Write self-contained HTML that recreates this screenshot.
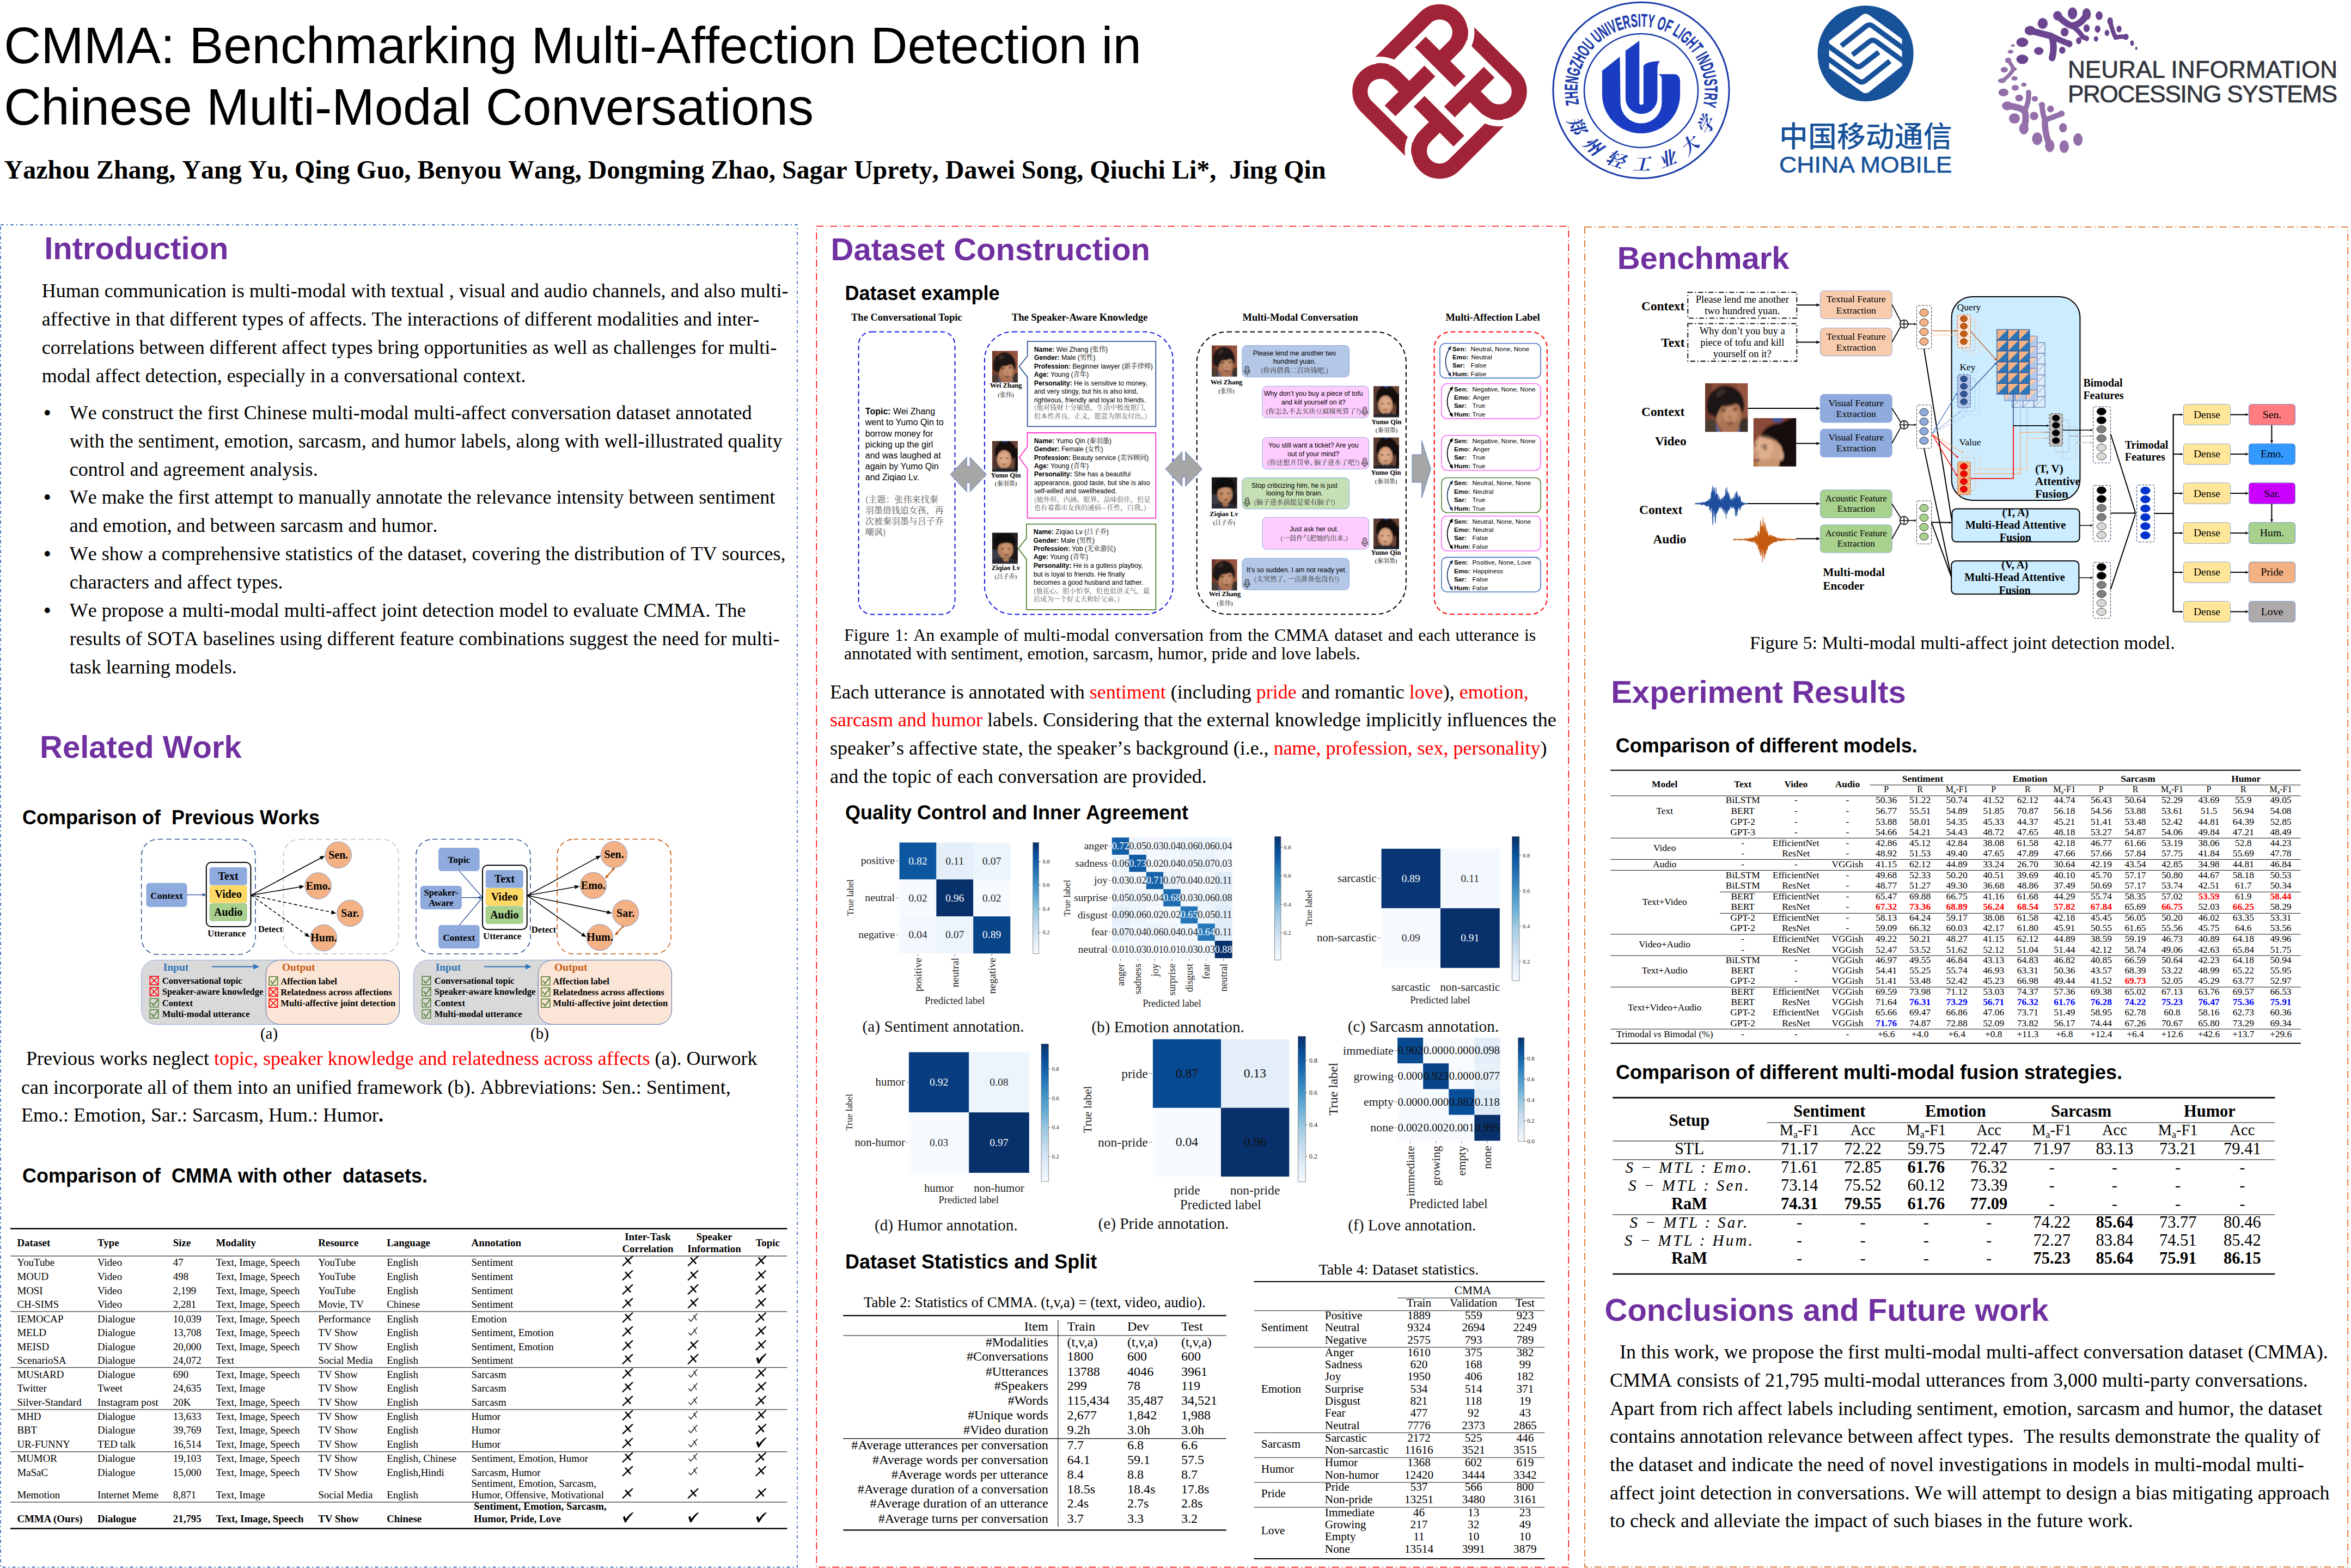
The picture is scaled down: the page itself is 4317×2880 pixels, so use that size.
<!DOCTYPE html>
<html lang="en"><head><meta charset="utf-8"><title>CMMA: Benchmarking Multi-Affection Detection in Chinese Multi-Modal Conversations</title>
<style>
html,body{margin:0;padding:0;background:#fff}
body{width:4317px;height:2880px;position:relative;overflow:hidden}
.l{position:absolute;white-space:nowrap;line-height:1;color:#000;font-kerning:none}
.hs{font-family:'Liberation Serif','Noto Serif CJK SC',serif}
.ha{font-family:'Liberation Sans','Noto Sans CJK SC',sans-serif}
.r{color:#f00}
svg{position:absolute;left:0;top:0}
svg text{white-space:pre}
.s{font-family:'Liberation Serif','Noto Serif CJK SC',serif}
.a{font-family:'Liberation Sans','Noto Sans CJK SC',sans-serif}
.as{font-family:'Liberation Sans','Noto Serif CJK SC',sans-serif}
.b{font-weight:bold}
.i{font-style:italic}
</style></head>
<body>
<div class="l ha" style="left:7.3px;top:36.9px;font-size:94.2px;">CMMA: Benchmarking Multi-Affection Detection in</div>
<div class="l ha" style="left:7.3px;top:150.1px;font-size:94.2px;">Chinese Multi-Modal Conversations</div>
<div class="l hs" style="left:7.5px;top:288.2px;font-size:48px;font-weight:bold;white-space:pre;">Yazhou Zhang, Yang Yu, Qing Guo, Benyou Wang, Dongming Zhao, Sagar Uprety, Dawei Song, Qiuchi Li*,  Jing Qin</div>
<div class="l ha" style="left:81.2px;top:427.2px;font-size:58px;font-weight:bold;color:#7030A0;">Introduction</div>
<div class="l hs" style="left:76.8px;top:515.9px;font-size:36px;">Human communication is multi-modal with textual , visual and audio channels, and also multi-</div>
<div class="l hs" style="left:76.8px;top:567.6px;font-size:36px;">affective in that different types of affects. The interactions of different modalities and inter-</div>
<div class="l hs" style="left:76.8px;top:619.6px;font-size:36px;">correlations between different affect types bring opportunities as well as challenges for multi-</div>
<div class="l hs" style="left:76.8px;top:671.5px;font-size:36px;">modal affect detection, especially in a conversational context.</div>
<div class="l ha" style="left:80.5px;top:739.5px;font-size:36px;">•</div>
<div class="l hs" style="left:127.8px;top:739.9px;font-size:36px;">We construct the first Chinese multi-modal multi-affect conversation dataset annotated</div>
<div class="l hs" style="left:127.8px;top:791.7px;font-size:36px;">with the sentiment, emotion, sarcasm, and humor labels, along with well-illustrated quality</div>
<div class="l hs" style="left:127.8px;top:843.6px;font-size:36px;">control and agreement analysis.</div>
<div class="l ha" style="left:80.5px;top:895.1px;font-size:36px;">•</div>
<div class="l hs" style="left:127.8px;top:895.4px;font-size:36px;">We make the first attempt to manually annotate the relevance intensity between sentiment</div>
<div class="l hs" style="left:127.8px;top:947.2px;font-size:36px;">and emotion, and between sarcasm and humor.</div>
<div class="l ha" style="left:80.5px;top:998.8px;font-size:36px;">•</div>
<div class="l hs" style="left:127.8px;top:999.1px;font-size:36px;">We show a comprehensive statistics of the dataset, covering the distribution of TV sources,</div>
<div class="l hs" style="left:127.8px;top:1050.9px;font-size:36px;">characters and affect types.</div>
<div class="l ha" style="left:80.5px;top:1102.5px;font-size:36px;">•</div>
<div class="l hs" style="left:127.8px;top:1102.8px;font-size:36px;">We propose a multi-modal multi-affect joint detection model to evaluate CMMA. The</div>
<div class="l hs" style="left:127.8px;top:1154.6px;font-size:36px;">results of SOTA baselines using different feature combinations suggest the need for multi-</div>
<div class="l hs" style="left:127.8px;top:1206.5px;font-size:36px;">task learning models.</div>
<div class="l ha" style="left:73.1px;top:1342.9px;font-size:58px;font-weight:bold;color:#7030A0;">Related Work</div>
<div class="l ha" style="left:41px;top:1483.5px;font-size:36px;font-weight:bold;white-space:pre;">Comparison of  Previous Works</div>
<div class="l hs" style="left:39px;top:1926.4px;font-size:36px;white-space:pre;"> Previous works neglect <span class="r">topic, speaker knowledge and relatedness across affects</span> (a). Ourwork</div>
<div class="l hs" style="left:39px;top:1978.5px;font-size:36px;">can incorporate all of them into an unified framework (b). Abbreviations: Sen.: Sentiment,</div>
<div class="l hs" style="left:39px;top:2030.3px;font-size:36px;">Emo.: Emotion, Sar.: Sarcasm, Hum.: Humor<b>.</b></div>
<div class="l ha" style="left:41px;top:2141.5px;font-size:36px;font-weight:bold;white-space:pre;">Comparison of  CMMA with other  datasets.</div>
<div class="l ha" style="left:1525.5px;top:428.5px;font-size:58px;font-weight:bold;color:#7030A0;">Dataset Construction</div>
<div class="l ha" style="left:1551.4px;top:520.5px;font-size:36px;font-weight:bold;">Dataset example</div>
<div class="l hs" style="left:1550px;top:1150.9px;font-size:31.9px;word-spacing:1.66px;">Figure 1: An example of multi-modal conversation from the CMMA dataset and each utterance is</div>
<div class="l hs" style="left:1550px;top:1185px;font-size:31.9px;">annotated with sentiment, emotion, sarcasm, humor, pride and love labels.</div>
<div class="l hs" style="left:1524px;top:1252.8px;font-size:36px;">Each utterance is annotated with <span class="r">sentiment</span> (including <span class="r">pride</span> and romantic <span class="r">love</span>), <span class="r">emotion,</span></div>
<div class="l hs" style="left:1524px;top:1304.3px;font-size:36px;"><span class="r">sarcasm and humor</span> labels. Considering that the external knowledge implicitly influences the</div>
<div class="l hs" style="left:1524px;top:1356px;font-size:36px;">speaker’s affective state, the speaker’s background (i.e., <span class="r">name, profession, sex, personality</span>)</div>
<div class="l hs" style="left:1524px;top:1407.8px;font-size:36px;">and the topic of each conversation are provided.</div>
<div class="l ha" style="left:1552px;top:1474.5px;font-size:36px;font-weight:bold;">Quality Control and Inner Agreement</div>
<div class="l ha" style="left:1552px;top:2299.5px;font-size:36px;font-weight:bold;">Dataset Statistics and Split</div>
<div class="l ha" style="left:2969.7px;top:445.1px;font-size:58px;font-weight:bold;color:#7030A0;">Benchmark</div>
<div class="l hs" style="left:3213px;top:1164.2px;font-size:34.1px;">Figure 5: Multi-modal multi-affect joint detection model.</div>
<div class="l ha" style="left:2958.2px;top:1241.7px;font-size:58px;font-weight:bold;color:#7030A0;">Experiment Results</div>
<div class="l ha" style="left:2966.8px;top:1352px;font-size:36px;font-weight:bold;">Comparison of different models.</div>
<div class="l ha" style="left:2967px;top:1952px;font-size:36px;font-weight:bold;">Comparison of different multi-modal fusion strategies.</div>
<div class="l ha" style="left:2946.5px;top:2376.9px;font-size:58px;font-weight:bold;color:#7030A0;">Conclusions and Future work</div>
<div class="l hs" style="left:2956px;top:2465.4px;font-size:36px;white-space:pre;">  In this work, we propose the first multi-modal multi-affect conversation dataset (CMMA).</div>
<div class="l hs" style="left:2956px;top:2517.1px;font-size:36px;white-space:pre;">CMMA consists of 21,795 multi-modal utterances from 3,000 multi-party conversations.</div>
<div class="l hs" style="left:2956px;top:2568.8px;font-size:36px;white-space:pre;">Apart from rich affect labels including sentiment, emotion, sarcasm and humor, the dataset</div>
<div class="l hs" style="left:2956px;top:2620.4px;font-size:36px;white-space:pre;">contains annotation relevance between affect types.  The results demonstrate the quality of</div>
<div class="l hs" style="left:2956px;top:2672px;font-size:36px;white-space:pre;">the dataset and indicate the need of novel investigations in models in multi-modal multi-</div>
<div class="l hs" style="left:2956px;top:2723.7px;font-size:36px;white-space:pre;">affect joint detection in conversations. We will attempt to design a bias mitigating approach</div>
<div class="l hs" style="left:2956px;top:2775.3px;font-size:36px;white-space:pre;">to check and alleviate the impact of such biases in the future work.</div>
<svg width="4317" height="2880" viewBox="0 0 4317 2880">
<g transform="translate(2643.5 168.1) rotate(45)">
<g id="pu"><path d="M-114.4 46 L-114.4 -77 A37.4 37.4 0 0 1 -39.6 -77 L-39.6 -39.3" fill="none" stroke="#A02337" stroke-width="28"/><path d="M-89.4 -39.3 L13.9 -39.3" fill="none" stroke="#A02337" stroke-width="28"/></g>
<use href="#pu" transform="rotate(90)"/>
<use href="#pu" transform="rotate(180)"/>
<use href="#pu" transform="rotate(270)"/>
<path transform="rotate(0)" d="M-53.3 -130.2 A58.2 58.2 0 0 1 -19.4 -85.1" fill="none" stroke="#fff" stroke-width="11.6"/>
<path transform="rotate(90)" d="M-53.3 -130.2 A58.2 58.2 0 0 1 -19.4 -85.1" fill="none" stroke="#fff" stroke-width="11.6"/>
<path transform="rotate(180)" d="M-53.3 -130.2 A58.2 58.2 0 0 1 -19.4 -85.1" fill="none" stroke="#fff" stroke-width="11.6"/>
<path transform="rotate(270)" d="M-53.3 -130.2 A58.2 58.2 0 0 1 -19.4 -85.1" fill="none" stroke="#fff" stroke-width="11.6"/>
</g>
<circle cx="3013.5" cy="165.9" r="161.6" fill="#fff" stroke="#1B3BAA" stroke-width="3"/>
<circle cx="3013.5" cy="166.5" r="104.5" fill="none" stroke="#1B3BAA" stroke-width="2.6"/>
<path id="zzp1" d="M2899.3 191.4 A117 117 0 1 1 3127 194.2" fill="none"/>
<text class="a b" font-size="33.5" fill="#1B3BAA" stroke="#1B3BAA" stroke-width="0.5" textLength="421.9" lengthAdjust="spacingAndGlyphs"><textPath href="#zzp1" textLength="421.9" lengthAdjust="spacingAndGlyphs">ZHENGZHOU UNIVERSITY OF LIGHT INDUSTRY</textPath></text>
<path id="zzp2" d="M2877.2 221 A147 147 0 0 0 3149.8 221" fill="none"/>
<text font-family="'Noto Serif CJK SC',serif" font-style="italic" font-weight="bold" font-size="33" fill="#1B3BAA" textLength="348.9" lengthAdjust="spacing"><textPath href="#zzp2" textLength="348.9" lengthAdjust="spacing">郑州轻工业大学</textPath></text>
<g transform="translate(2840 0) scale(0.21687)">
<path d="M470 600 L620 480 L625 870 A175 175 0 0 0 975 870 L975 660 Q970 640 945 628 L1090 628 Q1130 640 1130 690 L1130 800 A330 330 0 0 1 470 800 Z" fill="#1A3CC2"/>
<path d="M668 430 L785 345 L785 870 A17.5 17.5 0 0 0 820 870 L820 560 Q840 520 960 518 Q935 540 938 600 L938 830 A135 135 0 0 1 668 830 Z" fill="#1A3CC2"/>
</g>
<g transform="translate(3330 0) scale(0.12755)">
<circle cx="750" cy="770" r="690" fill="#18529A"/>
<path d="M225 590 L700 215 Q750 180 800 215 L1275 560 L1275 950 L800 1325 Q750 1360 700 1325 L225 980 Z" fill="#fff"/>
<path d="M400 660 L755 378 Q805 340 855 378 L1300 703" fill="none" stroke="#18529A" stroke-width="74" stroke-linejoin="round"/>
<path d="M400 660 L755 378 Q805 340 855 378 L1300 703" transform="rotate(180 750 770)" fill="none" stroke="#18529A" stroke-width="74" stroke-linejoin="round"/>
<path d="M560 790 L808 597 Q855 560 902 597 L1300 888" fill="none" stroke="#18529A" stroke-width="74" stroke-linejoin="round"/>
<path d="M560 790 L808 597 Q855 560 902 597 L1300 888" transform="rotate(180 750 770)" fill="none" stroke="#18529A" stroke-width="74" stroke-linejoin="round"/>
</g>
<text font-size="52.9" fill="#18529A" x="3267" y="270" font-family="'Noto Sans CJK SC',sans-serif" font-weight="500" textLength="317.6">中国移动通信</text>
<text class="a" font-size="43.4" fill="#18529A" x="3267" y="317" textLength="317.6" lengthAdjust="spacingAndGlyphs" stroke="#18529A" stroke-width="0.6">CHINA MOBILE</text>
<g transform="translate(3640 0) scale(0.28796)">
<ellipse cx="575" cy="85" rx="30" ry="38" fill="#6B4590"/>
<ellipse cx="665" cy="90" rx="27" ry="38" fill="#6B4590"/>
<ellipse cx="745" cy="100" rx="22" ry="28" fill="#6B4590"/>
<ellipse cx="480" cy="100" rx="28" ry="30" fill="#6B4590"/>
<ellipse cx="385" cy="150" rx="32" ry="35" fill="#6B4590"/>
<ellipse cx="305" cy="195" rx="35" ry="30" fill="#6B4590"/>
<ellipse cx="525" cy="205" rx="25" ry="28" fill="#6B4590"/>
<ellipse cx="665" cy="180" rx="20" ry="25" fill="#6B4590"/>
<ellipse cx="735" cy="185" rx="18" ry="23" fill="#6B4590"/>
<ellipse cx="815" cy="135" rx="18" ry="25" fill="#6B4590"/>
<ellipse cx="872" cy="185" rx="16" ry="22" fill="#6B4590"/>
<ellipse cx="795" cy="210" rx="15" ry="20" fill="#6B4590"/>
<ellipse cx="915" cy="235" rx="18" ry="20" fill="#6B4590"/>
<ellipse cx="255" cy="270" rx="38" ry="30" fill="#6B4590"/>
<ellipse cx="360" cy="325" rx="30" ry="25" fill="#6B4590"/>
<ellipse cx="510" cy="320" rx="20" ry="22" fill="#6B4590"/>
<ellipse cx="555" cy="280" rx="20" ry="22" fill="#6B4590"/>
<ellipse cx="615" cy="260" rx="17" ry="22" fill="#6B4590"/>
<ellipse cx="725" cy="248" rx="14" ry="17" fill="#6B4590"/>
<ellipse cx="665" cy="245" rx="12" ry="18" fill="#6B4590"/>
<ellipse cx="955" cy="275" rx="12" ry="18" fill="#6B4590"/>
<ellipse cx="982" cy="308" rx="7" ry="10" fill="#6B4590"/>
<ellipse cx="255" cy="378" rx="38" ry="30" fill="#6B4590"/>
<ellipse cx="445" cy="370" rx="20" ry="18" fill="#6B4590"/>
<path d="M305 195 Q380 215 440 230 Q465 290 445 370" fill="none" stroke="#6B4590" stroke-width="42" stroke-linecap="round" stroke-linejoin="round"/>
<path d="M480 100 Q540 160 575 165 Q640 150 665 90" fill="none" stroke="#6B4590" stroke-width="42" stroke-linecap="round" stroke-linejoin="round"/>
<path d="M440 230 Q500 260 555 280" fill="none" stroke="#6B4590" stroke-width="38" stroke-linecap="round" stroke-linejoin="round"/>
<path d="M575 165 Q620 200 640 235 L665 245" fill="none" stroke="#6B4590" stroke-width="32" stroke-linecap="round" stroke-linejoin="round"/>
<path d="M815 135 Q830 200 850 240 Q880 230 915 235" fill="none" stroke="#6B4590" stroke-width="28" stroke-linecap="round" stroke-linejoin="round"/>
<ellipse cx="195" cy="290" rx="12" ry="8" fill="#9470AA"/>
<ellipse cx="180" cy="330" rx="18" ry="12" fill="#9470AA"/>
<ellipse cx="165" cy="385" rx="20" ry="18" fill="#9470AA"/>
<ellipse cx="140" cy="445" rx="23" ry="18" fill="#9470AA"/>
<ellipse cx="200" cy="440" rx="20" ry="12" fill="#9470AA"/>
<ellipse cx="125" cy="515" rx="25" ry="15" fill="#9470AA"/>
<ellipse cx="205" cy="500" rx="20" ry="14" fill="#9470AA"/>
<ellipse cx="265" cy="540" rx="17" ry="13" fill="#9470AA"/>
<ellipse cx="210" cy="560" rx="23" ry="18" fill="#9470AA"/>
<ellipse cx="135" cy="590" rx="32" ry="25" fill="#9470AA"/>
<ellipse cx="295" cy="590" rx="17" ry="17" fill="#9470AA"/>
<ellipse cx="235" cy="625" rx="25" ry="22" fill="#9470AA"/>
<ellipse cx="335" cy="630" rx="20" ry="18" fill="#9470AA"/>
<ellipse cx="160" cy="675" rx="35" ry="28" fill="#9470AA"/>
<ellipse cx="380" cy="668" rx="20" ry="18" fill="#9470AA"/>
<ellipse cx="435" cy="695" rx="22" ry="22" fill="#9470AA"/>
<ellipse cx="205" cy="755" rx="35" ry="33" fill="#9470AA"/>
<ellipse cx="330" cy="740" rx="27" ry="27" fill="#9470AA"/>
<ellipse cx="505" cy="725" rx="20" ry="20" fill="#9470AA"/>
<ellipse cx="265" cy="820" rx="30" ry="38" fill="#9470AA"/>
<ellipse cx="515" cy="815" rx="25" ry="30" fill="#9470AA"/>
<ellipse cx="350" cy="885" rx="33" ry="40" fill="#9470AA"/>
<ellipse cx="610" cy="890" rx="30" ry="40" fill="#9470AA"/>
<ellipse cx="430" cy="930" rx="30" ry="40" fill="#9470AA"/>
<ellipse cx="522" cy="935" rx="30" ry="40" fill="#9470AA"/>
<path d="M160 675 Q230 680 270 705 Q285 760 265 820" fill="none" stroke="#9470AA" stroke-width="42" stroke-linecap="round" stroke-linejoin="round"/>
<path d="M295 590 Q300 650 270 705" fill="none" stroke="#9470AA" stroke-width="32" stroke-linecap="round" stroke-linejoin="round"/>
<path d="M380 668 Q385 730 400 765 Q460 745 505 725" fill="none" stroke="#9470AA" stroke-width="34" stroke-linecap="round" stroke-linejoin="round"/>
<path d="M400 765 Q395 840 430 930" fill="none" stroke="#9470AA" stroke-width="40" stroke-linecap="round" stroke-linejoin="round"/>
<path d="M165 385 Q190 420 200 440 Q170 490 125 515" fill="none" stroke="#9470AA" stroke-width="24" stroke-linecap="round" stroke-linejoin="round"/>
</g>
<text class="a" font-size="44.1" fill="#32363D" x="3796.9" y="142.5" textLength="495.3" stroke="#32363D" stroke-width="0.7">NEURAL INFORMATION</text>
<text class="a" font-size="44.1" fill="#32363D" x="3796.9" y="188" textLength="495.3" stroke="#32363D" stroke-width="0.7">PROCESSING SYSTEMS</text>
<rect x="1" y="413" width="1463" height="2465.5" fill="none" stroke="#4472C4" stroke-width="1.8" stroke-dasharray="6 5 2 5"/>
<rect x="259.7" y="1541.5" width="209.2" height="211.7" fill="none" stroke="#2F5597" stroke-width="1.6" rx="30" stroke-dasharray="9.5 6"/>
<rect x="520.4" y="1541.5" width="211.7" height="210.5" fill="none" stroke="#BFBFBF" stroke-width="1.6" rx="30" stroke-dasharray="9.5 6"/>
<rect x="269" y="1622.3" width="74" height="43" fill="#8FAADC" stroke="#7F9FD6" stroke-width="0.8" rx="5"/>
<text class="s b" font-size="17.5" text-anchor="middle" x="306" y="1651">Context</text>
<line x1="343" y1="1643.5" x2="371.8" y2="1643.5" stroke="#2F5597" stroke-width="1.4"/>
<polygon points="378.8,1643.5 371.8,1646.4 371.8,1640.6" fill="#2F5597"/>
<rect x="378.8" y="1584" width="81.7" height="118" fill="#fff" stroke="#000" stroke-width="2" rx="9"/>
<rect x="385.1" y="1593.5" width="68" height="31.5" fill="#8FAADC" stroke="#7F9FD6" stroke-width="0.8" rx="3.5"/>
<text class="s b" font-size="20" text-anchor="middle" x="419.1" y="1615.8">Text</text>
<rect x="385.1" y="1626.6" width="68" height="31.5" fill="#FFD966" stroke="#E5C45A" stroke-width="0.8" rx="3.5"/>
<text class="s b" font-size="20" text-anchor="middle" x="419.1" y="1648.9">Video</text>
<rect x="385.1" y="1659.7" width="68" height="31.5" fill="#A9D18E" stroke="#8DBB70" stroke-width="0.8" rx="3.5"/>
<text class="s b" font-size="20" text-anchor="middle" x="419.1" y="1682">Audio</text>
<text class="s b" font-size="16.6" text-anchor="middle" x="416.3" y="1720">Utterance</text>
<text class="s b" font-size="16.6" x="474" y="1712.4">Detect</text>
<line x1="461.2" y1="1644.3" x2="588.5" y2="1576.2" stroke="#000" stroke-width="1.6"/>
<polygon points="596.4,1572 590.2,1579.6 586.7,1572.9" fill="#000"/>
<line x1="461.2" y1="1644.3" x2="549.8" y2="1629.2" stroke="#000" stroke-width="1.6"/>
<polygon points="558.7,1627.7 550.5,1632.9 549.2,1625.5" fill="#000"/>
<line x1="461.2" y1="1644.3" x2="608.5" y2="1675.5" stroke="#000" stroke-width="1.6" stroke-dasharray="6 4"/>
<polygon points="617.3,1677.4 607.7,1679.2 609.3,1671.8" fill="#000"/>
<line x1="461.2" y1="1644.3" x2="561.6" y2="1716.1" stroke="#000" stroke-width="1.6" stroke-dasharray="6 4"/>
<polygon points="568.9,1721.3 559.4,1719.1 563.8,1713" fill="#000"/>
<circle cx="621.2" cy="1570.3" r="24.2" fill="#F4B183" stroke="#7F9FD6" stroke-width="1"/>
<text class="s b" font-size="20" text-anchor="middle" x="621.2" y="1576.8">Sen.</text>
<circle cx="584.2" cy="1627" r="24.2" fill="#F4B183" stroke="#7F9FD6" stroke-width="1"/>
<text class="s b" font-size="20" text-anchor="middle" x="584.2" y="1633.5">Emo.</text>
<circle cx="642.9" cy="1677.4" r="24.2" fill="#F4B183" stroke="#7F9FD6" stroke-width="1"/>
<text class="s b" font-size="20" text-anchor="middle" x="642.9" y="1683.9">Sar.</text>
<circle cx="594.4" cy="1722.6" r="24.2" fill="#F4B183" stroke="#7F9FD6" stroke-width="1"/>
<text class="s b" font-size="20" text-anchor="middle" x="594.4" y="1729.1">Hum.</text>
<rect x="259.7" y="1763.4" width="473.7" height="118.1" fill="#D9D9D9" stroke="#8FAADC" stroke-width="1" rx="26"/>
<rect x="488.2" y="1763.4" width="245.2" height="118.1" fill="#FBE5D6" stroke="#4A6FB5" stroke-width="1" rx="26"/>
<text class="s b" font-size="19.5" fill="#2E75B6" x="299.7" y="1782.5">Input</text>
<line x1="389" y1="1775.4" x2="465.2" y2="1775.4" stroke="#2E75B6" stroke-width="2"/>
<polygon points="476.2,1775.4 465.2,1780.4 465.2,1770.4" fill="#2E75B6"/>
<text class="s b" font-size="19.5" fill="#C55A11" x="517.9" y="1782.5">Output</text>
<rect x="275.3" y="1793.3" width="15.5" height="15.5" fill="none" stroke="#FF0000" stroke-width="1.6"/>
<path d="M276.3 1794.3 L289.8 1807.8 M289.8 1794.3 L276.3 1807.8" fill="none" stroke="#FF0000" stroke-width="1.6"/>
<text class="s b" font-size="16.6" x="297.7" y="1806.8">Conversational topic</text>
<rect x="275.3" y="1813.7" width="15.5" height="15.5" fill="none" stroke="#FF0000" stroke-width="1.6"/>
<path d="M276.3 1814.7 L289.8 1828.2 M289.8 1814.7 L276.3 1828.2" fill="none" stroke="#FF0000" stroke-width="1.6"/>
<text class="s b" font-size="16.6" x="297.7" y="1827.2">Speaker-aware knowledge</text>
<rect x="275.3" y="1834.1" width="15.5" height="15.5" fill="none" stroke="#548235" stroke-width="1.6"/>
<path d="M277.8 1841.1 L281.8 1846.6 L290.3 1835.6" fill="none" stroke="#548235" stroke-width="2"/>
<text class="s b" font-size="16.6" x="297.7" y="1847.6">Context</text>
<rect x="275.3" y="1854.5" width="15.5" height="15.5" fill="none" stroke="#548235" stroke-width="1.6"/>
<path d="M277.8 1861.5 L281.8 1867 L290.3 1856" fill="none" stroke="#548235" stroke-width="2"/>
<text class="s b" font-size="16.6" x="297.7" y="1868">Multi-modal utterance</text>
<rect x="494.2" y="1794" width="15.5" height="15.5" fill="none" stroke="#548235" stroke-width="1.6"/>
<path d="M496.7 1801 L500.7 1806.5 L509.2 1795.5" fill="none" stroke="#548235" stroke-width="2"/>
<text class="s b" font-size="16.6" x="515.3" y="1807.5">Affection label</text>
<rect x="494.2" y="1814.4" width="15.5" height="15.5" fill="none" stroke="#FF0000" stroke-width="1.6"/>
<path d="M495.2 1815.4 L508.7 1828.9 M508.7 1815.4 L495.2 1828.9" fill="none" stroke="#FF0000" stroke-width="1.6"/>
<text class="s b" font-size="16.6" x="515.3" y="1827.9">Relatedness across affections</text>
<rect x="494.2" y="1834.8" width="15.5" height="15.5" fill="none" stroke="#FF0000" stroke-width="1.6"/>
<path d="M495.2 1835.8 L508.7 1849.3 M508.7 1835.8 L495.2 1849.3" fill="none" stroke="#FF0000" stroke-width="1.6"/>
<text class="s b" font-size="16.6" x="515.3" y="1848.3">Multi-affective joint detection</text>
<text class="s" font-size="29" text-anchor="middle" x="494" y="1907.5">(a)</text>
<rect x="764" y="1541.5" width="210" height="210.5" fill="none" stroke="#2F5597" stroke-width="1.6" rx="30" stroke-dasharray="9.5 6"/>
<rect x="1023" y="1541.5" width="209" height="210.5" fill="none" stroke="#C55A11" stroke-width="1.6" rx="30" stroke-dasharray="9.5 6"/>
<line x1="843" y1="1599.4" x2="885.2" y2="1647.5" stroke="#2F5597" stroke-width="1.4"/>
<line x1="847.4" y1="1648.6" x2="878" y2="1648.6" stroke="#2F5597" stroke-width="1.4"/>
<line x1="843" y1="1699.6" x2="885.2" y2="1649.5" stroke="#2F5597" stroke-width="1.4"/>
<line x1="870" y1="1648.6" x2="879" y2="1648.6" stroke="#2F5597" stroke-width="1.4"/>
<polygon points="886,1648.6 879,1651.5 879,1645.7" fill="#2F5597"/>
<rect x="805.6" y="1557.6" width="74.5" height="41.8" fill="#8FAADC" stroke="#7F9FD6" stroke-width="0.8" rx="5"/>
<text class="s b" font-size="17.5" text-anchor="middle" x="842.8" y="1585">Topic</text>
<rect x="772.4" y="1627.4" width="75" height="42.4" fill="#8FAADC" stroke="#7F9FD6" stroke-width="0.8" rx="5"/>
<text class="s b" font-size="16.6" text-anchor="middle" x="810" y="1645">Speaker-</text>
<text class="s b" font-size="16.6" text-anchor="middle" x="810" y="1664">Aware</text>
<rect x="805.6" y="1699.6" width="74.5" height="42.1" fill="#8FAADC" stroke="#7F9FD6" stroke-width="0.8" rx="5"/>
<text class="s b" font-size="17.5" text-anchor="middle" x="842.8" y="1727.5">Context</text>
<rect x="886" y="1589.2" width="81.7" height="118" fill="#fff" stroke="#000" stroke-width="2" rx="9"/>
<rect x="892.3" y="1598.7" width="68" height="31.5" fill="#8FAADC" stroke="#7F9FD6" stroke-width="0.8" rx="3.5"/>
<text class="s b" font-size="20" text-anchor="middle" x="926.3" y="1621">Text</text>
<rect x="892.3" y="1631.8" width="68" height="31.5" fill="#FFD966" stroke="#E5C45A" stroke-width="0.8" rx="3.5"/>
<text class="s b" font-size="20" text-anchor="middle" x="926.3" y="1654.1">Video</text>
<rect x="892.3" y="1664.9" width="68" height="31.5" fill="#A9D18E" stroke="#8DBB70" stroke-width="0.8" rx="3.5"/>
<text class="s b" font-size="20" text-anchor="middle" x="926.3" y="1687.2">Audio</text>
<text class="s b" font-size="16.6" text-anchor="middle" x="922.2" y="1725.2">Utterance</text>
<text class="s b" font-size="16.6" x="975.8" y="1713.2">Detect</text>
<line x1="968.1" y1="1644.8" x2="1095.4" y2="1575.9" stroke="#000" stroke-width="1.6"/>
<polygon points="1103.3,1571.6 1097.2,1579.2 1093.6,1572.6" fill="#000"/>
<line x1="968.1" y1="1644.8" x2="1055.4" y2="1629.3" stroke="#000" stroke-width="1.6"/>
<polygon points="1064.3,1627.7 1056.1,1633 1054.8,1625.6" fill="#000"/>
<line x1="968.1" y1="1644.8" x2="1114.9" y2="1675.4" stroke="#000" stroke-width="1.6"/>
<polygon points="1123.7,1677.2 1114.1,1679.1 1115.7,1671.7" fill="#000"/>
<line x1="968.1" y1="1644.8" x2="1069.1" y2="1716.1" stroke="#000" stroke-width="1.6"/>
<polygon points="1076.5,1721.3 1067,1719.2 1071.3,1713" fill="#000"/>
<line x1="1115.6" y1="1608.7" x2="1124.9" y2="1597.8" stroke="#C55A11" stroke-width="2"/>
<polygon points="1129.5,1592.5 1127.2,1599.7 1122.7,1595.9" fill="#C55A11"/>
<polygon points="1111,1614 1113.3,1606.8 1117.8,1610.6" fill="#C55A11"/>
<line x1="1133.6" y1="1713.2" x2="1142.9" y2="1702.3" stroke="#C55A11" stroke-width="2"/>
<polygon points="1147.5,1697 1145.2,1704.2 1140.7,1700.4" fill="#C55A11"/>
<polygon points="1129,1718.5 1131.3,1711.3 1135.8,1715.1" fill="#C55A11"/>
<circle cx="1127.6" cy="1569.5" r="24.2" fill="#F4B183" stroke="#7F9FD6" stroke-width="1"/>
<text class="s b" font-size="20" text-anchor="middle" x="1127.6" y="1576">Sen.</text>
<circle cx="1089.3" cy="1626.4" r="24.2" fill="#F4B183" stroke="#7F9FD6" stroke-width="1"/>
<text class="s b" font-size="20" text-anchor="middle" x="1089.3" y="1632.9">Emo.</text>
<circle cx="1148.7" cy="1677.2" r="24.2" fill="#F4B183" stroke="#7F9FD6" stroke-width="1"/>
<text class="s b" font-size="20" text-anchor="middle" x="1148.7" y="1683.7">Sar.</text>
<circle cx="1101.5" cy="1721.8" r="24.2" fill="#F4B183" stroke="#7F9FD6" stroke-width="1"/>
<text class="s b" font-size="20" text-anchor="middle" x="1101.5" y="1728.3">Hum.</text>
<rect x="759.7" y="1763.4" width="473.7" height="118.1" fill="#D9D9D9" stroke="#8FAADC" stroke-width="1" rx="26"/>
<rect x="988.2" y="1763.4" width="245.2" height="118.1" fill="#FBE5D6" stroke="#4A6FB5" stroke-width="1" rx="26"/>
<text class="s b" font-size="19.5" fill="#2E75B6" x="799.7" y="1782.5">Input</text>
<line x1="889" y1="1775.4" x2="965.2" y2="1775.4" stroke="#2E75B6" stroke-width="2"/>
<polygon points="976.2,1775.4 965.2,1780.4 965.2,1770.4" fill="#2E75B6"/>
<text class="s b" font-size="19.5" fill="#C55A11" x="1017.9" y="1782.5">Output</text>
<rect x="775.3" y="1793.3" width="15.5" height="15.5" fill="none" stroke="#548235" stroke-width="1.6"/>
<path d="M777.8 1800.3 L781.8 1805.8 L790.3 1794.8" fill="none" stroke="#548235" stroke-width="2"/>
<text class="s b" font-size="16.6" x="797.7" y="1806.8">Conversational topic</text>
<rect x="775.3" y="1813.7" width="15.5" height="15.5" fill="none" stroke="#548235" stroke-width="1.6"/>
<path d="M777.8 1820.7 L781.8 1826.2 L790.3 1815.2" fill="none" stroke="#548235" stroke-width="2"/>
<text class="s b" font-size="16.6" x="797.7" y="1827.2">Speaker-aware knowledge</text>
<rect x="775.3" y="1834.1" width="15.5" height="15.5" fill="none" stroke="#548235" stroke-width="1.6"/>
<path d="M777.8 1841.1 L781.8 1846.6 L790.3 1835.6" fill="none" stroke="#548235" stroke-width="2"/>
<text class="s b" font-size="16.6" x="797.7" y="1847.6">Context</text>
<rect x="775.3" y="1854.5" width="15.5" height="15.5" fill="none" stroke="#548235" stroke-width="1.6"/>
<path d="M777.8 1861.5 L781.8 1867 L790.3 1856" fill="none" stroke="#548235" stroke-width="2"/>
<text class="s b" font-size="16.6" x="797.7" y="1868">Multi-modal utterance</text>
<rect x="994.2" y="1794" width="15.5" height="15.5" fill="none" stroke="#548235" stroke-width="1.6"/>
<path d="M996.7 1801 L1000.7 1806.5 L1009.2 1795.5" fill="none" stroke="#548235" stroke-width="2"/>
<text class="s b" font-size="16.6" x="1015.3" y="1807.5">Affection label</text>
<rect x="994.2" y="1814.4" width="15.5" height="15.5" fill="none" stroke="#548235" stroke-width="1.6"/>
<path d="M996.7 1821.4 L1000.7 1826.9 L1009.2 1815.9" fill="none" stroke="#548235" stroke-width="2"/>
<text class="s b" font-size="16.6" x="1015.3" y="1827.9">Relatedness across affections</text>
<rect x="994.2" y="1834.8" width="15.5" height="15.5" fill="none" stroke="#548235" stroke-width="1.6"/>
<path d="M996.7 1841.8 L1000.7 1847.3 L1009.2 1836.3" fill="none" stroke="#548235" stroke-width="2"/>
<text class="s b" font-size="16.6" x="1015.3" y="1848.3">Multi-affective joint detection</text>
<text class="s" font-size="29" text-anchor="middle" x="991" y="1907.5">(b)</text>
<line x1="19" y1="2256.7" x2="1445.4" y2="2256.7" stroke="#000" stroke-width="2.4"/>
<line x1="19" y1="2307" x2="1445.4" y2="2307" stroke="#000" stroke-width="1.1"/>
<line x1="19" y1="2409" x2="1445.4" y2="2409" stroke="#000" stroke-width="1.1"/>
<line x1="19" y1="2511.8" x2="1445.4" y2="2511.8" stroke="#000" stroke-width="1.1"/>
<line x1="19" y1="2589" x2="1445.4" y2="2589" stroke="#000" stroke-width="1.1"/>
<line x1="19" y1="2666.5" x2="1445.4" y2="2666.5" stroke="#000" stroke-width="1.1"/>
<line x1="19" y1="2759" x2="1445.4" y2="2759" stroke="#000" stroke-width="1.1"/>
<line x1="19" y1="2807.5" x2="1445.4" y2="2807.5" stroke="#000" stroke-width="2.4"/>
<text class="s b" font-size="18.9" x="31.4" y="2289.4">Dataset</text>
<text class="s b" font-size="18.9" x="179.1" y="2289.4">Type</text>
<text class="s b" font-size="18.9" x="317.8" y="2289.4">Size</text>
<text class="s b" font-size="18.9" x="396.6" y="2289.4">Modality</text>
<text class="s b" font-size="18.9" x="584.2" y="2289.4">Resource</text>
<text class="s b" font-size="18.9" x="710.2" y="2289.4">Language</text>
<text class="s b" font-size="18.9" x="865.6" y="2289.4">Annotation</text>
<text class="s b" font-size="18.9" text-anchor="middle" x="1189.5" y="2278">Inter-Task</text>
<text class="s b" font-size="18.9" text-anchor="middle" x="1189.5" y="2299.8">Correlation</text>
<text class="s b" font-size="18.9" text-anchor="middle" x="1311.5" y="2278">Speaker</text>
<text class="s b" font-size="18.9" text-anchor="middle" x="1311.5" y="2299.8">Information</text>
<text class="s b" font-size="18.9" x="1387.5" y="2289.4">Topic</text>
<text class="s" font-size="18.9" x="31.4" y="2324.6">YouTube</text>
<text class="s" font-size="18.9" x="179.1" y="2324.6">Video</text>
<text class="s" font-size="18.9" x="317.8" y="2324.6">47</text>
<text class="s" font-size="18.9" x="396.6" y="2324.6">Text, Image, Speech</text>
<text class="s" font-size="18.9" x="584.2" y="2324.6">YouTube</text>
<text class="s" font-size="18.9" x="710.2" y="2324.6">English</text>
<text class="s" font-size="18.9" x="865.6" y="2324.6">Sentiment</text>
<path d="M1143.7 2324.4 L1161.3 2307.6" fill="none" stroke="#000" stroke-width="2.3" stroke-linecap="round"/>
<path d="M1148.8 2310.4 Q1152.4 2315 1157.4 2320.6" fill="none" stroke="#000" stroke-width="2.6" stroke-linecap="round"/>
<path d="M1263.8 2324.4 L1281.4 2307.6" fill="none" stroke="#000" stroke-width="2.3" stroke-linecap="round"/>
<path d="M1268.9 2310.4 Q1272.5 2315 1277.5 2320.6" fill="none" stroke="#000" stroke-width="2.6" stroke-linecap="round"/>
<path d="M1388.3 2324.4 L1405.9 2307.6" fill="none" stroke="#000" stroke-width="2.3" stroke-linecap="round"/>
<path d="M1393.4 2310.4 Q1397 2315 1402 2320.6" fill="none" stroke="#000" stroke-width="2.6" stroke-linecap="round"/>
<text class="s" font-size="18.9" x="31.4" y="2351">MOUD</text>
<text class="s" font-size="18.9" x="179.1" y="2351">Video</text>
<text class="s" font-size="18.9" x="317.8" y="2351">498</text>
<text class="s" font-size="18.9" x="396.6" y="2351">Text, Image, Speech</text>
<text class="s" font-size="18.9" x="584.2" y="2351">YouTube</text>
<text class="s" font-size="18.9" x="710.2" y="2351">English</text>
<text class="s" font-size="18.9" x="865.6" y="2351">Sentiment</text>
<path d="M1143.7 2350.8 L1161.3 2334" fill="none" stroke="#000" stroke-width="2.3" stroke-linecap="round"/>
<path d="M1148.8 2336.8 Q1152.4 2341.4 1157.4 2347" fill="none" stroke="#000" stroke-width="2.6" stroke-linecap="round"/>
<path d="M1263.8 2350.8 L1281.4 2334" fill="none" stroke="#000" stroke-width="2.3" stroke-linecap="round"/>
<path d="M1268.9 2336.8 Q1272.5 2341.4 1277.5 2347" fill="none" stroke="#000" stroke-width="2.6" stroke-linecap="round"/>
<path d="M1388.3 2350.8 L1405.9 2334" fill="none" stroke="#000" stroke-width="2.3" stroke-linecap="round"/>
<path d="M1393.4 2336.8 Q1397 2341.4 1402 2347" fill="none" stroke="#000" stroke-width="2.6" stroke-linecap="round"/>
<text class="s" font-size="18.9" x="31.4" y="2376.9">MOSI</text>
<text class="s" font-size="18.9" x="179.1" y="2376.9">Video</text>
<text class="s" font-size="18.9" x="317.8" y="2376.9">2,199</text>
<text class="s" font-size="18.9" x="396.6" y="2376.9">Text, Image, Speech</text>
<text class="s" font-size="18.9" x="584.2" y="2376.9">YouTube</text>
<text class="s" font-size="18.9" x="710.2" y="2376.9">English</text>
<text class="s" font-size="18.9" x="865.6" y="2376.9">Sentiment</text>
<path d="M1143.7 2376.7 L1161.3 2359.9" fill="none" stroke="#000" stroke-width="2.3" stroke-linecap="round"/>
<path d="M1148.8 2362.7 Q1152.4 2367.3 1157.4 2372.9" fill="none" stroke="#000" stroke-width="2.6" stroke-linecap="round"/>
<path d="M1263.8 2376.7 L1281.4 2359.9" fill="none" stroke="#000" stroke-width="2.3" stroke-linecap="round"/>
<path d="M1268.9 2362.7 Q1272.5 2367.3 1277.5 2372.9" fill="none" stroke="#000" stroke-width="2.6" stroke-linecap="round"/>
<path d="M1388.3 2376.7 L1405.9 2359.9" fill="none" stroke="#000" stroke-width="2.3" stroke-linecap="round"/>
<path d="M1393.4 2362.7 Q1397 2367.3 1402 2372.9" fill="none" stroke="#000" stroke-width="2.6" stroke-linecap="round"/>
<text class="s" font-size="18.9" x="31.4" y="2402.2">CH-SIMS</text>
<text class="s" font-size="18.9" x="179.1" y="2402.2">Video</text>
<text class="s" font-size="18.9" x="317.8" y="2402.2">2,281</text>
<text class="s" font-size="18.9" x="396.6" y="2402.2">Text, Image, Speech</text>
<text class="s" font-size="18.9" x="584.2" y="2402.2">Movie, TV</text>
<text class="s" font-size="18.9" x="710.2" y="2402.2">Chinese</text>
<text class="s" font-size="18.9" x="865.6" y="2402.2">Sentiment</text>
<path d="M1143.7 2402 L1161.3 2385.2" fill="none" stroke="#000" stroke-width="2.3" stroke-linecap="round"/>
<path d="M1148.8 2388 Q1152.4 2392.6 1157.4 2398.2" fill="none" stroke="#000" stroke-width="2.6" stroke-linecap="round"/>
<path d="M1263.8 2402 L1281.4 2385.2" fill="none" stroke="#000" stroke-width="2.3" stroke-linecap="round"/>
<path d="M1268.9 2388 Q1272.5 2392.6 1277.5 2398.2" fill="none" stroke="#000" stroke-width="2.6" stroke-linecap="round"/>
<path d="M1388.3 2402 L1405.9 2385.2" fill="none" stroke="#000" stroke-width="2.3" stroke-linecap="round"/>
<path d="M1393.4 2388 Q1397 2392.6 1402 2398.2" fill="none" stroke="#000" stroke-width="2.6" stroke-linecap="round"/>
<text class="s" font-size="18.9" x="31.4" y="2428.5">IEMOCAP</text>
<text class="s" font-size="18.9" x="179.1" y="2428.5">Dialogue</text>
<text class="s" font-size="18.9" x="317.8" y="2428.5">10,039</text>
<text class="s" font-size="18.9" x="396.6" y="2428.5">Text, Image, Speech</text>
<text class="s" font-size="18.9" x="584.2" y="2428.5">Performance</text>
<text class="s" font-size="18.9" x="710.2" y="2428.5">English</text>
<text class="s" font-size="18.9" x="865.6" y="2428.5">Emotion</text>
<path d="M1143.7 2428.3 L1161.3 2411.5" fill="none" stroke="#000" stroke-width="2.3" stroke-linecap="round"/>
<path d="M1148.8 2414.3 Q1152.4 2418.9 1157.4 2424.5" fill="none" stroke="#000" stroke-width="2.6" stroke-linecap="round"/>
<path d="M1264.5 2422.4 L1268.5 2426.9 L1280.5 2412.4" fill="none" stroke="#000" stroke-width="1.3"/>
<path d="M1273.7 2415.4 L1279 2424.9" fill="none" stroke="#000" stroke-width="1.2"/>
<path d="M1388.3 2428.3 L1405.9 2411.5" fill="none" stroke="#000" stroke-width="2.3" stroke-linecap="round"/>
<path d="M1393.4 2414.3 Q1397 2418.9 1402 2424.5" fill="none" stroke="#000" stroke-width="2.6" stroke-linecap="round"/>
<text class="s" font-size="18.9" x="31.4" y="2453.9">MELD</text>
<text class="s" font-size="18.9" x="179.1" y="2453.9">Dialogue</text>
<text class="s" font-size="18.9" x="317.8" y="2453.9">13,708</text>
<text class="s" font-size="18.9" x="396.6" y="2453.9">Text, Image, Speech</text>
<text class="s" font-size="18.9" x="584.2" y="2453.9">TV Show</text>
<text class="s" font-size="18.9" x="710.2" y="2453.9">English</text>
<text class="s" font-size="18.9" x="865.6" y="2453.9">Sentiment, Emotion</text>
<path d="M1143.7 2453.7 L1161.3 2436.9" fill="none" stroke="#000" stroke-width="2.3" stroke-linecap="round"/>
<path d="M1148.8 2439.7 Q1152.4 2444.3 1157.4 2449.9" fill="none" stroke="#000" stroke-width="2.6" stroke-linecap="round"/>
<path d="M1264.5 2447.8 L1268.5 2452.3 L1280.5 2437.8" fill="none" stroke="#000" stroke-width="1.3"/>
<path d="M1273.7 2440.8 L1279 2450.3" fill="none" stroke="#000" stroke-width="1.2"/>
<path d="M1388.3 2453.7 L1405.9 2436.9" fill="none" stroke="#000" stroke-width="2.3" stroke-linecap="round"/>
<path d="M1393.4 2439.7 Q1397 2444.3 1402 2449.9" fill="none" stroke="#000" stroke-width="2.6" stroke-linecap="round"/>
<text class="s" font-size="18.9" x="31.4" y="2479.5">MEISD</text>
<text class="s" font-size="18.9" x="179.1" y="2479.5">Dialogue</text>
<text class="s" font-size="18.9" x="317.8" y="2479.5">20,000</text>
<text class="s" font-size="18.9" x="396.6" y="2479.5">Text, Image, Speech</text>
<text class="s" font-size="18.9" x="584.2" y="2479.5">TV Show</text>
<text class="s" font-size="18.9" x="710.2" y="2479.5">English</text>
<text class="s" font-size="18.9" x="865.6" y="2479.5">Sentiment, Emotion</text>
<path d="M1143.7 2479.3 L1161.3 2462.5" fill="none" stroke="#000" stroke-width="2.3" stroke-linecap="round"/>
<path d="M1148.8 2465.3 Q1152.4 2469.9 1157.4 2475.5" fill="none" stroke="#000" stroke-width="2.6" stroke-linecap="round"/>
<path d="M1263.8 2479.3 L1281.4 2462.5" fill="none" stroke="#000" stroke-width="2.3" stroke-linecap="round"/>
<path d="M1268.9 2465.3 Q1272.5 2469.9 1277.5 2475.5" fill="none" stroke="#000" stroke-width="2.6" stroke-linecap="round"/>
<path d="M1388.3 2479.3 L1405.9 2462.5" fill="none" stroke="#000" stroke-width="2.3" stroke-linecap="round"/>
<path d="M1393.4 2465.3 Q1397 2469.9 1402 2475.5" fill="none" stroke="#000" stroke-width="2.6" stroke-linecap="round"/>
<text class="s" font-size="18.9" x="31.4" y="2504.9">ScenarioSA</text>
<text class="s" font-size="18.9" x="179.1" y="2504.9">Dialogue</text>
<text class="s" font-size="18.9" x="317.8" y="2504.9">24,072</text>
<text class="s" font-size="18.9" x="396.6" y="2504.9">Text</text>
<text class="s" font-size="18.9" x="584.2" y="2504.9">Social Media</text>
<text class="s" font-size="18.9" x="710.2" y="2504.9">English</text>
<text class="s" font-size="18.9" x="865.6" y="2504.9">Sentiment</text>
<path d="M1143.7 2504.7 L1161.3 2487.9" fill="none" stroke="#000" stroke-width="2.3" stroke-linecap="round"/>
<path d="M1148.8 2490.7 Q1152.4 2495.3 1157.4 2500.9" fill="none" stroke="#000" stroke-width="2.6" stroke-linecap="round"/>
<path d="M1263.8 2504.7 L1281.4 2487.9" fill="none" stroke="#000" stroke-width="2.3" stroke-linecap="round"/>
<path d="M1268.9 2490.7 Q1272.5 2495.3 1277.5 2500.9" fill="none" stroke="#000" stroke-width="2.6" stroke-linecap="round"/>
<path d="M1388.5 2495.3 L1391.8 2492.5 L1393.8 2498.3 Q1399 2490.3 1406.5 2485.8 L1407.5 2487 Q1400 2494.3 1393.8 2504.5 L1391.8 2504.5 Z" fill="#000"/>
<text class="s" font-size="18.9" x="31.4" y="2531">MUStARD</text>
<text class="s" font-size="18.9" x="179.1" y="2531">Dialogue</text>
<text class="s" font-size="18.9" x="317.8" y="2531">690</text>
<text class="s" font-size="18.9" x="396.6" y="2531">Text, Image, Speech</text>
<text class="s" font-size="18.9" x="584.2" y="2531">TV Show</text>
<text class="s" font-size="18.9" x="710.2" y="2531">English</text>
<text class="s" font-size="18.9" x="865.6" y="2531">Sarcasm</text>
<path d="M1143.7 2530.8 L1161.3 2514" fill="none" stroke="#000" stroke-width="2.3" stroke-linecap="round"/>
<path d="M1148.8 2516.8 Q1152.4 2521.4 1157.4 2527" fill="none" stroke="#000" stroke-width="2.6" stroke-linecap="round"/>
<path d="M1264.5 2524.9 L1268.5 2529.4 L1280.5 2514.9" fill="none" stroke="#000" stroke-width="1.3"/>
<path d="M1273.7 2517.9 L1279 2527.4" fill="none" stroke="#000" stroke-width="1.2"/>
<path d="M1388.3 2530.8 L1405.9 2514" fill="none" stroke="#000" stroke-width="2.3" stroke-linecap="round"/>
<path d="M1393.4 2516.8 Q1397 2521.4 1402 2527" fill="none" stroke="#000" stroke-width="2.6" stroke-linecap="round"/>
<text class="s" font-size="18.9" x="31.4" y="2556.4">Twitter</text>
<text class="s" font-size="18.9" x="179.1" y="2556.4">Tweet</text>
<text class="s" font-size="18.9" x="317.8" y="2556.4">24,635</text>
<text class="s" font-size="18.9" x="396.6" y="2556.4">Text, Image</text>
<text class="s" font-size="18.9" x="584.2" y="2556.4">TV Show</text>
<text class="s" font-size="18.9" x="710.2" y="2556.4">English</text>
<text class="s" font-size="18.9" x="865.6" y="2556.4">Sarcasm</text>
<path d="M1143.7 2556.2 L1161.3 2539.4" fill="none" stroke="#000" stroke-width="2.3" stroke-linecap="round"/>
<path d="M1148.8 2542.2 Q1152.4 2546.8 1157.4 2552.4" fill="none" stroke="#000" stroke-width="2.6" stroke-linecap="round"/>
<path d="M1264.5 2550.3 L1268.5 2554.8 L1280.5 2540.3" fill="none" stroke="#000" stroke-width="1.3"/>
<path d="M1273.7 2543.3 L1279 2552.8" fill="none" stroke="#000" stroke-width="1.2"/>
<path d="M1388.3 2556.2 L1405.9 2539.4" fill="none" stroke="#000" stroke-width="2.3" stroke-linecap="round"/>
<path d="M1393.4 2542.2 Q1397 2546.8 1402 2552.4" fill="none" stroke="#000" stroke-width="2.6" stroke-linecap="round"/>
<text class="s" font-size="18.9" x="31.4" y="2581.7">Silver-Standard</text>
<text class="s" font-size="18.9" x="179.1" y="2581.7">Instagram post</text>
<text class="s" font-size="18.9" x="317.8" y="2581.7">20K</text>
<text class="s" font-size="18.9" x="396.6" y="2581.7">Text, Image, Speech</text>
<text class="s" font-size="18.9" x="584.2" y="2581.7">TV Show</text>
<text class="s" font-size="18.9" x="710.2" y="2581.7">English</text>
<text class="s" font-size="18.9" x="865.6" y="2581.7">Sarcasm</text>
<path d="M1143.7 2581.5 L1161.3 2564.7" fill="none" stroke="#000" stroke-width="2.3" stroke-linecap="round"/>
<path d="M1148.8 2567.5 Q1152.4 2572.1 1157.4 2577.7" fill="none" stroke="#000" stroke-width="2.6" stroke-linecap="round"/>
<path d="M1264.5 2575.6 L1268.5 2580.1 L1280.5 2565.6" fill="none" stroke="#000" stroke-width="1.3"/>
<path d="M1273.7 2568.6 L1279 2578.1" fill="none" stroke="#000" stroke-width="1.2"/>
<path d="M1388.3 2581.5 L1405.9 2564.7" fill="none" stroke="#000" stroke-width="2.3" stroke-linecap="round"/>
<path d="M1393.4 2567.5 Q1397 2572.1 1402 2577.7" fill="none" stroke="#000" stroke-width="2.6" stroke-linecap="round"/>
<text class="s" font-size="18.9" x="31.4" y="2608">MHD</text>
<text class="s" font-size="18.9" x="179.1" y="2608">Dialogue</text>
<text class="s" font-size="18.9" x="317.8" y="2608">13,633</text>
<text class="s" font-size="18.9" x="396.6" y="2608">Text, Image, Speech</text>
<text class="s" font-size="18.9" x="584.2" y="2608">TV Show</text>
<text class="s" font-size="18.9" x="710.2" y="2608">English</text>
<text class="s" font-size="18.9" x="865.6" y="2608">Humor</text>
<path d="M1143.7 2607.8 L1161.3 2591" fill="none" stroke="#000" stroke-width="2.3" stroke-linecap="round"/>
<path d="M1148.8 2593.8 Q1152.4 2598.4 1157.4 2604" fill="none" stroke="#000" stroke-width="2.6" stroke-linecap="round"/>
<path d="M1264.5 2601.9 L1268.5 2606.4 L1280.5 2591.9" fill="none" stroke="#000" stroke-width="1.3"/>
<path d="M1273.7 2594.9 L1279 2604.4" fill="none" stroke="#000" stroke-width="1.2"/>
<path d="M1388.3 2607.8 L1405.9 2591" fill="none" stroke="#000" stroke-width="2.3" stroke-linecap="round"/>
<path d="M1393.4 2593.8 Q1397 2598.4 1402 2604" fill="none" stroke="#000" stroke-width="2.6" stroke-linecap="round"/>
<text class="s" font-size="18.9" x="31.4" y="2633.3">BBT</text>
<text class="s" font-size="18.9" x="179.1" y="2633.3">Dialogue</text>
<text class="s" font-size="18.9" x="317.8" y="2633.3">39,769</text>
<text class="s" font-size="18.9" x="396.6" y="2633.3">Text, Image, Speech</text>
<text class="s" font-size="18.9" x="584.2" y="2633.3">TV Show</text>
<text class="s" font-size="18.9" x="710.2" y="2633.3">English</text>
<text class="s" font-size="18.9" x="865.6" y="2633.3">Humor</text>
<path d="M1143.7 2633.1 L1161.3 2616.3" fill="none" stroke="#000" stroke-width="2.3" stroke-linecap="round"/>
<path d="M1148.8 2619.1 Q1152.4 2623.7 1157.4 2629.3" fill="none" stroke="#000" stroke-width="2.6" stroke-linecap="round"/>
<path d="M1264.5 2627.2 L1268.5 2631.7 L1280.5 2617.2" fill="none" stroke="#000" stroke-width="1.3"/>
<path d="M1273.7 2620.2 L1279 2629.7" fill="none" stroke="#000" stroke-width="1.2"/>
<path d="M1388.3 2633.1 L1405.9 2616.3" fill="none" stroke="#000" stroke-width="2.3" stroke-linecap="round"/>
<path d="M1393.4 2619.1 Q1397 2623.7 1402 2629.3" fill="none" stroke="#000" stroke-width="2.6" stroke-linecap="round"/>
<text class="s" font-size="18.9" x="31.4" y="2659">UR-FUNNY</text>
<text class="s" font-size="18.9" x="179.1" y="2659">TED talk</text>
<text class="s" font-size="18.9" x="317.8" y="2659">16,514</text>
<text class="s" font-size="18.9" x="396.6" y="2659">Text, Image, Speech</text>
<text class="s" font-size="18.9" x="584.2" y="2659">TV Show</text>
<text class="s" font-size="18.9" x="710.2" y="2659">English</text>
<text class="s" font-size="18.9" x="865.6" y="2659">Humor</text>
<path d="M1143.7 2658.8 L1161.3 2642" fill="none" stroke="#000" stroke-width="2.3" stroke-linecap="round"/>
<path d="M1148.8 2644.8 Q1152.4 2649.4 1157.4 2655" fill="none" stroke="#000" stroke-width="2.6" stroke-linecap="round"/>
<path d="M1264.5 2652.9 L1268.5 2657.4 L1280.5 2642.9" fill="none" stroke="#000" stroke-width="1.3"/>
<path d="M1273.7 2645.9 L1279 2655.4" fill="none" stroke="#000" stroke-width="1.2"/>
<path d="M1388.5 2649.4 L1391.8 2646.6 L1393.8 2652.4 Q1399 2644.4 1406.5 2639.9 L1407.5 2641.1 Q1400 2648.4 1393.8 2658.6 L1391.8 2658.6 Z" fill="#000"/>
<text class="s" font-size="18.9" x="31.4" y="2685.4">MUMOR</text>
<text class="s" font-size="18.9" x="179.1" y="2685.4">Dialogue</text>
<text class="s" font-size="18.9" x="317.8" y="2685.4">19,103</text>
<text class="s" font-size="18.9" x="396.6" y="2685.4">Text, Image, Speech</text>
<text class="s" font-size="18.9" x="584.2" y="2685.4">TV Show</text>
<text class="s" font-size="18.9" x="710.2" y="2685.4">English, Chinese</text>
<text class="s" font-size="18.9" x="865.6" y="2685.4">Sentiment, Emotion, Humor</text>
<path d="M1143.7 2685.2 L1161.3 2668.4" fill="none" stroke="#000" stroke-width="2.3" stroke-linecap="round"/>
<path d="M1148.8 2671.2 Q1152.4 2675.8 1157.4 2681.4" fill="none" stroke="#000" stroke-width="2.6" stroke-linecap="round"/>
<path d="M1264.5 2679.3 L1268.5 2683.8 L1280.5 2669.3" fill="none" stroke="#000" stroke-width="1.3"/>
<path d="M1273.7 2672.3 L1279 2681.8" fill="none" stroke="#000" stroke-width="1.2"/>
<path d="M1388.3 2685.2 L1405.9 2668.4" fill="none" stroke="#000" stroke-width="2.3" stroke-linecap="round"/>
<path d="M1393.4 2671.2 Q1397 2675.8 1402 2681.4" fill="none" stroke="#000" stroke-width="2.6" stroke-linecap="round"/>
<text class="s" font-size="18.9" x="31.4" y="2710.7">MaSaC</text>
<text class="s" font-size="18.9" x="179.1" y="2710.7">Dialogue</text>
<text class="s" font-size="18.9" x="317.8" y="2710.7">15,000</text>
<text class="s" font-size="18.9" x="396.6" y="2710.7">Text, Image, Speech</text>
<text class="s" font-size="18.9" x="584.2" y="2710.7">TV Show</text>
<text class="s" font-size="18.9" x="710.2" y="2710.7">English,Hindi</text>
<text class="s" font-size="18.9" x="865.6" y="2710.7">Sarcasm, Humor</text>
<path d="M1143.7 2710.5 L1161.3 2693.7" fill="none" stroke="#000" stroke-width="2.3" stroke-linecap="round"/>
<path d="M1148.8 2696.5 Q1152.4 2701.1 1157.4 2706.7" fill="none" stroke="#000" stroke-width="2.6" stroke-linecap="round"/>
<path d="M1264.5 2704.6 L1268.5 2709.1 L1280.5 2694.6" fill="none" stroke="#000" stroke-width="1.3"/>
<path d="M1273.7 2697.6 L1279 2707.1" fill="none" stroke="#000" stroke-width="1.2"/>
<path d="M1388.3 2710.5 L1405.9 2693.7" fill="none" stroke="#000" stroke-width="2.3" stroke-linecap="round"/>
<path d="M1393.4 2696.5 Q1397 2701.1 1402 2706.7" fill="none" stroke="#000" stroke-width="2.6" stroke-linecap="round"/>
<text class="s" font-size="18.9" x="31.4" y="2751.6">Memotion</text>
<text class="s" font-size="18.9" x="179.1" y="2751.6">Internet Meme</text>
<text class="s" font-size="18.9" x="317.8" y="2751.6">8,871</text>
<text class="s" font-size="18.9" x="396.6" y="2751.6">Text, Image</text>
<text class="s" font-size="18.9" x="584.2" y="2751.6">Social Media</text>
<text class="s" font-size="18.9" x="710.2" y="2751.6">English</text>
<text class="s" font-size="18.9" x="865.6" y="2751.6">Humor, Offensive, Motivational</text>
<path d="M1143.7 2751.4 L1161.3 2734.6" fill="none" stroke="#000" stroke-width="2.3" stroke-linecap="round"/>
<path d="M1148.8 2737.4 Q1152.4 2742 1157.4 2747.6" fill="none" stroke="#000" stroke-width="2.6" stroke-linecap="round"/>
<path d="M1263.8 2751.4 L1281.4 2734.6" fill="none" stroke="#000" stroke-width="2.3" stroke-linecap="round"/>
<path d="M1268.9 2737.4 Q1272.5 2742 1277.5 2747.6" fill="none" stroke="#000" stroke-width="2.6" stroke-linecap="round"/>
<path d="M1388.3 2751.4 L1405.9 2734.6" fill="none" stroke="#000" stroke-width="2.3" stroke-linecap="round"/>
<path d="M1393.4 2737.4 Q1397 2742 1402 2747.6" fill="none" stroke="#000" stroke-width="2.6" stroke-linecap="round"/>
<text class="s" font-size="18.9" x="865.6" y="2730.8">Sentiment, Emotion, Sarcasm,</text>
<text class="s b" font-size="18.9" x="31.4" y="2796">CMMA (Ours)</text>
<text class="s b" font-size="18.9" x="179.1" y="2796">Dialogue</text>
<text class="s b" font-size="18.9" x="317.8" y="2796">21,795</text>
<text class="s b" font-size="18.9" x="396.6" y="2796">Text, Image, Speech</text>
<text class="s b" font-size="18.9" x="584.2" y="2796">TV Show</text>
<text class="s b" font-size="18.9" x="710.2" y="2796">Chinese</text>
<text class="s b" font-size="18.9" x="870" y="2773">Sentiment, Emotion, Sarcasm,</text>
<text class="s b" font-size="18.9" x="870" y="2796">Humor, Pride, Love</text>
<path d="M1143.9 2787 L1147.2 2784.2 L1149.2 2790 Q1154.4 2782 1161.9 2777.5 L1162.9 2778.7 Q1155.4 2786 1149.2 2796.2 L1147.2 2796.2 Z" fill="#000"/>
<path d="M1264 2787 L1267.3 2784.2 L1269.3 2790 Q1274.5 2782 1282 2777.5 L1283 2778.7 Q1275.5 2786 1269.3 2796.2 L1267.3 2796.2 Z" fill="#000"/>
<path d="M1388.5 2787 L1391.8 2784.2 L1393.8 2790 Q1399 2782 1406.5 2777.5 L1407.5 2778.7 Q1400 2786 1393.8 2796.2 L1391.8 2796.2 Z" fill="#000"/>
<rect x="1499.3" y="415.5" width="1381" height="2463" fill="none" stroke="#FF0000" stroke-width="1.6" stroke-dasharray="13 5 1.8 5"/>
<text class="s b" font-size="18.5" x="1563" y="589">The Conversational Topic</text>
<text class="s b" font-size="18.5" x="1857.8" y="589">The Speaker-Aware Knowledge</text>
<text class="s b" font-size="18.5" x="2281.6" y="589">Multi-Modal Conversation</text>
<text class="s b" font-size="18.5" x="2654.4" y="589">Multi-Affection Label</text>
<rect x="1576.6" y="609.4" width="176.9" height="519" fill="none" stroke="#1414E6" stroke-width="2" rx="24" stroke-dasharray="8.5 5.5"/>
<rect x="1807.9" y="609.4" width="346" height="519" fill="none" stroke="#1414E6" stroke-width="2" rx="52" stroke-dasharray="8.5 5.5"/>
<rect x="2197.7" y="609.4" width="384.2" height="518.8" fill="none" stroke="#000" stroke-width="2" rx="56" stroke-dasharray="8.5 5.5"/>
<rect x="2633.7" y="609.4" width="207.1" height="518.8" fill="none" stroke="#FF0000" stroke-width="2" rx="30" stroke-dasharray="8.5 5.5"/>
<text class="a" font-size="16" x="1588.8" y="761"><tspan font-weight='bold'>Topic:</tspan> Wei Zhang</text>
<text class="a" font-size="16" x="1588.8" y="781.4">went to Yumo Qin to</text>
<text class="a" font-size="16" x="1588.8" y="801.7">borrow money for</text>
<text class="a" font-size="16" x="1588.8" y="822.1">picking up the girl</text>
<text class="a" font-size="16" x="1588.8" y="841.9">and was laughed at</text>
<text class="a" font-size="16" x="1588.8" y="862">again by Yumo Qin</text>
<text class="a" font-size="16" x="1588.8" y="882.4">and Ziqiao Lv.</text>
<text font-size="16" fill="#595959" x="1588.8" y="923" font-family="'Noto Serif CJK SC',serif">(主题：张伟来找秦</text>
<text font-size="16" fill="#595959" x="1588.8" y="943" font-family="'Noto Serif CJK SC',serif">羽墨借钱追女孩，再</text>
<text font-size="16" fill="#595959" x="1588.8" y="963.4" font-family="'Noto Serif CJK SC',serif">次被秦羽墨与吕子乔</text>
<text font-size="16" fill="#595959" x="1588.8" y="983" font-family="'Noto Serif CJK SC',serif">嘲讽)</text>
<path d="M1745 871.5 L1775.2 839.5 L1775.2 856.5 L1781.2 856.5 L1781.2 839.5 L1811.5 871.5 L1781.2 903.5 L1781.2 886.5 L1775.2 886.5 L1775.2 903.5 Z" fill="#A6A6A6" stroke="#4472C4" stroke-width="0.8"/>
<path d="M2140 861.4 L2170.8 829.4 L2170.8 846.4 L2176.8 846.4 L2176.8 829.4 L2207.7 861.4 L2176.8 893.4 L2176.8 876.4 L2170.8 876.4 L2170.8 893.4 Z" fill="#A6A6A6" stroke="#4472C4" stroke-width="0.8"/>
<path d="M2593 835 L2610.7 835 L2610.7 809 L2627.4 861.7 L2610.7 914.5 L2610.7 886 L2593 886 Z" fill="#A6A6A6" stroke="#4472C4" stroke-width="0.8"/>
<filter id="fb" x="-0.2" y="-0.2" width="1.4" height="1.4"><feGaussianBlur stdDeviation="0.022"/></filter>
<clipPath id="cp1"><rect x="0" y="0" width="1" height="1"/></clipPath>
<g transform="translate(1821.9 644.5) scale(47 58.1)" clip-path="url(#cp1)"><g filter="url(#fb)">
<rect x="-0.2" y="-0.2" width="1.4" height="1.4" fill="#8C4B38"/>
<rect x="-0.2" y="-0.2" width="0.35" height="1.4" fill="#6E3A2C"/>
<rect x="0.75" y="-0.2" width="0.5" height="0.9" fill="#96543F"/>
<path d="M-.05 .78 L.22 .72 L.35 1.1 L-.1 1.1 Z" fill="#4B3C30"/>
<path d="M.80 .74 L1.1 .68 L1.1 1.1 L.70 1.1 Z" fill="#3C3029"/>
<path d="M.25 .82 L.40 1.1 L.30 1.1 Z" fill="#5A74B5"/>
<path d="M.78 .80 L.84 1.1 L.72 1.1 Z" fill="#4060A8"/>
<ellipse cx="0.55" cy="0.66" rx="0.3" ry="0.32" fill="#B07A58"/>
<ellipse cx="0.58" cy="0.9" rx="0.22" ry="0.18" fill="#A87252"/>
<ellipse cx="0.6" cy="0.64" rx="0.17" ry="0.19" fill="#C48E6A"/>
<ellipse cx="0.3" cy="0.66" rx="0.05" ry="0.08" fill="#B88262"/>
<path d="M.06 .60 Q-.02 .30 .22 .14 Q.40 -.02 .66 .08 Q.90 .18 .92 .46 Q.92 .56 .86 .62 L.80 .46 Q.60 .36 .42 .46 Q.30 .56 .26 .72 L.16 .66 Z" fill="#1E1714"/>
<ellipse cx="0.46" cy="0.28" rx="0.36" ry="0.2" fill="#1E1714"/>
<ellipse cx="0.36" cy="0.2" rx="0.12" ry="0.06" fill="#3A2E28" transform="rotate(-30 0.36 0.2)"/>
<ellipse cx="0.43" cy="0.555" rx="0.06" ry="0.022" fill="#2A1A14"/>
<ellipse cx="0.7" cy="0.535" rx="0.055" ry="0.022" fill="#2A1A14"/>
<ellipse cx="0.58" cy="0.7" rx="0.04" ry="0.03" fill="#A06C50"/>
<ellipse cx="0.59" cy="0.815" rx="0.085" ry="0.022" fill="#6E3530"/>
</g></g>
<clipPath id="cp2"><rect x="0" y="0" width="1" height="1"/></clipPath>
<g transform="translate(1821.9 809.9) scale(47 56.6)" clip-path="url(#cp2)"><g filter="url(#fb)">
<rect x="-0.2" y="-0.2" width="1.4" height="1.4" fill="#4A342C"/>
<rect x="0.7" y="-0.2" width="0.5" height="1.4" fill="#6A4434"/>
<rect x="-0.2" y="-0.2" width="0.4" height="1.4" fill="#5A3A30"/>
<ellipse cx="0.52" cy="0.34" rx="0.42" ry="0.34" fill="#15100F"/>
<ellipse cx="0.5" cy="0.08" rx="0.22" ry="0.14" fill="#15100F"/>
<ellipse cx="0.5" cy="0" rx="0.1" ry="0.04" fill="#2C4A90"/>
<path d="M.70 .30 Q1.0 .5 .82 1.1 L1.1 1.1 L1.1 .2 Z" fill="#15100F"/>
<path d="M.30 .30 Q.0 .5 .14 .9 L.10 .4 Z" fill="#15100F"/>
<ellipse cx="0.47" cy="0.6" rx="0.28" ry="0.3" fill="#D09A78"/>
<ellipse cx="0.47" cy="0.56" rx="0.18" ry="0.18" fill="#DDAA88"/>
<ellipse cx="0.47" cy="0.93" rx="0.14" ry="0.12" fill="#C48E6C"/>
<path d="M-.1 1.1 L-.1 .94 Q.5 .80 1.1 .96 L1.1 1.1 Z" fill="#22262E"/>
<ellipse cx="0.35" cy="0.56" rx="0.055" ry="0.02" fill="#2A1A14"/>
<ellipse cx="0.59" cy="0.56" rx="0.055" ry="0.02" fill="#2A1A14"/>
<ellipse cx="0.47" cy="0.755" rx="0.06" ry="0.022" fill="#8A3B38"/>
</g></g>
<clipPath id="cp3"><rect x="0" y="0" width="1" height="1"/></clipPath>
<g transform="translate(1821.9 978.6) scale(47 56.9)" clip-path="url(#cp3)"><g filter="url(#fb)">
<rect x="-0.2" y="-0.2" width="1.4" height="1.4" fill="#1C1917"/>
<rect x="-0.2" y="0.55" width="0.5" height="0.7" fill="#3C3C48"/>
<rect x="0.8" y="-0.2" width="0.4" height="0.7" fill="#2A2320"/>
<ellipse cx="0.5" cy="0.3" rx="0.42" ry="0.28" fill="#0E0C0B"/>
<ellipse cx="0.52" cy="0.54" rx="0.3" ry="0.3" fill="#B8825E"/>
<ellipse cx="0.54" cy="0.5" rx="0.18" ry="0.18" fill="#C8926C"/>
<path d="M.16 .52 Q.10 .20 .50 .12 Q.88 .14 .86 .50 L.78 .36 Q.50 .28 .28 .38 Z" fill="#0E0C0B"/>
<path d="M-.1 1.1 L-.1 .88 Q.5 .74 1.1 .90 L1.1 1.1 Z" fill="#2B2B35"/>
<ellipse cx="0.54" cy="0.86" rx="0.12" ry="0.08" fill="#A87452"/>
<ellipse cx="0.4" cy="0.52" rx="0.055" ry="0.02" fill="#1A100C"/>
<ellipse cx="0.66" cy="0.52" rx="0.055" ry="0.02" fill="#1A100C"/>
<ellipse cx="0.55" cy="0.715" rx="0.07" ry="0.022" fill="#6A3028"/>
</g></g>
<text class="s b" font-size="12.5" text-anchor="middle" x="1847" y="712.2">Wei Zhang</text>
<text class="s" font-size="11" text-anchor="middle" x="1847" y="728.9">(张伟)</text>
<text class="s b" font-size="12.5" text-anchor="middle" x="1847" y="876.8">Yumo Qin</text>
<text class="s" font-size="11" text-anchor="middle" x="1847" y="892.4">(秦羽墨)</text>
<text class="s b" font-size="12.5" text-anchor="middle" x="1847" y="1046.6">Ziqiao Lv</text>
<text class="s" font-size="11" text-anchor="middle" x="1847" y="1062.5">(吕子乔)</text>
<path d="M1886.6 627.1 H2122.3 V783.3 H1886.6 V692.6 L1871.6 673 L1886.6 653.8 Z" fill="#fff" stroke="#2F5597" stroke-width="1.8"/>
<path d="M1886.6 795 H2122.3 V951.6 H1886.6 V861 L1871.6 840.6 L1886.6 820.2 Z" fill="#fff" stroke="#FF33CC" stroke-width="1.8"/>
<path d="M1884.8 962.7 H2122.3 V1119.9 H1884.8 V1027.4 L1869.8 1007.8 L1884.8 988.6 Z" fill="#fff" stroke="#548235" stroke-width="1.8"/>
<text class="as" font-size="12.2" x="1898.8" y="645.6"><tspan font-weight='bold'>Name:</tspan> Wei Zhang (张伟)</text>
<text class="as" font-size="12.2" x="1898.8" y="661.2"><tspan font-weight='bold'>Gender:</tspan> Male (男性)</text>
<text class="as" font-size="12.2" x="1898.8" y="676.7"><tspan font-weight='bold'>Profession:</tspan> Beginner lawyer (新手律师)</text>
<text class="as" font-size="12.2" x="1898.8" y="691.9"><tspan font-weight='bold'>Age:</tspan> Young (青年)</text>
<text class="as" font-size="12.2" x="1898.8" y="707.8"><tspan font-weight='bold'>Personality:</tspan> He is sensitive to money,</text>
<text class="a" font-size="12.2" x="1898.8" y="723">and very stingy, but his is also kind,</text>
<text class="a" font-size="12.2" x="1898.8" y="738.5">righteous, friendly and loyal to friends.</text>
<text font-size="12.3" fill="#595959" x="1898.8" y="753.3" font-family="'Noto Serif CJK SC',serif">(他对钱财十分敏感，生活中极度抠门，</text>
<text font-size="12.3" fill="#595959" x="1898.8" y="768.8" font-family="'Noto Serif CJK SC',serif">但本性善良、正义，愿意为朋友付出。)</text>
<text class="as" font-size="12.2" x="1898.8" y="813.6"><tspan font-weight='bold'>Name:</tspan> Yumo Qin (秦羽墨)</text>
<text class="as" font-size="12.2" x="1898.8" y="829.1"><tspan font-weight='bold'>Gender:</tspan> Female (女性)</text>
<text class="as" font-size="12.2" x="1898.8" y="844.7"><tspan font-weight='bold'>Profession:</tspan> Beauty service (美容顾问)</text>
<text class="as" font-size="12.2" x="1898.8" y="859.8"><tspan font-weight='bold'>Age:</tspan> Young (青年)</text>
<text class="as" font-size="12.2" x="1898.8" y="875"><tspan font-weight='bold'>Personality:</tspan> She has a beautiful</text>
<text class="a" font-size="12.2" x="1898.8" y="890.5">appearance, good taste, but she is also</text>
<text class="a" font-size="12.2" x="1898.8" y="906">self-willed and swellheaded.</text>
<text font-size="12.3" fill="#595959" x="1898.8" y="922" font-family="'Noto Serif CJK SC',serif">(她外形、内涵、眼界、品味俱佳，但是</text>
<text font-size="12.3" fill="#595959" x="1898.8" y="937.1" font-family="'Noto Serif CJK SC',serif">也有着都市女孩的通病—任性，白我。)</text>
<text class="as" font-size="12.2" x="1897.7" y="981.2"><tspan font-weight='bold'>Name:</tspan> Ziqiao Lv (吕子乔)</text>
<text class="as" font-size="12.2" x="1897.7" y="996.7"><tspan font-weight='bold'>Gender:</tspan> Male (男性)</text>
<text class="as" font-size="12.2" x="1897.7" y="1011.9"><tspan font-weight='bold'>Profession:</tspan> Yob (无业游民)</text>
<text class="as" font-size="12.2" x="1897.7" y="1027.4"><tspan font-weight='bold'>Age:</tspan> Young (青年)</text>
<text class="as" font-size="12.2" x="1897.7" y="1042.9"><tspan font-weight='bold'>Personality:</tspan> He is a gutless playboy,</text>
<text class="a" font-size="12.2" x="1897.7" y="1058.5">but is loyal to friends. He finally</text>
<text class="a" font-size="12.2" x="1897.7" y="1073.6">becomes a good husband and father.</text>
<text font-size="12.3" fill="#595959" x="1897.7" y="1089.5" font-family="'Noto Serif CJK SC',serif">(他花心、胆小怕事，但也很讲义气，最</text>
<text font-size="12.3" fill="#595959" x="1897.7" y="1104.7" font-family="'Noto Serif CJK SC',serif">后成为一个好丈夫和好父亲。)</text>
<clipPath id="cp4"><rect x="0" y="0" width="1" height="1"/></clipPath>
<g transform="translate(2225 634.5) scale(46.6 57.3)" clip-path="url(#cp4)"><g filter="url(#fb)">
<rect x="-0.2" y="-0.2" width="1.4" height="1.4" fill="#8C4B38"/>
<rect x="-0.2" y="-0.2" width="0.35" height="1.4" fill="#6E3A2C"/>
<rect x="0.75" y="-0.2" width="0.5" height="0.9" fill="#96543F"/>
<path d="M-.05 .78 L.22 .72 L.35 1.1 L-.1 1.1 Z" fill="#4B3C30"/>
<path d="M.80 .74 L1.1 .68 L1.1 1.1 L.70 1.1 Z" fill="#3C3029"/>
<path d="M.25 .82 L.40 1.1 L.30 1.1 Z" fill="#5A74B5"/>
<path d="M.78 .80 L.84 1.1 L.72 1.1 Z" fill="#4060A8"/>
<ellipse cx="0.55" cy="0.66" rx="0.3" ry="0.32" fill="#B07A58"/>
<ellipse cx="0.58" cy="0.9" rx="0.22" ry="0.18" fill="#A87252"/>
<ellipse cx="0.6" cy="0.64" rx="0.17" ry="0.19" fill="#C48E6A"/>
<ellipse cx="0.3" cy="0.66" rx="0.05" ry="0.08" fill="#B88262"/>
<path d="M.06 .60 Q-.02 .30 .22 .14 Q.40 -.02 .66 .08 Q.90 .18 .92 .46 Q.92 .56 .86 .62 L.80 .46 Q.60 .36 .42 .46 Q.30 .56 .26 .72 L.16 .66 Z" fill="#1E1714"/>
<ellipse cx="0.46" cy="0.28" rx="0.36" ry="0.2" fill="#1E1714"/>
<ellipse cx="0.36" cy="0.2" rx="0.12" ry="0.06" fill="#3A2E28" transform="rotate(-30 0.36 0.2)"/>
<ellipse cx="0.43" cy="0.555" rx="0.06" ry="0.022" fill="#2A1A14"/>
<ellipse cx="0.7" cy="0.535" rx="0.055" ry="0.022" fill="#2A1A14"/>
<ellipse cx="0.58" cy="0.7" rx="0.04" ry="0.03" fill="#A06C50"/>
<ellipse cx="0.59" cy="0.815" rx="0.085" ry="0.022" fill="#6E3530"/>
</g></g>
<clipPath id="cp5"><rect x="0" y="0" width="1" height="1"/></clipPath>
<g transform="translate(2225 876.7) scale(46.6 57.3)" clip-path="url(#cp5)"><g filter="url(#fb)">
<rect x="-0.2" y="-0.2" width="1.4" height="1.4" fill="#1C1917"/>
<rect x="-0.2" y="0.55" width="0.5" height="0.7" fill="#3C3C48"/>
<rect x="0.8" y="-0.2" width="0.4" height="0.7" fill="#2A2320"/>
<ellipse cx="0.5" cy="0.3" rx="0.42" ry="0.28" fill="#0E0C0B"/>
<ellipse cx="0.52" cy="0.54" rx="0.3" ry="0.3" fill="#B8825E"/>
<ellipse cx="0.54" cy="0.5" rx="0.18" ry="0.18" fill="#C8926C"/>
<path d="M.16 .52 Q.10 .20 .50 .12 Q.88 .14 .86 .50 L.78 .36 Q.50 .28 .28 .38 Z" fill="#0E0C0B"/>
<path d="M-.1 1.1 L-.1 .88 Q.5 .74 1.1 .90 L1.1 1.1 Z" fill="#2B2B35"/>
<ellipse cx="0.54" cy="0.86" rx="0.12" ry="0.08" fill="#A87452"/>
<ellipse cx="0.4" cy="0.52" rx="0.055" ry="0.02" fill="#1A100C"/>
<ellipse cx="0.66" cy="0.52" rx="0.055" ry="0.02" fill="#1A100C"/>
<ellipse cx="0.55" cy="0.715" rx="0.07" ry="0.022" fill="#6A3028"/>
</g></g>
<clipPath id="cp6"><rect x="0" y="0" width="1" height="1"/></clipPath>
<g transform="translate(2225 1027.3) scale(46.6 57.3)" clip-path="url(#cp6)"><g filter="url(#fb)">
<rect x="-0.2" y="-0.2" width="1.4" height="1.4" fill="#8C4B38"/>
<rect x="-0.2" y="-0.2" width="0.35" height="1.4" fill="#6E3A2C"/>
<rect x="0.75" y="-0.2" width="0.5" height="0.9" fill="#96543F"/>
<path d="M-.05 .78 L.22 .72 L.35 1.1 L-.1 1.1 Z" fill="#4B3C30"/>
<path d="M.80 .74 L1.1 .68 L1.1 1.1 L.70 1.1 Z" fill="#3C3029"/>
<path d="M.25 .82 L.40 1.1 L.30 1.1 Z" fill="#5A74B5"/>
<path d="M.78 .80 L.84 1.1 L.72 1.1 Z" fill="#4060A8"/>
<ellipse cx="0.55" cy="0.66" rx="0.3" ry="0.32" fill="#B07A58"/>
<ellipse cx="0.58" cy="0.9" rx="0.22" ry="0.18" fill="#A87252"/>
<ellipse cx="0.6" cy="0.64" rx="0.17" ry="0.19" fill="#C48E6A"/>
<ellipse cx="0.3" cy="0.66" rx="0.05" ry="0.08" fill="#B88262"/>
<path d="M.06 .60 Q-.02 .30 .22 .14 Q.40 -.02 .66 .08 Q.90 .18 .92 .46 Q.92 .56 .86 .62 L.80 .46 Q.60 .36 .42 .46 Q.30 .56 .26 .72 L.16 .66 Z" fill="#1E1714"/>
<ellipse cx="0.46" cy="0.28" rx="0.36" ry="0.2" fill="#1E1714"/>
<ellipse cx="0.36" cy="0.2" rx="0.12" ry="0.06" fill="#3A2E28" transform="rotate(-30 0.36 0.2)"/>
<ellipse cx="0.43" cy="0.555" rx="0.06" ry="0.022" fill="#2A1A14"/>
<ellipse cx="0.7" cy="0.535" rx="0.055" ry="0.022" fill="#2A1A14"/>
<ellipse cx="0.58" cy="0.7" rx="0.04" ry="0.03" fill="#A06C50"/>
<ellipse cx="0.59" cy="0.815" rx="0.085" ry="0.022" fill="#6E3530"/>
</g></g>
<clipPath id="cp7"><rect x="0" y="0" width="1" height="1"/></clipPath>
<g transform="translate(2522 709.2) scale(47 57.3)" clip-path="url(#cp7)"><g filter="url(#fb)">
<rect x="-0.2" y="-0.2" width="1.4" height="1.4" fill="#4A342C"/>
<rect x="0.7" y="-0.2" width="0.5" height="1.4" fill="#6A4434"/>
<rect x="-0.2" y="-0.2" width="0.4" height="1.4" fill="#5A3A30"/>
<ellipse cx="0.52" cy="0.34" rx="0.42" ry="0.34" fill="#15100F"/>
<ellipse cx="0.5" cy="0.08" rx="0.22" ry="0.14" fill="#15100F"/>
<ellipse cx="0.5" cy="0" rx="0.1" ry="0.04" fill="#2C4A90"/>
<path d="M.70 .30 Q1.0 .5 .82 1.1 L1.1 1.1 L1.1 .2 Z" fill="#15100F"/>
<path d="M.30 .30 Q.0 .5 .14 .9 L.10 .4 Z" fill="#15100F"/>
<ellipse cx="0.47" cy="0.6" rx="0.28" ry="0.3" fill="#D09A78"/>
<ellipse cx="0.47" cy="0.56" rx="0.18" ry="0.18" fill="#DDAA88"/>
<ellipse cx="0.47" cy="0.93" rx="0.14" ry="0.12" fill="#C48E6C"/>
<path d="M-.1 1.1 L-.1 .94 Q.5 .80 1.1 .96 L1.1 1.1 Z" fill="#22262E"/>
<ellipse cx="0.35" cy="0.56" rx="0.055" ry="0.02" fill="#2A1A14"/>
<ellipse cx="0.59" cy="0.56" rx="0.055" ry="0.02" fill="#2A1A14"/>
<ellipse cx="0.47" cy="0.755" rx="0.06" ry="0.022" fill="#8A3B38"/>
</g></g>
<clipPath id="cp8"><rect x="0" y="0" width="1" height="1"/></clipPath>
<g transform="translate(2522 803.5) scale(47 57.3)" clip-path="url(#cp8)"><g filter="url(#fb)">
<rect x="-0.2" y="-0.2" width="1.4" height="1.4" fill="#4A342C"/>
<rect x="0.7" y="-0.2" width="0.5" height="1.4" fill="#6A4434"/>
<rect x="-0.2" y="-0.2" width="0.4" height="1.4" fill="#5A3A30"/>
<ellipse cx="0.52" cy="0.34" rx="0.42" ry="0.34" fill="#15100F"/>
<ellipse cx="0.5" cy="0.08" rx="0.22" ry="0.14" fill="#15100F"/>
<ellipse cx="0.5" cy="0" rx="0.1" ry="0.04" fill="#2C4A90"/>
<path d="M.70 .30 Q1.0 .5 .82 1.1 L1.1 1.1 L1.1 .2 Z" fill="#15100F"/>
<path d="M.30 .30 Q.0 .5 .14 .9 L.10 .4 Z" fill="#15100F"/>
<ellipse cx="0.47" cy="0.6" rx="0.28" ry="0.3" fill="#D09A78"/>
<ellipse cx="0.47" cy="0.56" rx="0.18" ry="0.18" fill="#DDAA88"/>
<ellipse cx="0.47" cy="0.93" rx="0.14" ry="0.12" fill="#C48E6C"/>
<path d="M-.1 1.1 L-.1 .94 Q.5 .80 1.1 .96 L1.1 1.1 Z" fill="#22262E"/>
<ellipse cx="0.35" cy="0.56" rx="0.055" ry="0.02" fill="#2A1A14"/>
<ellipse cx="0.59" cy="0.56" rx="0.055" ry="0.02" fill="#2A1A14"/>
<ellipse cx="0.47" cy="0.755" rx="0.06" ry="0.022" fill="#8A3B38"/>
</g></g>
<clipPath id="cp9"><rect x="0" y="0" width="1" height="1"/></clipPath>
<g transform="translate(2522 952.6) scale(47 56.2)" clip-path="url(#cp9)"><g filter="url(#fb)">
<rect x="-0.2" y="-0.2" width="1.4" height="1.4" fill="#4A342C"/>
<rect x="0.7" y="-0.2" width="0.5" height="1.4" fill="#6A4434"/>
<rect x="-0.2" y="-0.2" width="0.4" height="1.4" fill="#5A3A30"/>
<ellipse cx="0.52" cy="0.34" rx="0.42" ry="0.34" fill="#15100F"/>
<ellipse cx="0.5" cy="0.08" rx="0.22" ry="0.14" fill="#15100F"/>
<ellipse cx="0.5" cy="0" rx="0.1" ry="0.04" fill="#2C4A90"/>
<path d="M.70 .30 Q1.0 .5 .82 1.1 L1.1 1.1 L1.1 .2 Z" fill="#15100F"/>
<path d="M.30 .30 Q.0 .5 .14 .9 L.10 .4 Z" fill="#15100F"/>
<ellipse cx="0.47" cy="0.6" rx="0.28" ry="0.3" fill="#D09A78"/>
<ellipse cx="0.47" cy="0.56" rx="0.18" ry="0.18" fill="#DDAA88"/>
<ellipse cx="0.47" cy="0.93" rx="0.14" ry="0.12" fill="#C48E6C"/>
<path d="M-.1 1.1 L-.1 .94 Q.5 .80 1.1 .96 L1.1 1.1 Z" fill="#22262E"/>
<ellipse cx="0.35" cy="0.56" rx="0.055" ry="0.02" fill="#2A1A14"/>
<ellipse cx="0.59" cy="0.56" rx="0.055" ry="0.02" fill="#2A1A14"/>
<ellipse cx="0.47" cy="0.755" rx="0.06" ry="0.022" fill="#8A3B38"/>
</g></g>
<text class="s b" font-size="12.5" text-anchor="middle" x="2252" y="705.5">Wei Zhang</text>
<text class="s" font-size="11" text-anchor="middle" x="2252" y="721.8">(张伟)</text>
<text class="s b" font-size="12.5" text-anchor="middle" x="2546" y="778.8">Yumo Qin</text>
<text class="s" font-size="11" text-anchor="middle" x="2546" y="794.3">(秦羽墨)</text>
<text class="s b" font-size="12.5" text-anchor="middle" x="2545" y="872">Yumo Qin</text>
<text class="s" font-size="11" text-anchor="middle" x="2545" y="887.5">(秦羽墨)</text>
<text class="s b" font-size="12.5" text-anchor="middle" x="2247.6" y="947.8">Ziqiao Lv</text>
<text class="s" font-size="11" text-anchor="middle" x="2247.6" y="964.4">(吕子乔)</text>
<text class="s b" font-size="12.5" text-anchor="middle" x="2545" y="1018.8">Yumo Qin</text>
<text class="s" font-size="11" text-anchor="middle" x="2545" y="1034">(秦羽墨)</text>
<text class="s b" font-size="12.5" text-anchor="middle" x="2249" y="1095">Wei Zhang</text>
<text class="s" font-size="11" text-anchor="middle" x="2249" y="1111.6">(张伟)</text>
<rect x="2280.9" y="634.5" width="196.7" height="58.1" fill="#B4C7E7" stroke="#8FAADC" stroke-width="1" rx="8"/>
<text class="a" font-size="12.3" text-anchor="middle" x="2377" y="652.6">Please lend me another two</text>
<text class="a" font-size="12.3" text-anchor="middle" x="2377" y="668.1">hundred yuan.</text>
<text font-size="12.4" fill="#484848" text-anchor="middle" x="2377" y="684.5" font-family="'Noto Serif CJK SC',serif" font-weight="500">(你再借我二百块钱吧.)</text>
<rect x="2286.6" y="672.5" width="6.4" height="10.5" fill="none" stroke="#222" stroke-width="1.1" rx="3"/>
<path d="M2284.5 679.5 Q2284.5 686.1 2289.8 686.1 Q2295.1 686.1 2295.1 679.5 M2289.8 686.1 L2289.8 689.5" fill="none" stroke="#222" stroke-width="1.1"/>
<line x1="2288" y1="675.5" x2="2291.6" y2="675.5" stroke="#222" stroke-width="0.7"/>
<line x1="2288" y1="677.5" x2="2291.6" y2="677.5" stroke="#222" stroke-width="0.7"/>
<line x1="2288" y1="679.5" x2="2291.6" y2="679.5" stroke="#222" stroke-width="0.7"/>
<rect x="2317.9" y="709.2" width="195.6" height="58.1" fill="#FFCCFF" stroke="#8FAADC" stroke-width="1" rx="8"/>
<text class="a" font-size="12.3" text-anchor="middle" x="2411.8" y="727.3">Why don’t you buy a piece of tofu</text>
<text class="a" font-size="12.3" text-anchor="middle" x="2411.8" y="742.8">and kill yourself on it?</text>
<text font-size="12.4" fill="#484848" text-anchor="middle" x="2411.8" y="759.6" font-family="'Noto Serif CJK SC',serif" font-weight="500">(你怎么不去买块豆腐撞死算了?)</text>
<rect x="2502.8" y="747.5" width="6.4" height="10.5" fill="none" stroke="#222" stroke-width="1.1" rx="3"/>
<path d="M2500.7 754.5 Q2500.7 761.1 2506 761.1 Q2511.3 761.1 2511.3 754.5 M2506 761.1 L2506 764.5" fill="none" stroke="#222" stroke-width="1.1"/>
<line x1="2504.2" y1="750.5" x2="2507.8" y2="750.5" stroke="#222" stroke-width="0.7"/>
<line x1="2504.2" y1="752.5" x2="2507.8" y2="752.5" stroke="#222" stroke-width="0.7"/>
<line x1="2504.2" y1="754.5" x2="2507.8" y2="754.5" stroke="#222" stroke-width="0.7"/>
<rect x="2317.9" y="803.5" width="195.6" height="58.1" fill="#FFCCFF" stroke="#8FAADC" stroke-width="1" rx="8"/>
<text class="a" font-size="12.3" text-anchor="middle" x="2411.8" y="822">You still want a ticket? Are you</text>
<text class="a" font-size="12.3" text-anchor="middle" x="2411.8" y="837.5">out of your mind?</text>
<text font-size="12.4" fill="#484848" text-anchor="middle" x="2411.8" y="853.9" font-family="'Noto Serif CJK SC',serif" font-weight="500">(你还想开罚单, 脑子进水了吧?)</text>
<rect x="2502.8" y="841.5" width="6.4" height="10.5" fill="none" stroke="#222" stroke-width="1.1" rx="3"/>
<path d="M2500.7 848.5 Q2500.7 855.1 2506 855.1 Q2511.3 855.1 2511.3 848.5 M2506 855.1 L2506 858.5" fill="none" stroke="#222" stroke-width="1.1"/>
<line x1="2504.2" y1="844.5" x2="2507.8" y2="844.5" stroke="#222" stroke-width="0.7"/>
<line x1="2504.2" y1="846.5" x2="2507.8" y2="846.5" stroke="#222" stroke-width="0.7"/>
<line x1="2504.2" y1="848.5" x2="2507.8" y2="848.5" stroke="#222" stroke-width="0.7"/>
<rect x="2280.9" y="877.5" width="196.7" height="57.3" fill="#C5E0B4" stroke="#8FAADC" stroke-width="1" rx="8"/>
<text class="a" font-size="12.3" text-anchor="middle" x="2377" y="895.6">Stop criticizing him, he is just</text>
<text class="a" font-size="12.3" text-anchor="middle" x="2377" y="910.4">looing for his brain.</text>
<text font-size="12.4" fill="#484848" text-anchor="middle" x="2377" y="926.8" font-family="'Noto Serif CJK SC',serif" font-weight="500">(脑子进水前提是要有脑子!)</text>
<rect x="2286.6" y="914.5" width="6.4" height="10.5" fill="none" stroke="#222" stroke-width="1.1" rx="3"/>
<path d="M2284.5 921.5 Q2284.5 928.1 2289.8 928.1 Q2295.1 928.1 2295.1 921.5 M2289.8 928.1 L2289.8 931.5" fill="none" stroke="#222" stroke-width="1.1"/>
<line x1="2288" y1="917.5" x2="2291.6" y2="917.5" stroke="#222" stroke-width="0.7"/>
<line x1="2288" y1="919.5" x2="2291.6" y2="919.5" stroke="#222" stroke-width="0.7"/>
<line x1="2288" y1="921.5" x2="2291.6" y2="921.5" stroke="#222" stroke-width="0.7"/>
<rect x="2317.9" y="950.3" width="195.6" height="58.5" fill="#FFCCFF" stroke="#8FAADC" stroke-width="1" rx="8"/>
<text class="a" font-size="12.3" text-anchor="middle" x="2413" y="976.2">Just ask her out.</text>
<text font-size="12.4" fill="#484848" text-anchor="middle" x="2413" y="992.6" font-family="'Noto Serif CJK SC',serif" font-weight="500">(一鼓作气把她约出来.)</text>
<rect x="2502.8" y="988" width="6.4" height="10.5" fill="none" stroke="#222" stroke-width="1.1" rx="3"/>
<path d="M2500.7 995 Q2500.7 1001.6 2506 1001.6 Q2511.3 1001.6 2511.3 995 M2506 1001.6 L2506 1005" fill="none" stroke="#222" stroke-width="1.1"/>
<line x1="2504.2" y1="991" x2="2507.8" y2="991" stroke="#222" stroke-width="0.7"/>
<line x1="2504.2" y1="993" x2="2507.8" y2="993" stroke="#222" stroke-width="0.7"/>
<line x1="2504.2" y1="995" x2="2507.8" y2="995" stroke="#222" stroke-width="0.7"/>
<rect x="2280.9" y="1025.4" width="196.7" height="58.1" fill="#B4C7E7" stroke="#8FAADC" stroke-width="1" rx="8"/>
<text class="a" font-size="12.3" text-anchor="middle" x="2381" y="1051.3">It’s so sudden. I am not ready yet.</text>
<text font-size="12.4" fill="#484848" text-anchor="middle" x="2381" y="1068" font-family="'Noto Serif CJK SC',serif" font-weight="500">(太突然了, 一点准备也没有!)</text>
<rect x="2286.6" y="1064" width="6.4" height="10.5" fill="none" stroke="#222" stroke-width="1.1" rx="3"/>
<path d="M2284.5 1071 Q2284.5 1077.6 2289.8 1077.6 Q2295.1 1077.6 2295.1 1071 M2289.8 1077.6 L2289.8 1081" fill="none" stroke="#222" stroke-width="1.1"/>
<line x1="2288" y1="1067" x2="2291.6" y2="1067" stroke="#222" stroke-width="0.7"/>
<line x1="2288" y1="1069" x2="2291.6" y2="1069" stroke="#222" stroke-width="0.7"/>
<line x1="2288" y1="1071" x2="2291.6" y2="1071" stroke="#222" stroke-width="0.7"/>
<rect x="2644" y="630.8" width="185" height="63.6" fill="#fff" stroke="#4472C4" stroke-width="1.6" rx="10"/>
<text class="a b" font-size="11.8" x="2667" y="644.6">Sen:</text>
<text class="a" font-size="11.8" x="2700.5" y="644.6">Neutral, None, None</text>
<text class="a b" font-size="11.8" x="2667" y="660">Emo:</text>
<text class="a" font-size="11.8" x="2701.5" y="660">Neutral</text>
<text class="a b" font-size="11.8" x="2667" y="675.4">Sar:</text>
<text class="a" font-size="11.8" x="2700.5" y="675.4">False</text>
<text class="a b" font-size="11.8" x="2667" y="690.8">Hum:</text>
<text class="a" font-size="11.8" x="2700.5" y="690.8">False</text>
<path d="M2662.5 638.8 Q2646.5 663.8 2662.5 688.8" fill="none" stroke="#1F3864" stroke-width="1.7"/>
<polygon points="2665,635.3 2658.5,639.8 2663.7,643.8" fill="#1F3864"/>
<polygon points="2665,692.3 2658.5,687.8 2663.7,683.8" fill="#1F3864"/>
<rect x="2647" y="704.8" width="182" height="64.3" fill="#fff" stroke="#FF66FF" stroke-width="1.6" rx="10"/>
<text class="a b" font-size="11.8" x="2670" y="718.6">Sen:</text>
<text class="a" font-size="11.8" x="2703.5" y="718.6">Negative, None, None</text>
<text class="a b" font-size="11.8" x="2670" y="734">Emo:</text>
<text class="a" font-size="11.8" x="2704.5" y="734">Anger</text>
<text class="a b" font-size="11.8" x="2670" y="749.4">Sar:</text>
<text class="a" font-size="11.8" x="2703.5" y="749.4">True</text>
<text class="a b" font-size="11.8" x="2670" y="764.8">Hum:</text>
<text class="a" font-size="11.8" x="2703.5" y="764.8">True</text>
<path d="M2665.5 712.8 Q2649.5 737.8 2665.5 762.8" fill="none" stroke="#000" stroke-width="1.7"/>
<polygon points="2668,709.3 2661.5,713.8 2666.7,717.8" fill="#000"/>
<polygon points="2668,766.3 2661.5,761.8 2666.7,757.8" fill="#000"/>
<rect x="2647" y="799.8" width="182" height="64" fill="#fff" stroke="#FF66FF" stroke-width="1.6" rx="10"/>
<text class="a b" font-size="11.8" x="2670" y="813.6">Sen:</text>
<text class="a" font-size="11.8" x="2703.5" y="813.6">Negative, None, None</text>
<text class="a b" font-size="11.8" x="2670" y="829">Emo:</text>
<text class="a" font-size="11.8" x="2704.5" y="829">Anger</text>
<text class="a b" font-size="11.8" x="2670" y="844.4">Sar:</text>
<text class="a" font-size="11.8" x="2703.5" y="844.4">True</text>
<text class="a b" font-size="11.8" x="2670" y="859.8">Hum:</text>
<text class="a" font-size="11.8" x="2703.5" y="859.8">True</text>
<path d="M2665.5 807.8 Q2649.5 832.8 2665.5 857.8" fill="none" stroke="#000" stroke-width="1.7"/>
<polygon points="2668,804.3 2661.5,808.8 2666.7,812.8" fill="#000"/>
<polygon points="2668,861.3 2661.5,856.8 2666.7,852.8" fill="#000"/>
<rect x="2647" y="877.5" width="182" height="64" fill="#fff" stroke="#548235" stroke-width="1.6" rx="10"/>
<text class="a b" font-size="11.8" x="2670" y="891.3">Sen:</text>
<text class="a" font-size="11.8" x="2703.5" y="891.3">Neutral, None, None</text>
<text class="a b" font-size="11.8" x="2670" y="906.7">Emo:</text>
<text class="a" font-size="11.8" x="2704.5" y="906.7">Neutral</text>
<text class="a b" font-size="11.8" x="2670" y="922.1">Sar:</text>
<text class="a" font-size="11.8" x="2703.5" y="922.1">True</text>
<text class="a b" font-size="11.8" x="2670" y="937.5">Hum:</text>
<text class="a" font-size="11.8" x="2703.5" y="937.5">True</text>
<path d="M2665.5 885.5 Q2649.5 910.5 2665.5 935.5" fill="none" stroke="#1F3864" stroke-width="1.7"/>
<polygon points="2668,882 2661.5,886.5 2666.7,890.5" fill="#1F3864"/>
<polygon points="2668,939 2661.5,934.5 2666.7,930.5" fill="#1F3864"/>
<rect x="2647" y="947.8" width="182" height="63.9" fill="#fff" stroke="#FF66FF" stroke-width="1.6" rx="10"/>
<text class="a b" font-size="11.8" x="2670" y="961.6">Sen:</text>
<text class="a" font-size="11.8" x="2703.5" y="961.6">Neutral, None, None</text>
<text class="a b" font-size="11.8" x="2670" y="977">Emo:</text>
<text class="a" font-size="11.8" x="2704.5" y="977">Neutral</text>
<text class="a b" font-size="11.8" x="2670" y="992.4">Sar:</text>
<text class="a" font-size="11.8" x="2703.5" y="992.4">False</text>
<text class="a b" font-size="11.8" x="2670" y="1007.8">Hum:</text>
<text class="a" font-size="11.8" x="2703.5" y="1007.8">False</text>
<path d="M2665.5 955.8 Q2649.5 980.8 2665.5 1005.8" fill="none" stroke="#000" stroke-width="1.7"/>
<polygon points="2668,952.3 2661.5,956.8 2666.7,960.8" fill="#000"/>
<polygon points="2668,1009.3 2661.5,1004.8 2666.7,1000.8" fill="#000"/>
<rect x="2647" y="1023.6" width="182" height="63.6" fill="#fff" stroke="#4472C4" stroke-width="1.6" rx="10"/>
<text class="a b" font-size="11.8" x="2670" y="1037.4">Sen:</text>
<text class="a" font-size="11.8" x="2703.5" y="1037.4">Positive, None, Love</text>
<text class="a b" font-size="11.8" x="2670" y="1052.8">Emo:</text>
<text class="a" font-size="11.8" x="2704.5" y="1052.8">Happiness</text>
<text class="a b" font-size="11.8" x="2670" y="1068.2">Sar:</text>
<text class="a" font-size="11.8" x="2703.5" y="1068.2">False</text>
<text class="a b" font-size="11.8" x="2670" y="1083.6">Hum:</text>
<text class="a" font-size="11.8" x="2703.5" y="1083.6">False</text>
<path d="M2665.5 1031.6 Q2649.5 1056.6 2665.5 1081.6" fill="none" stroke="#1F3864" stroke-width="1.7"/>
<polygon points="2668,1028.1 2661.5,1032.6 2666.7,1036.6" fill="#1F3864"/>
<polygon points="2668,1085.1 2661.5,1080.6 2666.7,1076.6" fill="#1F3864"/>
<rect x="1651.5" y="1547.5" width="68.1" height="68.1" fill="#0d57a1"/>
<rect x="1719.3" y="1547.5" width="68.1" height="68.1" fill="#e4eff9"/>
<rect x="1787.2" y="1547.5" width="68.1" height="68.1" fill="#ecf4fc"/>
<rect x="1651.5" y="1615.3" width="68.1" height="68.1" fill="#f7fbff"/>
<rect x="1719.3" y="1615.3" width="68.1" height="68.1" fill="#08306b"/>
<rect x="1787.2" y="1615.3" width="68.1" height="68.1" fill="#f7fbff"/>
<rect x="1651.5" y="1683.2" width="68.1" height="68.1" fill="#f3f8fe"/>
<rect x="1719.3" y="1683.2" width="68.1" height="68.1" fill="#ecf4fc"/>
<rect x="1787.2" y="1683.2" width="68.1" height="68.1" fill="#084488"/>
<text class="s" font-size="19.7" fill="#fff" text-anchor="middle" x="1685.4" y="1587.7">0.82</text>
<text class="s" font-size="19.7" fill="#262626" text-anchor="middle" x="1753.2" y="1587.7">0.11</text>
<text class="s" font-size="19.7" fill="#262626" text-anchor="middle" x="1821.1" y="1587.7">0.07</text>
<text class="s" font-size="19.7" fill="#262626" text-anchor="middle" x="1685.4" y="1655.6">0.02</text>
<text class="s" font-size="19.7" fill="#fff" text-anchor="middle" x="1753.2" y="1655.6">0.96</text>
<text class="s" font-size="19.7" fill="#262626" text-anchor="middle" x="1821.1" y="1655.6">0.02</text>
<text class="s" font-size="19.7" fill="#262626" text-anchor="middle" x="1685.4" y="1723.4">0.04</text>
<text class="s" font-size="19.7" fill="#262626" text-anchor="middle" x="1753.2" y="1723.4">0.07</text>
<text class="s" font-size="19.7" fill="#fff" text-anchor="middle" x="1821.1" y="1723.4">0.89</text>
<linearGradient id="cb1" x1="0" y1="0" x2="0" y2="1"><stop offset="0.000" stop-color="#08306b"/><stop offset="0.125" stop-color="#08519c"/><stop offset="0.250" stop-color="#2171b5"/><stop offset="0.375" stop-color="#4292c6"/><stop offset="0.500" stop-color="#6baed6"/><stop offset="0.625" stop-color="#9ecae1"/><stop offset="0.750" stop-color="#c6dbef"/><stop offset="0.875" stop-color="#deebf7"/><stop offset="1.000" stop-color="#f7fbff"/></linearGradient>
<rect x="1896.7" y="1547.5" width="10.9" height="204.1" fill="url(#cb1)" stroke="#777" stroke-width="0.8"/>
<line x1="1907.6" y1="1582.7" x2="1910.6" y2="1582.7" stroke="#333" stroke-width="0.8"/>
<text class="s" font-size="10.5" fill="#222" x="1914.4" y="1586.2">0.8</text>
<line x1="1907.6" y1="1625.6" x2="1910.6" y2="1625.6" stroke="#333" stroke-width="0.8"/>
<text class="s" font-size="10.5" fill="#222" x="1914.4" y="1629.1">0.6</text>
<line x1="1907.6" y1="1669.7" x2="1910.6" y2="1669.7" stroke="#333" stroke-width="0.8"/>
<text class="s" font-size="10.5" fill="#222" x="1914.4" y="1673.2">0.4</text>
<line x1="1907.6" y1="1712.8" x2="1910.6" y2="1712.8" stroke="#333" stroke-width="0.8"/>
<text class="s" font-size="10.5" fill="#222" x="1914.4" y="1716.3">0.2</text>
<text class="s" font-size="19.7" fill="#222" text-anchor="end" x="1643" y="1587.4">positive</text>
<line x1="1645" y1="1581.4" x2="1649.5" y2="1581.4" stroke="#555" stroke-width="0.8"/>
<line x1="1685.4" y1="1752.5" x2="1685.4" y2="1756.5" stroke="#555" stroke-width="0.8"/>
<text class="s" font-size="19.7" fill="#222" text-anchor="end" transform="translate(1691.9 1758.9) rotate(-90)">positive</text>
<text class="s" font-size="19.7" fill="#222" text-anchor="end" x="1643" y="1655.2">neutral</text>
<line x1="1645" y1="1649.2" x2="1649.5" y2="1649.2" stroke="#555" stroke-width="0.8"/>
<line x1="1753.2" y1="1752.5" x2="1753.2" y2="1756.5" stroke="#555" stroke-width="0.8"/>
<text class="s" font-size="19.7" fill="#222" text-anchor="end" transform="translate(1759.8 1758.9) rotate(-90)">neutral</text>
<text class="s" font-size="19.7" fill="#222" text-anchor="end" x="1643" y="1723.1">negative</text>
<line x1="1645" y1="1717.1" x2="1649.5" y2="1717.1" stroke="#555" stroke-width="0.8"/>
<line x1="1821.1" y1="1752.5" x2="1821.1" y2="1756.5" stroke="#555" stroke-width="0.8"/>
<text class="s" font-size="19.7" fill="#222" text-anchor="end" transform="translate(1827.6 1758.9) rotate(-90)">negative</text>
<text class="s" font-size="16.6" fill="#222" text-anchor="middle" transform="translate(1567 1648.6) rotate(-90)">True label</text>
<text class="s" font-size="18.5" fill="#222" text-anchor="middle" x="1753.3" y="1844.4">Predicted label</text>
<text class="s" font-size="29.3" fill="#111" x="1583.6" y="1894.6">(a) Sentiment annotation.</text>
<rect x="2041.8" y="1538.3" width="31.8" height="31.9" fill="#1460a8"/>
<rect x="2073.3" y="1538.3" width="31.8" height="31.9" fill="#eef5fc"/>
<rect x="2104.8" y="1538.3" width="31.8" height="31.9" fill="#f2f8fe"/>
<rect x="2136.3" y="1538.3" width="31.8" height="31.9" fill="#f0f7fd"/>
<rect x="2167.8" y="1538.3" width="31.8" height="31.9" fill="#ecf4fb"/>
<rect x="2199.3" y="1538.3" width="31.8" height="31.9" fill="#ecf4fb"/>
<rect x="2230.8" y="1538.3" width="31.8" height="31.9" fill="#f0f7fd"/>
<rect x="2041.8" y="1569.9" width="31.8" height="31.9" fill="#ecf4fb"/>
<rect x="2073.3" y="1569.9" width="31.8" height="31.9" fill="#115da5"/>
<rect x="2104.8" y="1569.9" width="31.8" height="31.9" fill="#f5fafe"/>
<rect x="2136.3" y="1569.9" width="31.8" height="31.9" fill="#f0f7fd"/>
<rect x="2167.8" y="1569.9" width="31.8" height="31.9" fill="#eef5fc"/>
<rect x="2199.3" y="1569.9" width="31.8" height="31.9" fill="#e9f2fb"/>
<rect x="2230.8" y="1569.9" width="31.8" height="31.9" fill="#f2f8fe"/>
<rect x="2041.8" y="1601.5" width="31.8" height="31.9" fill="#f2f8fe"/>
<rect x="2073.3" y="1601.5" width="31.8" height="31.9" fill="#f5fafe"/>
<rect x="2104.8" y="1601.5" width="31.8" height="31.9" fill="#1663aa"/>
<rect x="2136.3" y="1601.5" width="31.8" height="31.9" fill="#e9f2fb"/>
<rect x="2167.8" y="1601.5" width="31.8" height="31.9" fill="#f0f7fd"/>
<rect x="2199.3" y="1601.5" width="31.8" height="31.9" fill="#f5fafe"/>
<rect x="2230.8" y="1601.5" width="31.8" height="31.9" fill="#e0ecf8"/>
<rect x="2041.8" y="1633.1" width="31.8" height="31.9" fill="#eef5fc"/>
<rect x="2073.3" y="1633.1" width="31.8" height="31.9" fill="#eef5fc"/>
<rect x="2104.8" y="1633.1" width="31.8" height="31.9" fill="#f0f7fd"/>
<rect x="2136.3" y="1633.1" width="31.8" height="31.9" fill="#1d6cb1"/>
<rect x="2167.8" y="1633.1" width="31.8" height="31.9" fill="#f2f8fe"/>
<rect x="2199.3" y="1633.1" width="31.8" height="31.9" fill="#ecf4fb"/>
<rect x="2230.8" y="1633.1" width="31.8" height="31.9" fill="#e7f1fa"/>
<rect x="2041.8" y="1664.8" width="31.8" height="31.9" fill="#e5eff9"/>
<rect x="2073.3" y="1664.8" width="31.8" height="31.9" fill="#ecf4fb"/>
<rect x="2104.8" y="1664.8" width="31.8" height="31.9" fill="#f5fafe"/>
<rect x="2136.3" y="1664.8" width="31.8" height="31.9" fill="#f5fafe"/>
<rect x="2167.8" y="1664.8" width="31.8" height="31.9" fill="#2575b7"/>
<rect x="2199.3" y="1664.8" width="31.8" height="31.9" fill="#eef5fc"/>
<rect x="2230.8" y="1664.8" width="31.8" height="31.9" fill="#e0ecf8"/>
<rect x="2041.8" y="1696.4" width="31.8" height="31.9" fill="#e9f2fb"/>
<rect x="2073.3" y="1696.4" width="31.8" height="31.9" fill="#f0f7fd"/>
<rect x="2104.8" y="1696.4" width="31.8" height="31.9" fill="#ecf4fb"/>
<rect x="2136.3" y="1696.4" width="31.8" height="31.9" fill="#f0f7fd"/>
<rect x="2167.8" y="1696.4" width="31.8" height="31.9" fill="#f0f7fd"/>
<rect x="2199.3" y="1696.4" width="31.8" height="31.9" fill="#2878b9"/>
<rect x="2230.8" y="1696.4" width="31.8" height="31.9" fill="#e0ecf8"/>
<rect x="2041.8" y="1728" width="31.8" height="31.9" fill="#f7fbff"/>
<rect x="2073.3" y="1728" width="31.8" height="31.9" fill="#f2f8fe"/>
<rect x="2104.8" y="1728" width="31.8" height="31.9" fill="#f7fbff"/>
<rect x="2136.3" y="1728" width="31.8" height="31.9" fill="#f7fbff"/>
<rect x="2167.8" y="1728" width="31.8" height="31.9" fill="#f2f8fe"/>
<rect x="2199.3" y="1728" width="31.8" height="31.9" fill="#f2f8fe"/>
<rect x="2230.8" y="1728" width="31.8" height="31.9" fill="#08306b"/>
<text class="s" font-size="18.2" fill="#fff" text-anchor="middle" x="2057.6" y="1559.9">0.72</text>
<text class="s" font-size="18.2" fill="#262626" text-anchor="middle" x="2089.1" y="1559.9">0.05</text>
<text class="s" font-size="18.2" fill="#262626" text-anchor="middle" x="2120.6" y="1559.9">0.03</text>
<text class="s" font-size="18.2" fill="#262626" text-anchor="middle" x="2152.1" y="1559.9">0.04</text>
<text class="s" font-size="18.2" fill="#262626" text-anchor="middle" x="2183.6" y="1559.9">0.06</text>
<text class="s" font-size="18.2" fill="#262626" text-anchor="middle" x="2215.1" y="1559.9">0.06</text>
<text class="s" font-size="18.2" fill="#262626" text-anchor="middle" x="2246.6" y="1559.9">0.04</text>
<text class="s" font-size="18.2" fill="#262626" text-anchor="middle" x="2057.6" y="1591.5">0.06</text>
<text class="s" font-size="18.2" fill="#fff" text-anchor="middle" x="2089.1" y="1591.5">0.73</text>
<text class="s" font-size="18.2" fill="#262626" text-anchor="middle" x="2120.6" y="1591.5">0.02</text>
<text class="s" font-size="18.2" fill="#262626" text-anchor="middle" x="2152.1" y="1591.5">0.04</text>
<text class="s" font-size="18.2" fill="#262626" text-anchor="middle" x="2183.6" y="1591.5">0.05</text>
<text class="s" font-size="18.2" fill="#262626" text-anchor="middle" x="2215.1" y="1591.5">0.07</text>
<text class="s" font-size="18.2" fill="#262626" text-anchor="middle" x="2246.6" y="1591.5">0.03</text>
<text class="s" font-size="18.2" fill="#262626" text-anchor="middle" x="2057.6" y="1623.2">0.03</text>
<text class="s" font-size="18.2" fill="#262626" text-anchor="middle" x="2089.1" y="1623.2">0.02</text>
<text class="s" font-size="18.2" fill="#fff" text-anchor="middle" x="2120.6" y="1623.2">0.71</text>
<text class="s" font-size="18.2" fill="#262626" text-anchor="middle" x="2152.1" y="1623.2">0.07</text>
<text class="s" font-size="18.2" fill="#262626" text-anchor="middle" x="2183.6" y="1623.2">0.04</text>
<text class="s" font-size="18.2" fill="#262626" text-anchor="middle" x="2215.1" y="1623.2">0.02</text>
<text class="s" font-size="18.2" fill="#262626" text-anchor="middle" x="2246.6" y="1623.2">0.11</text>
<text class="s" font-size="18.2" fill="#262626" text-anchor="middle" x="2057.6" y="1654.8">0.05</text>
<text class="s" font-size="18.2" fill="#262626" text-anchor="middle" x="2089.1" y="1654.8">0.05</text>
<text class="s" font-size="18.2" fill="#262626" text-anchor="middle" x="2120.6" y="1654.8">0.04</text>
<text class="s" font-size="18.2" fill="#fff" text-anchor="middle" x="2152.1" y="1654.8">0.68</text>
<text class="s" font-size="18.2" fill="#262626" text-anchor="middle" x="2183.6" y="1654.8">0.03</text>
<text class="s" font-size="18.2" fill="#262626" text-anchor="middle" x="2215.1" y="1654.8">0.06</text>
<text class="s" font-size="18.2" fill="#262626" text-anchor="middle" x="2246.6" y="1654.8">0.08</text>
<text class="s" font-size="18.2" fill="#262626" text-anchor="middle" x="2057.6" y="1686.4">0.09</text>
<text class="s" font-size="18.2" fill="#262626" text-anchor="middle" x="2089.1" y="1686.4">0.06</text>
<text class="s" font-size="18.2" fill="#262626" text-anchor="middle" x="2120.6" y="1686.4">0.02</text>
<text class="s" font-size="18.2" fill="#262626" text-anchor="middle" x="2152.1" y="1686.4">0.02</text>
<text class="s" font-size="18.2" fill="#fff" text-anchor="middle" x="2183.6" y="1686.4">0.65</text>
<text class="s" font-size="18.2" fill="#262626" text-anchor="middle" x="2215.1" y="1686.4">0.05</text>
<text class="s" font-size="18.2" fill="#262626" text-anchor="middle" x="2246.6" y="1686.4">0.11</text>
<text class="s" font-size="18.2" fill="#262626" text-anchor="middle" x="2057.6" y="1718">0.07</text>
<text class="s" font-size="18.2" fill="#262626" text-anchor="middle" x="2089.1" y="1718">0.04</text>
<text class="s" font-size="18.2" fill="#262626" text-anchor="middle" x="2120.6" y="1718">0.06</text>
<text class="s" font-size="18.2" fill="#262626" text-anchor="middle" x="2152.1" y="1718">0.04</text>
<text class="s" font-size="18.2" fill="#262626" text-anchor="middle" x="2183.6" y="1718">0.04</text>
<text class="s" font-size="18.2" fill="#fff" text-anchor="middle" x="2215.1" y="1718">0.64</text>
<text class="s" font-size="18.2" fill="#262626" text-anchor="middle" x="2246.6" y="1718">0.11</text>
<text class="s" font-size="18.2" fill="#262626" text-anchor="middle" x="2057.6" y="1749.6">0.01</text>
<text class="s" font-size="18.2" fill="#262626" text-anchor="middle" x="2089.1" y="1749.6">0.03</text>
<text class="s" font-size="18.2" fill="#262626" text-anchor="middle" x="2120.6" y="1749.6">0.01</text>
<text class="s" font-size="18.2" fill="#262626" text-anchor="middle" x="2152.1" y="1749.6">0.01</text>
<text class="s" font-size="18.2" fill="#262626" text-anchor="middle" x="2183.6" y="1749.6">0.03</text>
<text class="s" font-size="18.2" fill="#262626" text-anchor="middle" x="2215.1" y="1749.6">0.03</text>
<text class="s" font-size="18.2" fill="#fff" text-anchor="middle" x="2246.6" y="1749.6">0.88</text>
<linearGradient id="cb2" x1="0" y1="0" x2="0" y2="1"><stop offset="0.000" stop-color="#08306b"/><stop offset="0.125" stop-color="#08519c"/><stop offset="0.250" stop-color="#2171b5"/><stop offset="0.375" stop-color="#4292c6"/><stop offset="0.500" stop-color="#6baed6"/><stop offset="0.625" stop-color="#9ecae1"/><stop offset="0.750" stop-color="#c6dbef"/><stop offset="0.875" stop-color="#deebf7"/><stop offset="1.000" stop-color="#f7fbff"/></linearGradient>
<rect x="2340.4" y="1536.4" width="11.6" height="226.8" fill="url(#cb2)" stroke="#777" stroke-width="0.8"/>
<line x1="2352" y1="1556" x2="2355" y2="1556" stroke="#333" stroke-width="0.8"/>
<text class="s" font-size="10.5" fill="#222" x="2357.3" y="1559.5">0.8</text>
<line x1="2352" y1="1608.6" x2="2355" y2="1608.6" stroke="#333" stroke-width="0.8"/>
<text class="s" font-size="10.5" fill="#222" x="2357.3" y="1612.1">0.6</text>
<line x1="2352" y1="1661.4" x2="2355" y2="1661.4" stroke="#333" stroke-width="0.8"/>
<text class="s" font-size="10.5" fill="#222" x="2357.3" y="1664.9">0.4</text>
<line x1="2352" y1="1713.6" x2="2355" y2="1713.6" stroke="#333" stroke-width="0.8"/>
<text class="s" font-size="10.5" fill="#222" x="2357.3" y="1717.1">0.2</text>
<text class="s" font-size="19.5" fill="#222" text-anchor="end" x="2034" y="1560.1">anger</text>
<line x1="2036" y1="1554.1" x2="2040" y2="1554.1" stroke="#555" stroke-width="0.8"/>
<line x1="2057.6" y1="1761" x2="2057.6" y2="1765" stroke="#555" stroke-width="0.8"/>
<text class="s" font-size="18.5" fill="#222" text-anchor="end" transform="translate(2063.6 1769.8) rotate(-90)">anger</text>
<text class="s" font-size="19.5" fill="#222" text-anchor="end" x="2034" y="1591.7">sadness</text>
<line x1="2036" y1="1585.7" x2="2040" y2="1585.7" stroke="#555" stroke-width="0.8"/>
<line x1="2089.1" y1="1761" x2="2089.1" y2="1765" stroke="#555" stroke-width="0.8"/>
<text class="s" font-size="18.5" fill="#222" text-anchor="end" transform="translate(2095.1 1769.8) rotate(-90)">sadness</text>
<text class="s" font-size="19.5" fill="#222" text-anchor="end" x="2034" y="1623.3">joy</text>
<line x1="2036" y1="1617.3" x2="2040" y2="1617.3" stroke="#555" stroke-width="0.8"/>
<line x1="2120.6" y1="1761" x2="2120.6" y2="1765" stroke="#555" stroke-width="0.8"/>
<text class="s" font-size="18.5" fill="#222" text-anchor="end" transform="translate(2126.6 1769.8) rotate(-90)">joy</text>
<text class="s" font-size="19.5" fill="#222" text-anchor="end" x="2034" y="1655">surprise</text>
<line x1="2036" y1="1649" x2="2040" y2="1649" stroke="#555" stroke-width="0.8"/>
<line x1="2152.1" y1="1761" x2="2152.1" y2="1765" stroke="#555" stroke-width="0.8"/>
<text class="s" font-size="18.5" fill="#222" text-anchor="end" transform="translate(2158.1 1769.8) rotate(-90)">surprise</text>
<text class="s" font-size="19.5" fill="#222" text-anchor="end" x="2034" y="1686.6">disgust</text>
<line x1="2036" y1="1680.6" x2="2040" y2="1680.6" stroke="#555" stroke-width="0.8"/>
<line x1="2183.6" y1="1761" x2="2183.6" y2="1765" stroke="#555" stroke-width="0.8"/>
<text class="s" font-size="18.5" fill="#222" text-anchor="end" transform="translate(2189.6 1769.8) rotate(-90)">disgust</text>
<text class="s" font-size="19.5" fill="#222" text-anchor="end" x="2034" y="1718.2">fear</text>
<line x1="2036" y1="1712.2" x2="2040" y2="1712.2" stroke="#555" stroke-width="0.8"/>
<line x1="2215.1" y1="1761" x2="2215.1" y2="1765" stroke="#555" stroke-width="0.8"/>
<text class="s" font-size="18.5" fill="#222" text-anchor="end" transform="translate(2221.1 1769.8) rotate(-90)">fear</text>
<text class="s" font-size="19.5" fill="#222" text-anchor="end" x="2034" y="1749.8">neutral</text>
<line x1="2036" y1="1743.8" x2="2040" y2="1743.8" stroke="#555" stroke-width="0.8"/>
<line x1="2246.6" y1="1761" x2="2246.6" y2="1765" stroke="#555" stroke-width="0.8"/>
<text class="s" font-size="18.5" fill="#222" text-anchor="end" transform="translate(2252.6 1769.8) rotate(-90)">neutral</text>
<text class="s" font-size="16.6" fill="#222" text-anchor="middle" transform="translate(1964.5 1649.8) rotate(-90)">True label</text>
<text class="s" font-size="18" fill="#222" text-anchor="middle" x="2152" y="1848.5">Predicted label</text>
<text class="s" font-size="29.3" fill="#111" x="2004.2" y="1895.8">(b) Emotion annotation.</text>
<rect x="2536.6" y="1558.9" width="108.8" height="109.6" fill="#083675"/>
<rect x="2645" y="1558.9" width="108.8" height="109.6" fill="#f2f8fd"/>
<rect x="2536.6" y="1668.2" width="108.8" height="109.6" fill="#f7fbff"/>
<rect x="2645" y="1668.2" width="108.8" height="109.6" fill="#08306b"/>
<text class="s" font-size="19.5" fill="#fff" text-anchor="middle" x="2590.8" y="1619.8">0.89</text>
<text class="s" font-size="19.5" fill="#262626" text-anchor="middle" x="2699.3" y="1619.8">0.11</text>
<text class="s" font-size="19.5" fill="#262626" text-anchor="middle" x="2590.8" y="1729.1">0.09</text>
<text class="s" font-size="19.5" fill="#fff" text-anchor="middle" x="2699.3" y="1729.1">0.91</text>
<linearGradient id="cb3" x1="0" y1="0" x2="0" y2="1"><stop offset="0.000" stop-color="#08306b"/><stop offset="0.125" stop-color="#08519c"/><stop offset="0.250" stop-color="#2171b5"/><stop offset="0.375" stop-color="#4292c6"/><stop offset="0.500" stop-color="#6baed6"/><stop offset="0.625" stop-color="#9ecae1"/><stop offset="0.750" stop-color="#c6dbef"/><stop offset="0.875" stop-color="#deebf7"/><stop offset="1.000" stop-color="#f7fbff"/></linearGradient>
<rect x="2776.6" y="1536.4" width="13.3" height="264.9" fill="url(#cb3)" stroke="#777" stroke-width="0.8"/>
<line x1="2789.9" y1="1571" x2="2792.9" y2="1571" stroke="#333" stroke-width="0.8"/>
<text class="s" font-size="10.5" fill="#222" x="2796" y="1574.5">0.8</text>
<line x1="2789.9" y1="1636.5" x2="2792.9" y2="1636.5" stroke="#333" stroke-width="0.8"/>
<text class="s" font-size="10.5" fill="#222" x="2796" y="1640">0.6</text>
<line x1="2789.9" y1="1701.2" x2="2792.9" y2="1701.2" stroke="#333" stroke-width="0.8"/>
<text class="s" font-size="10.5" fill="#222" x="2796" y="1704.7">0.4</text>
<line x1="2789.9" y1="1766.1" x2="2792.9" y2="1766.1" stroke="#333" stroke-width="0.8"/>
<text class="s" font-size="10.5" fill="#222" x="2796" y="1769.6">0.2</text>
<text class="s" font-size="20.8" fill="#222" text-anchor="end" x="2527.7" y="1619.6">sarcastic</text>
<line x1="2530" y1="1613.6" x2="2534.5" y2="1613.6" stroke="#555" stroke-width="0.8"/>
<text class="s" font-size="20.8" fill="#222" text-anchor="middle" x="2590.8" y="1820.2">sarcastic</text>
<text class="s" font-size="20.8" fill="#222" text-anchor="end" x="2527.7" y="1728.9">non-sarcastic</text>
<line x1="2530" y1="1722.9" x2="2534.5" y2="1722.9" stroke="#555" stroke-width="0.8"/>
<text class="s" font-size="20.8" fill="#222" text-anchor="middle" x="2699.3" y="1820.2">non-sarcastic</text>
<text class="s" font-size="16.6" fill="#222" text-anchor="middle" transform="translate(2408.5 1668) rotate(-90)">True label</text>
<text class="s" font-size="18.5" fill="#222" text-anchor="middle" x="2644.5" y="1843">Predicted label</text>
<text class="s" font-size="29.3" fill="#111" x="2474.8" y="1895.1">(c) Sarcasm annotation.</text>
<rect x="1668.9" y="1932.6" width="110.6" height="110.9" fill="#083e80"/>
<rect x="1779.2" y="1932.6" width="110.6" height="110.9" fill="#ecf4fc"/>
<rect x="1668.9" y="2043.2" width="110.6" height="110.9" fill="#f7fbff"/>
<rect x="1779.2" y="2043.2" width="110.6" height="110.9" fill="#08306b"/>
<text class="s" font-size="19.5" fill="#fff" text-anchor="middle" x="1724.1" y="1994.1">0.92</text>
<text class="s" font-size="19.5" fill="#262626" text-anchor="middle" x="1834.4" y="1994.1">0.08</text>
<text class="s" font-size="19.5" fill="#262626" text-anchor="middle" x="1724.1" y="2104.7">0.03</text>
<text class="s" font-size="19.5" fill="#fff" text-anchor="middle" x="1834.4" y="2104.7">0.97</text>
<linearGradient id="cb4" x1="0" y1="0" x2="0" y2="1"><stop offset="0.000" stop-color="#08306b"/><stop offset="0.125" stop-color="#08519c"/><stop offset="0.250" stop-color="#2171b5"/><stop offset="0.375" stop-color="#4292c6"/><stop offset="0.500" stop-color="#6baed6"/><stop offset="0.625" stop-color="#9ecae1"/><stop offset="0.750" stop-color="#c6dbef"/><stop offset="0.875" stop-color="#deebf7"/><stop offset="1.000" stop-color="#f7fbff"/></linearGradient>
<rect x="1912" y="1917.3" width="13.3" height="252.8" fill="url(#cb4)" stroke="#777" stroke-width="0.8"/>
<line x1="1925.3" y1="1963.6" x2="1928.3" y2="1963.6" stroke="#333" stroke-width="0.8"/>
<text class="s" font-size="10.5" fill="#222" x="1931.4" y="1967.1">0.8</text>
<line x1="1925.3" y1="2017.4" x2="1928.3" y2="2017.4" stroke="#333" stroke-width="0.8"/>
<text class="s" font-size="10.5" fill="#222" x="1931.4" y="2020.9">0.6</text>
<line x1="1925.3" y1="2070.7" x2="1928.3" y2="2070.7" stroke="#333" stroke-width="0.8"/>
<text class="s" font-size="10.5" fill="#222" x="1931.4" y="2074.2">0.4</text>
<line x1="1925.3" y1="2124" x2="1928.3" y2="2124" stroke="#333" stroke-width="0.8"/>
<text class="s" font-size="10.5" fill="#222" x="1931.4" y="2127.5">0.2</text>
<text class="s" font-size="20.8" fill="#222" text-anchor="end" x="1661.9" y="1994.4">humor</text>
<line x1="1664" y1="1987.9" x2="1667.5" y2="1987.9" stroke="#555" stroke-width="0.8"/>
<text class="s" font-size="20.8" fill="#222" text-anchor="middle" x="1724.1" y="2188.7">humor</text>
<text class="s" font-size="20.8" fill="#222" text-anchor="end" x="1661.9" y="2105">non-humor</text>
<line x1="1664" y1="2098.5" x2="1667.5" y2="2098.5" stroke="#555" stroke-width="0.8"/>
<text class="s" font-size="20.8" fill="#222" text-anchor="middle" x="1834.4" y="2188.7">non-humor</text>
<text class="s" font-size="16.6" fill="#222" text-anchor="middle" transform="translate(1565 2042.8) rotate(-90)">True label</text>
<text class="s" font-size="18.5" fill="#222" text-anchor="middle" x="1778.7" y="2210">Predicted label</text>
<text class="s" font-size="29.3" fill="#111" x="1605.9" y="2260.2">(d) Humor annotation.</text>
<rect x="2116.9" y="1908.8" width="125.3" height="126.3" fill="#084a91"/>
<rect x="2242" y="1908.8" width="125.3" height="126.3" fill="#e3eef9"/>
<rect x="2116.9" y="2034.8" width="125.3" height="126.3" fill="#f7fbff"/>
<rect x="2242" y="2034.8" width="125.3" height="126.3" fill="#08306b"/>
<text class="s" font-size="23.6" fill="#111" text-anchor="middle" x="2179.4" y="1979.4">0.87</text>
<text class="s" font-size="23.6" fill="#111" text-anchor="middle" x="2304.5" y="1979.4">0.13</text>
<text class="s" font-size="23.6" fill="#111" text-anchor="middle" x="2179.4" y="2105.4">0.04</text>
<text class="s" font-size="23.6" fill="#111" text-anchor="middle" x="2304.5" y="2105.4">0.96</text>
<linearGradient id="cb5" x1="0" y1="0" x2="0" y2="1"><stop offset="0.000" stop-color="#08306b"/><stop offset="0.125" stop-color="#08519c"/><stop offset="0.250" stop-color="#2171b5"/><stop offset="0.375" stop-color="#4292c6"/><stop offset="0.500" stop-color="#6baed6"/><stop offset="0.625" stop-color="#9ecae1"/><stop offset="0.750" stop-color="#c6dbef"/><stop offset="0.875" stop-color="#deebf7"/><stop offset="1.000" stop-color="#f7fbff"/></linearGradient>
<rect x="2383.5" y="1903.5" width="13.8" height="267.3" fill="url(#cb5)" stroke="#777" stroke-width="0.8"/>
<line x1="2397.3" y1="1947.8" x2="2400.3" y2="1947.8" stroke="#333" stroke-width="0.8"/>
<text class="s" font-size="12" fill="#222" x="2404.1" y="1951.8">0.8</text>
<line x1="2397.3" y1="2007.2" x2="2400.3" y2="2007.2" stroke="#333" stroke-width="0.8"/>
<text class="s" font-size="12" fill="#222" x="2404.1" y="2011.2">0.6</text>
<line x1="2397.3" y1="2065.9" x2="2400.3" y2="2065.9" stroke="#333" stroke-width="0.8"/>
<text class="s" font-size="12" fill="#222" x="2404.1" y="2069.9">0.4</text>
<line x1="2397.3" y1="2124" x2="2400.3" y2="2124" stroke="#333" stroke-width="0.8"/>
<text class="s" font-size="12" fill="#222" x="2404.1" y="2128">0.2</text>
<text class="s" font-size="23.6" fill="#222" text-anchor="end" x="2107.7" y="1979.8">pride</text>
<line x1="2110" y1="1971.8" x2="2115" y2="1971.8" stroke="#555" stroke-width="0.8"/>
<text class="s" font-size="23.6" fill="#222" text-anchor="middle" x="2179.4" y="2193.6">pride</text>
<text class="s" font-size="23.6" fill="#222" text-anchor="end" x="2107.7" y="2105.9">non-pride</text>
<line x1="2110" y1="2097.9" x2="2115" y2="2097.9" stroke="#555" stroke-width="0.8"/>
<text class="s" font-size="23.6" fill="#222" text-anchor="middle" x="2304.5" y="2193.6">non-pride</text>
<text class="s" font-size="21.5" fill="#222" text-anchor="middle" transform="translate(2004 2038) rotate(-90)">True label</text>
<text class="s" font-size="25" fill="#222" text-anchor="middle" x="2241.3" y="2221">Predicted label</text>
<text class="s" font-size="29.3" fill="#111" x="2016.4" y="2256.6">(e) Pride annotation.</text>
<rect x="2566.1" y="1905.9" width="47.4" height="47.5" fill="#084990"/>
<rect x="2613.2" y="1905.9" width="47.4" height="47.5" fill="#f7fbff"/>
<rect x="2660.3" y="1905.9" width="47.4" height="47.5" fill="#f7fbff"/>
<rect x="2707.4" y="1905.9" width="47.4" height="47.5" fill="#e3eef9"/>
<rect x="2566.1" y="1953.2" width="47.4" height="47.5" fill="#f7fbff"/>
<rect x="2613.2" y="1953.2" width="47.4" height="47.5" fill="#084387"/>
<rect x="2660.3" y="1953.2" width="47.4" height="47.5" fill="#f7fbff"/>
<rect x="2707.4" y="1953.2" width="47.4" height="47.5" fill="#e8f1fa"/>
<rect x="2566.1" y="2000.4" width="47.4" height="47.5" fill="#f7fbff"/>
<rect x="2613.2" y="2000.4" width="47.4" height="47.5" fill="#f7fbff"/>
<rect x="2660.3" y="2000.4" width="47.4" height="47.5" fill="#084e98"/>
<rect x="2707.4" y="2000.4" width="47.4" height="47.5" fill="#dfecf7"/>
<rect x="2566.1" y="2047.7" width="47.4" height="47.5" fill="#f7fbff"/>
<rect x="2613.2" y="2047.7" width="47.4" height="47.5" fill="#f7fbff"/>
<rect x="2660.3" y="2047.7" width="47.4" height="47.5" fill="#f7fbff"/>
<rect x="2707.4" y="2047.7" width="47.4" height="47.5" fill="#08306b"/>
<text class="s" font-size="20.6" fill="#111" text-anchor="middle" x="2589.7" y="1936.1">0.902</text>
<text class="s" font-size="20.6" fill="#111" text-anchor="middle" x="2636.8" y="1936.1">0.000</text>
<text class="s" font-size="20.6" fill="#111" text-anchor="middle" x="2683.8" y="1936.1">0.000</text>
<text class="s" font-size="20.6" fill="#111" text-anchor="middle" x="2730.9" y="1936.1">0.098</text>
<text class="s" font-size="20.6" fill="#111" text-anchor="middle" x="2589.7" y="1983.4">0.000</text>
<text class="s" font-size="20.6" fill="#111" text-anchor="middle" x="2636.8" y="1983.4">0.923</text>
<text class="s" font-size="20.6" fill="#111" text-anchor="middle" x="2683.8" y="1983.4">0.000</text>
<text class="s" font-size="20.6" fill="#111" text-anchor="middle" x="2730.9" y="1983.4">0.077</text>
<text class="s" font-size="20.6" fill="#111" text-anchor="middle" x="2589.7" y="2030.6">0.000</text>
<text class="s" font-size="20.6" fill="#111" text-anchor="middle" x="2636.8" y="2030.6">0.000</text>
<text class="s" font-size="20.6" fill="#111" text-anchor="middle" x="2683.8" y="2030.6">0.882</text>
<text class="s" font-size="20.6" fill="#111" text-anchor="middle" x="2730.9" y="2030.6">0.118</text>
<text class="s" font-size="20.6" fill="#111" text-anchor="middle" x="2589.7" y="2077.9">0.002</text>
<text class="s" font-size="20.6" fill="#111" text-anchor="middle" x="2636.8" y="2077.9">0.002</text>
<text class="s" font-size="20.6" fill="#111" text-anchor="middle" x="2683.8" y="2077.9">0.001</text>
<text class="s" font-size="20.6" fill="#111" text-anchor="middle" x="2730.9" y="2077.9">0.995</text>
<linearGradient id="cb6" x1="0" y1="0" x2="0" y2="1"><stop offset="0.000" stop-color="#08306b"/><stop offset="0.125" stop-color="#08519c"/><stop offset="0.250" stop-color="#2171b5"/><stop offset="0.375" stop-color="#4292c6"/><stop offset="0.500" stop-color="#6baed6"/><stop offset="0.625" stop-color="#9ecae1"/><stop offset="0.750" stop-color="#c6dbef"/><stop offset="0.875" stop-color="#deebf7"/><stop offset="1.000" stop-color="#f7fbff"/></linearGradient>
<rect x="2787.7" y="1905.9" width="11.1" height="190.3" fill="url(#cb6)" stroke="#777" stroke-width="0.8"/>
<line x1="2798.8" y1="1944" x2="2801.8" y2="1944" stroke="#333" stroke-width="0.8"/>
<text class="s" font-size="11" fill="#222" x="2804.1" y="1947.6">0.8</text>
<line x1="2798.8" y1="1982.2" x2="2801.8" y2="1982.2" stroke="#333" stroke-width="0.8"/>
<text class="s" font-size="11" fill="#222" x="2804.1" y="1985.8">0.6</text>
<line x1="2798.8" y1="2020.5" x2="2801.8" y2="2020.5" stroke="#333" stroke-width="0.8"/>
<text class="s" font-size="11" fill="#222" x="2804.1" y="2024.1">0.4</text>
<line x1="2798.8" y1="2058.6" x2="2801.8" y2="2058.6" stroke="#333" stroke-width="0.8"/>
<text class="s" font-size="11" fill="#222" x="2804.1" y="2062.2">0.2</text>
<line x1="2798.8" y1="2096.6" x2="2801.8" y2="2096.6" stroke="#333" stroke-width="0.8"/>
<text class="s" font-size="11" fill="#222" x="2804.1" y="2100.2">0.0</text>
<text class="s" font-size="22" fill="#222" text-anchor="end" x="2558.9" y="1936.5">immediate</text>
<line x1="2560.5" y1="1929.5" x2="2565" y2="1929.5" stroke="#555" stroke-width="0.8"/>
<line x1="2589.7" y1="2096" x2="2589.7" y2="2100" stroke="#555" stroke-width="0.8"/>
<text class="s" font-size="22" fill="#222" text-anchor="end" transform="translate(2596.7 2104.6) rotate(-90)">immediate</text>
<text class="s" font-size="22" fill="#222" text-anchor="end" x="2558.9" y="1983.8">growing</text>
<line x1="2560.5" y1="1976.8" x2="2565" y2="1976.8" stroke="#555" stroke-width="0.8"/>
<line x1="2636.8" y1="2096" x2="2636.8" y2="2100" stroke="#555" stroke-width="0.8"/>
<text class="s" font-size="22" fill="#222" text-anchor="end" transform="translate(2643.8 2104.6) rotate(-90)">growing</text>
<text class="s" font-size="22" fill="#222" text-anchor="end" x="2558.9" y="2031">empty</text>
<line x1="2560.5" y1="2024" x2="2565" y2="2024" stroke="#555" stroke-width="0.8"/>
<line x1="2683.8" y1="2096" x2="2683.8" y2="2100" stroke="#555" stroke-width="0.8"/>
<text class="s" font-size="22" fill="#222" text-anchor="end" transform="translate(2690.8 2104.6) rotate(-90)">empty</text>
<text class="s" font-size="22" fill="#222" text-anchor="end" x="2558.9" y="2078.3">none</text>
<line x1="2560.5" y1="2071.3" x2="2565" y2="2071.3" stroke="#555" stroke-width="0.8"/>
<line x1="2730.9" y1="2096" x2="2730.9" y2="2100" stroke="#555" stroke-width="0.8"/>
<text class="s" font-size="22" fill="#222" text-anchor="end" transform="translate(2737.9 2104.6) rotate(-90)">none</text>
<text class="s" font-size="24" fill="#222" text-anchor="middle" transform="translate(2456 2000.4) rotate(-90)">True label</text>
<text class="s" font-size="24.2" fill="#222" text-anchor="middle" x="2659.5" y="2218.5">Predicted label</text>
<text class="s" font-size="29.3" fill="#111" x="2475.3" y="2259.7">(f) Love annotation.</text>
<text class="s" font-size="26.9" x="1586" y="2400.7">Table 2: Statistics of CMMA. (t,v,a) = (text, video, audio).</text>
<line x1="1548.2" y1="2416.3" x2="2251.7" y2="2416.3" stroke="#000" stroke-width="2.2"/>
<line x1="1548.2" y1="2453" x2="2251.7" y2="2453" stroke="#000" stroke-width="1.1"/>
<line x1="1548.2" y1="2642.4" x2="2251.7" y2="2642.4" stroke="#000" stroke-width="1.1"/>
<line x1="1548.2" y1="2810.4" x2="2251.7" y2="2810.4" stroke="#000" stroke-width="2.2"/>
<line x1="1942.8" y1="2424.5" x2="1942.8" y2="2804" stroke="#000" stroke-width="1.1"/>
<text class="s" font-size="24.1" text-anchor="end" x="1924.8" y="2444">Item</text>
<text class="s" font-size="24.1" x="1959.6" y="2444">Train</text>
<text class="s" font-size="24.1" x="2070" y="2444">Dev</text>
<text class="s" font-size="24.1" x="2168.9" y="2444">Test</text>
<text class="s" font-size="24.1" text-anchor="end" x="1924.8" y="2472.7">#Modalities</text>
<text class="s" font-size="24.1" x="1959.6" y="2472.7">(t,v,a)</text>
<text class="s" font-size="24.1" x="2070" y="2472.7">(t,v,a)</text>
<text class="s" font-size="24.1" x="2168.9" y="2472.7">(t,v,a)</text>
<text class="s" font-size="24.1" text-anchor="end" x="1924.8" y="2499.1">#Conversations</text>
<text class="s" font-size="24.1" x="1959.6" y="2499.1">1800</text>
<text class="s" font-size="24.1" x="2070" y="2499.1">600</text>
<text class="s" font-size="24.1" x="2168.9" y="2499.1">600</text>
<text class="s" font-size="24.1" text-anchor="end" x="1924.8" y="2526.7">#Utterances</text>
<text class="s" font-size="24.1" x="1959.6" y="2526.7">13788</text>
<text class="s" font-size="24.1" x="2070" y="2526.7">4046</text>
<text class="s" font-size="24.1" x="2168.9" y="2526.7">3961</text>
<text class="s" font-size="24.1" text-anchor="end" x="1924.8" y="2553">#Speakers</text>
<text class="s" font-size="24.1" x="1959.6" y="2553">299</text>
<text class="s" font-size="24.1" x="2070" y="2553">78</text>
<text class="s" font-size="24.1" x="2168.9" y="2553">119</text>
<text class="s" font-size="24.1" text-anchor="end" x="1924.8" y="2579.5">#Words</text>
<text class="s" font-size="24.1" x="1959.6" y="2579.5">115,434</text>
<text class="s" font-size="24.1" x="2070" y="2579.5">35,487</text>
<text class="s" font-size="24.1" x="2168.9" y="2579.5">34,521</text>
<text class="s" font-size="24.1" text-anchor="end" x="1924.8" y="2607">#Unique words</text>
<text class="s" font-size="24.1" x="1959.6" y="2607">2,677</text>
<text class="s" font-size="24.1" x="2070" y="2607">1,842</text>
<text class="s" font-size="24.1" x="2168.9" y="2607">1,988</text>
<text class="s" font-size="24.1" text-anchor="end" x="1924.8" y="2634">#Video duration</text>
<text class="s" font-size="24.1" x="1959.6" y="2634">9.2h</text>
<text class="s" font-size="24.1" x="2070" y="2634">3.0h</text>
<text class="s" font-size="24.1" x="2168.9" y="2634">3.0h</text>
<text class="s" font-size="24.1" text-anchor="end" x="1924.8" y="2661.6">#Average utterances per conversation</text>
<text class="s" font-size="24.1" x="1959.6" y="2661.6">7.7</text>
<text class="s" font-size="24.1" x="2070" y="2661.6">6.8</text>
<text class="s" font-size="24.1" x="2168.9" y="2661.6">6.6</text>
<text class="s" font-size="24.1" text-anchor="end" x="1924.8" y="2688.6">#Average words per conversation</text>
<text class="s" font-size="24.1" x="1959.6" y="2688.6">64.1</text>
<text class="s" font-size="24.1" x="2070" y="2688.6">59.1</text>
<text class="s" font-size="24.1" x="2168.9" y="2688.6">57.5</text>
<text class="s" font-size="24.1" text-anchor="end" x="1924.8" y="2715.6">#Average words per utterance</text>
<text class="s" font-size="24.1" x="1959.6" y="2715.6">8.4</text>
<text class="s" font-size="24.1" x="2070" y="2715.6">8.8</text>
<text class="s" font-size="24.1" x="2168.9" y="2715.6">8.7</text>
<text class="s" font-size="24.1" text-anchor="end" x="1924.8" y="2742.6">#Average duration of a conversation</text>
<text class="s" font-size="24.1" x="1959.6" y="2742.6">18.5s</text>
<text class="s" font-size="24.1" x="2070" y="2742.6">18.4s</text>
<text class="s" font-size="24.1" x="2168.9" y="2742.6">17.8s</text>
<text class="s" font-size="24.1" text-anchor="end" x="1924.8" y="2769">#Average duration of an utterance</text>
<text class="s" font-size="24.1" x="1959.6" y="2769">2.4s</text>
<text class="s" font-size="24.1" x="2070" y="2769">2.7s</text>
<text class="s" font-size="24.1" x="2168.9" y="2769">2.8s</text>
<text class="s" font-size="24.1" text-anchor="end" x="1924.8" y="2796.6">#Average turns per conversation</text>
<text class="s" font-size="24.1" x="1959.6" y="2796.6">3.7</text>
<text class="s" font-size="24.1" x="2070" y="2796.6">3.3</text>
<text class="s" font-size="24.1" x="2168.9" y="2796.6">3.2</text>
<text class="s" font-size="28.2" x="2421.4" y="2340.8">Table 4: Dataset statistics.</text>
<line x1="2302.6" y1="2354" x2="2836.4" y2="2354" stroke="#000" stroke-width="2"/>
<line x1="2566.5" y1="2384" x2="2836.4" y2="2384" stroke="#000" stroke-width="0.9"/>
<line x1="2302.6" y1="2407.3" x2="2836.4" y2="2407.3" stroke="#000" stroke-width="0.9"/>
<line x1="2302.6" y1="2474.5" x2="2836.4" y2="2474.5" stroke="#000" stroke-width="0.9"/>
<line x1="2302.6" y1="2631.6" x2="2836.4" y2="2631.6" stroke="#000" stroke-width="0.9"/>
<line x1="2302.6" y1="2677.2" x2="2836.4" y2="2677.2" stroke="#000" stroke-width="0.9"/>
<line x1="2302.6" y1="2722.8" x2="2836.4" y2="2722.8" stroke="#000" stroke-width="0.9"/>
<line x1="2302.6" y1="2768.4" x2="2836.4" y2="2768.4" stroke="#000" stroke-width="0.9"/>
<line x1="2302.6" y1="2863" x2="2836.4" y2="2863" stroke="#000" stroke-width="2"/>
<text class="s" font-size="21.3" text-anchor="middle" x="2704.5" y="2376.8">CMMA</text>
<text class="s" font-size="21.3" text-anchor="middle" x="2605.5" y="2400">Train</text>
<text class="s" font-size="21.3" text-anchor="middle" x="2705.7" y="2400">Validation</text>
<text class="s" font-size="21.3" text-anchor="middle" x="2800.4" y="2400">Test</text>
<text class="s" font-size="21.3" x="2432.8" y="2422.9">Positive</text>
<text class="s" font-size="21.3" text-anchor="middle" x="2605.5" y="2422.9">1889</text>
<text class="s" font-size="21.3" text-anchor="middle" x="2705.7" y="2422.9">559</text>
<text class="s" font-size="21.3" text-anchor="middle" x="2800.4" y="2422.9">923</text>
<text class="s" font-size="21.3" x="2432.8" y="2445.1">Neutral</text>
<text class="s" font-size="21.3" text-anchor="middle" x="2605.5" y="2445.1">9324</text>
<text class="s" font-size="21.3" text-anchor="middle" x="2705.7" y="2445.1">2694</text>
<text class="s" font-size="21.3" text-anchor="middle" x="2800.4" y="2445.1">2249</text>
<text class="s" font-size="21.3" x="2432.8" y="2467.9">Negative</text>
<text class="s" font-size="21.3" text-anchor="middle" x="2605.5" y="2467.9">2575</text>
<text class="s" font-size="21.3" text-anchor="middle" x="2705.7" y="2467.9">793</text>
<text class="s" font-size="21.3" text-anchor="middle" x="2800.4" y="2467.9">789</text>
<text class="s" font-size="21.3" x="2432.8" y="2490.7">Anger</text>
<text class="s" font-size="21.3" text-anchor="middle" x="2605.5" y="2490.7">1610</text>
<text class="s" font-size="21.3" text-anchor="middle" x="2705.7" y="2490.7">375</text>
<text class="s" font-size="21.3" text-anchor="middle" x="2800.4" y="2490.7">382</text>
<text class="s" font-size="21.3" x="2432.8" y="2512.9">Sadness</text>
<text class="s" font-size="21.3" text-anchor="middle" x="2605.5" y="2512.9">620</text>
<text class="s" font-size="21.3" text-anchor="middle" x="2705.7" y="2512.9">168</text>
<text class="s" font-size="21.3" text-anchor="middle" x="2800.4" y="2512.9">99</text>
<text class="s" font-size="21.3" x="2432.8" y="2535.1">Joy</text>
<text class="s" font-size="21.3" text-anchor="middle" x="2605.5" y="2535.1">1950</text>
<text class="s" font-size="21.3" text-anchor="middle" x="2705.7" y="2535.1">406</text>
<text class="s" font-size="21.3" text-anchor="middle" x="2800.4" y="2535.1">182</text>
<text class="s" font-size="21.3" x="2432.8" y="2557.9">Surprise</text>
<text class="s" font-size="21.3" text-anchor="middle" x="2605.5" y="2557.9">534</text>
<text class="s" font-size="21.3" text-anchor="middle" x="2705.7" y="2557.9">514</text>
<text class="s" font-size="21.3" text-anchor="middle" x="2800.4" y="2557.9">371</text>
<text class="s" font-size="21.3" x="2432.8" y="2580">Disgust</text>
<text class="s" font-size="21.3" text-anchor="middle" x="2605.5" y="2580">821</text>
<text class="s" font-size="21.3" text-anchor="middle" x="2705.7" y="2580">118</text>
<text class="s" font-size="21.3" text-anchor="middle" x="2800.4" y="2580">19</text>
<text class="s" font-size="21.3" x="2432.8" y="2602.3">Fear</text>
<text class="s" font-size="21.3" text-anchor="middle" x="2605.5" y="2602.3">477</text>
<text class="s" font-size="21.3" text-anchor="middle" x="2705.7" y="2602.3">92</text>
<text class="s" font-size="21.3" text-anchor="middle" x="2800.4" y="2602.3">43</text>
<text class="s" font-size="21.3" x="2432.8" y="2625">Neutral</text>
<text class="s" font-size="21.3" text-anchor="middle" x="2605.5" y="2625">7776</text>
<text class="s" font-size="21.3" text-anchor="middle" x="2705.7" y="2625">2373</text>
<text class="s" font-size="21.3" text-anchor="middle" x="2800.4" y="2625">2865</text>
<text class="s" font-size="21.3" x="2432.8" y="2647.8">Sarcastic</text>
<text class="s" font-size="21.3" text-anchor="middle" x="2605.5" y="2647.8">2172</text>
<text class="s" font-size="21.3" text-anchor="middle" x="2705.7" y="2647.8">525</text>
<text class="s" font-size="21.3" text-anchor="middle" x="2800.4" y="2647.8">446</text>
<text class="s" font-size="21.3" x="2432.8" y="2670">Non-sarcastic</text>
<text class="s" font-size="21.3" text-anchor="middle" x="2605.5" y="2670">11616</text>
<text class="s" font-size="21.3" text-anchor="middle" x="2705.7" y="2670">3521</text>
<text class="s" font-size="21.3" text-anchor="middle" x="2800.4" y="2670">3515</text>
<text class="s" font-size="21.3" x="2432.8" y="2693.4">Humor</text>
<text class="s" font-size="21.3" text-anchor="middle" x="2605.5" y="2693.4">1368</text>
<text class="s" font-size="21.3" text-anchor="middle" x="2705.7" y="2693.4">602</text>
<text class="s" font-size="21.3" text-anchor="middle" x="2800.4" y="2693.4">619</text>
<text class="s" font-size="21.3" x="2432.8" y="2716.2">Non-humor</text>
<text class="s" font-size="21.3" text-anchor="middle" x="2605.5" y="2716.2">12420</text>
<text class="s" font-size="21.3" text-anchor="middle" x="2705.7" y="2716.2">3444</text>
<text class="s" font-size="21.3" text-anchor="middle" x="2800.4" y="2716.2">3342</text>
<text class="s" font-size="21.3" x="2432.8" y="2738.4">Pride</text>
<text class="s" font-size="21.3" text-anchor="middle" x="2605.5" y="2738.4">537</text>
<text class="s" font-size="21.3" text-anchor="middle" x="2705.7" y="2738.4">566</text>
<text class="s" font-size="21.3" text-anchor="middle" x="2800.4" y="2738.4">800</text>
<text class="s" font-size="21.3" x="2432.8" y="2761.2">Non-pride</text>
<text class="s" font-size="21.3" text-anchor="middle" x="2605.5" y="2761.2">13251</text>
<text class="s" font-size="21.3" text-anchor="middle" x="2705.7" y="2761.2">3480</text>
<text class="s" font-size="21.3" text-anchor="middle" x="2800.4" y="2761.2">3161</text>
<text class="s" font-size="21.3" x="2432.8" y="2784.6">Immediate</text>
<text class="s" font-size="21.3" text-anchor="middle" x="2605.5" y="2784.6">46</text>
<text class="s" font-size="21.3" text-anchor="middle" x="2705.7" y="2784.6">13</text>
<text class="s" font-size="21.3" text-anchor="middle" x="2800.4" y="2784.6">23</text>
<text class="s" font-size="21.3" x="2432.8" y="2806.8">Growing</text>
<text class="s" font-size="21.3" text-anchor="middle" x="2605.5" y="2806.8">217</text>
<text class="s" font-size="21.3" text-anchor="middle" x="2705.7" y="2806.8">32</text>
<text class="s" font-size="21.3" text-anchor="middle" x="2800.4" y="2806.8">49</text>
<text class="s" font-size="21.3" x="2432.8" y="2829">Empty</text>
<text class="s" font-size="21.3" text-anchor="middle" x="2605.5" y="2829">11</text>
<text class="s" font-size="21.3" text-anchor="middle" x="2705.7" y="2829">10</text>
<text class="s" font-size="21.3" text-anchor="middle" x="2800.4" y="2829">10</text>
<text class="s" font-size="21.3" x="2432.8" y="2851.7">None</text>
<text class="s" font-size="21.3" text-anchor="middle" x="2605.5" y="2851.7">13514</text>
<text class="s" font-size="21.3" text-anchor="middle" x="2705.7" y="2851.7">3991</text>
<text class="s" font-size="21.3" text-anchor="middle" x="2800.4" y="2851.7">3879</text>
<text class="s" font-size="21.3" x="2315.8" y="2445.1">Sentiment</text>
<text class="s" font-size="21.3" x="2315.8" y="2557.9">Emotion</text>
<text class="s" font-size="21.3" x="2315.8" y="2659">Sarcasm</text>
<text class="s" font-size="21.3" x="2315.8" y="2704.8">Humor</text>
<text class="s" font-size="21.3" x="2315.8" y="2750">Pride</text>
<text class="s" font-size="21.3" x="2315.8" y="2818">Love</text>
<rect x="2910" y="417" width="1401.2" height="2461.3" fill="none" stroke="#D35F0E" stroke-width="1.6" stroke-dasharray="13 5 1.8 5"/>
<text class="s b" font-size="23.4" x="3014" y="570.2">Context</text>
<text class="s b" font-size="23.4" x="3050.2" y="636.5">Text</text>
<text class="s b" font-size="23.4" x="3014" y="764">Context</text>
<text class="s b" font-size="23.4" x="3039" y="818.2">Video</text>
<text class="s b" font-size="23.4" x="3010" y="944">Context</text>
<text class="s b" font-size="23.4" x="3035.4" y="998.2">Audio</text>
<rect x="3099.3" y="536.9" width="200.1" height="47.4" fill="#fff" stroke="#000" stroke-width="1.8" stroke-dasharray="9 4 2 4"/>
<rect x="3099.3" y="594.3" width="200.1" height="69.2" fill="#fff" stroke="#000" stroke-width="1.8" stroke-dasharray="9 4 2 4"/>
<text class="s" font-size="18.5" text-anchor="middle" x="3199.3" y="556.1">Please lend me another</text>
<text class="s" font-size="18.5" text-anchor="middle" x="3199.3" y="577">two hundred yuan.</text>
<text class="s" font-size="18.5" text-anchor="middle" x="3199.3" y="614">Why don’t you buy a</text>
<text class="s" font-size="18.5" text-anchor="middle" x="3199.3" y="634.8">piece of tofu and kill</text>
<text class="s" font-size="18.5" text-anchor="middle" x="3199.3" y="656">yourself on it?</text>
<rect x="3342.4" y="534" width="131.8" height="51.5" fill="#F8CBAD" stroke="#8FAADC" stroke-width="1" rx="7"/>
<text class="s" font-size="17.5" text-anchor="middle" x="3408.3" y="555">Textual Feature</text>
<text class="s" font-size="17.5" text-anchor="middle" x="3408.3" y="575.5">Extraction</text>
<rect x="3342.4" y="602.4" width="131.8" height="51.4" fill="#F8CBAD" stroke="#8FAADC" stroke-width="1" rx="7"/>
<text class="s" font-size="17.5" text-anchor="middle" x="3408.3" y="623.7">Textual Feature</text>
<text class="s" font-size="17.5" text-anchor="middle" x="3408.3" y="643.8">Extraction</text>
<rect x="3342.4" y="724.2" width="131.8" height="51.8" fill="#8FAADC" stroke="#8FAADC" stroke-width="1" rx="7"/>
<text class="s" font-size="17.5" text-anchor="middle" x="3408.3" y="745.9">Visual Feature</text>
<text class="s" font-size="17.5" text-anchor="middle" x="3408.3" y="766">Extraction</text>
<rect x="3342.4" y="788" width="131.8" height="51.5" fill="#8FAADC" stroke="#8FAADC" stroke-width="1" rx="7"/>
<text class="s" font-size="17.5" text-anchor="middle" x="3408.3" y="809.4">Visual Feature</text>
<text class="s" font-size="17.5" text-anchor="middle" x="3408.3" y="829.4">Extraction</text>
<rect x="3342.4" y="899.8" width="131.8" height="51.4" fill="#A9D18E" stroke="#8FAADC" stroke-width="1" rx="7"/>
<text class="s" font-size="16.6" text-anchor="middle" x="3408.3" y="921">Acoustic Feature</text>
<text class="s" font-size="16.6" text-anchor="middle" x="3408.3" y="940">Extraction</text>
<rect x="3342.4" y="964" width="131.8" height="51.1" fill="#A9D18E" stroke="#8FAADC" stroke-width="1" rx="7"/>
<text class="s" font-size="16.6" text-anchor="middle" x="3408.3" y="985">Acoustic Feature</text>
<text class="s" font-size="16.6" text-anchor="middle" x="3408.3" y="1004.3">Extraction</text>
<text class="s b" font-size="21" x="3347.6" y="1057.7">Multi-modal</text>
<text class="s b" font-size="21" x="3347.6" y="1082.6">Encoder</text>
<clipPath id="cp10"><rect x="0" y="0" width="1" height="1"/></clipPath>
<g transform="translate(3131 704) scale(78.4 89.3)" clip-path="url(#cp10)"><g filter="url(#fb)">
<rect x="-0.2" y="-0.2" width="1.4" height="1.4" fill="#8C4B38"/>
<rect x="-0.2" y="-0.2" width="0.35" height="1.4" fill="#6E3A2C"/>
<rect x="0.75" y="-0.2" width="0.5" height="0.9" fill="#96543F"/>
<path d="M-.05 .78 L.22 .72 L.35 1.1 L-.1 1.1 Z" fill="#4B3C30"/>
<path d="M.80 .74 L1.1 .68 L1.1 1.1 L.70 1.1 Z" fill="#3C3029"/>
<path d="M.25 .82 L.40 1.1 L.30 1.1 Z" fill="#5A74B5"/>
<path d="M.78 .80 L.84 1.1 L.72 1.1 Z" fill="#4060A8"/>
<ellipse cx="0.55" cy="0.66" rx="0.3" ry="0.32" fill="#B07A58"/>
<ellipse cx="0.58" cy="0.9" rx="0.22" ry="0.18" fill="#A87252"/>
<ellipse cx="0.6" cy="0.64" rx="0.17" ry="0.19" fill="#C48E6A"/>
<ellipse cx="0.3" cy="0.66" rx="0.05" ry="0.08" fill="#B88262"/>
<path d="M.06 .60 Q-.02 .30 .22 .14 Q.40 -.02 .66 .08 Q.90 .18 .92 .46 Q.92 .56 .86 .62 L.80 .46 Q.60 .36 .42 .46 Q.30 .56 .26 .72 L.16 .66 Z" fill="#1E1714"/>
<ellipse cx="0.46" cy="0.28" rx="0.36" ry="0.2" fill="#1E1714"/>
<ellipse cx="0.36" cy="0.2" rx="0.12" ry="0.06" fill="#3A2E28" transform="rotate(-30 0.36 0.2)"/>
<ellipse cx="0.43" cy="0.555" rx="0.06" ry="0.022" fill="#2A1A14"/>
<ellipse cx="0.7" cy="0.535" rx="0.055" ry="0.022" fill="#2A1A14"/>
<ellipse cx="0.58" cy="0.7" rx="0.04" ry="0.03" fill="#A06C50"/>
<ellipse cx="0.59" cy="0.815" rx="0.085" ry="0.022" fill="#6E3530"/>
</g></g>
<clipPath id="cp11"><rect x="0" y="0" width="1" height="1"/></clipPath>
<g transform="translate(3219.8 768) scale(78.4 88.8)" clip-path="url(#cp11)"><g filter="url(#fb)">
<rect x="-0.2" y="-0.2" width="1.4" height="1.4" fill="#8A4A38"/>
<rect x="-0.2" y="0.88" width="0.5" height="0.4" fill="#B07840"/>
<ellipse cx="0.34" cy="0.68" rx="0.35" ry="0.37" fill="#D3A07E"/>
<ellipse cx="0.42" cy="1.0" rx="0.3" ry="0.16" fill="#C99672"/>
<ellipse cx="0.26" cy="0.62" rx="0.2" ry="0.24" fill="#DFAE8C"/>
<ellipse cx="0.07" cy="0.73" rx="0.06" ry="0.07" fill="#CC9674"/>
<path d="M.16 .38 Q.28 .12 .62 .10 Q.80 .0 1.2 -.1 L1.2 1.2 L.62 1.2 Q.56 .98 .64 .86 Q.74 .62 .58 .52 Q.46 .36 .16 .38 Z" fill="#15110F"/>
<path d="M.16 .38 Q.34 .30 .56 .50 Q.40 .42 .30 .42 Q.22 .40 .16 .38 Z" fill="#6E5244"/>
<ellipse cx="0.56" cy="0.03" rx="0.13" ry="0.045" fill="#2C5AA8"/>
<ellipse cx="0.66" cy="0.78" rx="0.05" ry="0.09" fill="#D8A888"/>
<ellipse cx="0.25" cy="0.575" rx="0.075" ry="0.018" fill="#1A1210" transform="rotate(-12 0.25 0.575)"/>
<ellipse cx="0.28" cy="0.63" rx="0.04" ry="0.02" fill="#2A1A14"/>
<ellipse cx="0.05" cy="0.57" rx="0.03" ry="0.015" fill="#2A1A14"/>
<ellipse cx="0.09" cy="0.875" rx="0.06" ry="0.03" fill="#7A2E30"/>
</g></g>
<path d="M3112.5 924.5 L3113.3 924.4 L3114.1 924.1 L3114.9 924.7 L3115.7 924.5 L3116.5 923.7 L3117.3 923.9 L3118.1 924.1 L3118.9 924 L3119.7 924.1 L3120.5 923.8 L3121.3 923.6 L3122.2 924.1 L3123 923.2 L3123.8 923.3 L3124.6 923.1 L3125.4 923.6 L3126.2 923.4 L3127 922.3 L3127.8 924 L3128.6 921.7 L3129.4 922.4 L3130.2 922.6 L3131 923 L3131.8 922.1 L3132.6 921.5 L3133.4 920.6 L3134.2 921.1 L3135 919.9 L3135.8 919.2 L3136.6 919.5 L3137.4 918 L3138.2 920.7 L3139 915 L3139.8 920.8 L3140.6 915.8 L3141.4 915.6 L3142.3 903.3 L3143.1 904.9 L3143.9 899.3 L3144.7 891.7 L3145.5 900 L3146.3 904.7 L3147.1 894.7 L3147.9 907.8 L3148.7 895.4 L3149.5 914 L3150.3 907.5 L3151.1 895.2 L3151.9 908.1 L3152.7 906.8 L3153.5 910.6 L3154.3 907 L3155.1 915.5 L3155.9 918.6 L3156.7 911.3 L3157.5 916.4 L3158.3 918 L3159.1 921.8 L3159.9 916.1 L3160.8 916.1 L3161.6 915.3 L3162.4 914.6 L3163.2 921.2 L3164 912.9 L3164.8 917.1 L3165.6 910.5 L3166.4 912.4 L3167.2 910.5 L3168 910.3 L3168.8 897 L3169.6 901 L3170.4 907.7 L3171.2 895 L3172 912.2 L3172.8 902 L3173.6 912.2 L3174.4 905.5 L3175.2 908.3 L3176 917.1 L3176.8 912.7 L3177.6 920.1 L3178.4 918 L3179.2 916 L3180.1 920.9 L3180.9 915.5 L3181.7 914.7 L3182.5 920.5 L3183.3 912.6 L3184.1 916.7 L3184.9 914.8 L3185.7 906.3 L3186.5 919.6 L3187.3 904.1 L3188.1 911.2 L3188.9 901.7 L3189.7 905.1 L3190.5 907 L3191.3 914.3 L3192.1 916 L3192.9 911.5 L3193.7 910 L3194.5 910.9 L3195.3 912.8 L3196.1 915 L3196.9 922.8 L3197.7 922.3 L3198.5 920.7 L3199.3 922.5 L3200.2 922.5 L3201 923.8 L3201.8 923.6 L3202.6 924.1 L3203.4 924 L3204.2 924.5 L3205 923.8 L3205.8 923.9 L3206.6 924.1 L3207.4 924.7 L3208.2 924.5 L3209 924.3 L3209 925.9 L3208.2 926 L3207.4 925.7 L3206.6 926.3 L3205.8 925.4 L3205 926.3 L3204.2 926.3 L3203.4 926.6 L3202.6 925.9 L3201.8 927.1 L3201 927.8 L3200.2 927 L3199.3 929.5 L3198.5 928.9 L3197.7 928.6 L3196.9 932.4 L3196.1 932.5 L3195.3 937.1 L3194.5 936.9 L3193.7 930.1 L3192.9 934.3 L3192.1 931.6 L3191.3 936.8 L3190.5 940.6 L3189.7 946.8 L3188.9 935.4 L3188.1 948.4 L3187.3 948 L3186.5 945.8 L3185.7 932.4 L3184.9 935.2 L3184.1 934.3 L3183.3 931.8 L3182.5 931.3 L3181.7 931.3 L3180.9 933.3 L3180.1 930 L3179.2 934.5 L3178.4 929.4 L3177.6 929.2 L3176.8 933.1 L3176 936.8 L3175.2 932.2 L3174.4 938.1 L3173.6 938.2 L3172.8 934.9 L3172 944.2 L3171.2 940.2 L3170.4 940.2 L3169.6 953.7 L3168.8 934.2 L3168 941.6 L3167.2 944.4 L3166.4 936.8 L3165.6 935.4 L3164.8 935.9 L3164 940.7 L3163.2 929.4 L3162.4 935.9 L3161.6 931.7 L3160.8 932.6 L3159.9 928.8 L3159.1 934 L3158.3 933.8 L3157.5 928.5 L3156.7 934.1 L3155.9 932.3 L3155.1 938.4 L3154.3 937.1 L3153.5 940.6 L3152.7 942.5 L3151.9 943.4 L3151.1 942.4 L3150.3 960.2 L3149.5 960.6 L3148.7 940.5 L3147.9 949.2 L3147.1 937 L3146.3 938.1 L3145.5 965 L3144.7 961.2 L3143.9 941.4 L3143.1 933.1 L3142.3 931.9 L3141.4 941.7 L3140.6 931.1 L3139.8 936.8 L3139 936.4 L3138.2 927.9 L3137.4 930.6 L3136.6 928 L3135.8 929.4 L3135 930.7 L3134.2 927.1 L3133.4 930.1 L3132.6 929.5 L3131.8 929.2 L3131 928 L3130.2 927.2 L3129.4 926.9 L3128.6 927.1 L3127.8 926.4 L3127 926.1 L3126.2 927.8 L3125.4 927.4 L3124.6 927.4 L3123.8 927.2 L3123 926.4 L3122.2 925.6 L3121.3 926.4 L3120.5 925.6 L3119.7 926.4 L3118.9 926.4 L3118.1 925.6 L3117.3 925.9 L3116.5 925.9 L3115.7 925.7 L3114.9 926.3 L3114.1 925.5 L3113.3 926.1 L3112.5 926Z" fill="#1F4E9E" stroke="#1F4E9E" stroke-width="0.5" stroke-linejoin="round"/>
<path d="M3182.9 990.1 L3183.7 989.9 L3184.5 989.9 L3185.3 990.6 L3186.1 989.7 L3186.9 989.8 L3187.7 990.2 L3188.5 990.1 L3189.3 990.7 L3190.1 990.4 L3190.9 989.9 L3191.7 989.9 L3192.5 990.1 L3193.3 990.7 L3194.1 990.5 L3194.9 989.7 L3195.7 990.4 L3196.5 990.1 L3197.3 990.5 L3198.1 990 L3198.9 989.8 L3199.7 990.3 L3200.5 990.5 L3201.3 990.3 L3202.1 990.6 L3202.9 990.1 L3203.7 989.3 L3204.5 990 L3205.3 989.3 L3206.1 988.7 L3206.9 988.9 L3207.7 990.3 L3208.5 989.5 L3209.3 990.2 L3210.1 989.7 L3210.9 989.6 L3211.7 987.5 L3212.5 989 L3213.3 988.4 L3214.1 989.6 L3214.9 987.2 L3215.7 989.7 L3216.5 989.4 L3217.3 987.3 L3218.1 988.2 L3218.9 987.1 L3219.7 988 L3220.5 989 L3221.3 985.6 L3222.1 988.2 L3222.9 982.7 L3223.7 985.9 L3224.5 983.9 L3225.3 984.2 L3226.1 987.2 L3226.9 987 L3227.7 976.3 L3228.5 975.8 L3229.3 975.4 L3230.1 982.9 L3230.9 981.1 L3231.7 976.7 L3232.5 957.8 L3233.3 955.7 L3234.1 967.4 L3234.9 966.5 L3235.7 967.9 L3236.5 968.3 L3237.3 949.5 L3238.1 964.6 L3238.9 978 L3239.7 958 L3240.6 971.5 L3241.4 962 L3242.2 967 L3243 975.7 L3243.8 978.8 L3244.6 971.4 L3245.4 981 L3246.2 977.1 L3247 986.6 L3247.8 984.4 L3248.6 982.9 L3249.4 982 L3250.2 985.2 L3251 982.6 L3251.8 986 L3252.6 982.7 L3253.4 982.5 L3254.2 985.7 L3255 988 L3255.8 983.7 L3256.6 985.3 L3257.4 985.3 L3258.2 985.3 L3259 986.1 L3259.8 986.4 L3260.6 986.5 L3261.4 989.4 L3262.2 987.7 L3263 988.8 L3263.8 987.3 L3264.6 988 L3265.4 989.6 L3266.2 988.8 L3267 989.3 L3267.8 988.6 L3268.6 988.3 L3269.4 989.4 L3270.2 990.1 L3271 989.5 L3271.8 990 L3272.6 989.5 L3273.4 989.1 L3274.2 989.3 L3275 989.4 L3275.8 989.1 L3276.6 989.2 L3277.4 990 L3278.2 989.7 L3279 989.4 L3279.8 989.9 L3280.6 989.7 L3281.4 990.6 L3282.2 990.1 L3283 990 L3283.8 990.3 L3284.6 990.4 L3285.4 989.7 L3286.2 989.7 L3287 990.1 L3287.8 989.7 L3288.6 990.3 L3289.4 989.7 L3290.2 990.4 L3291 990.5 L3291.8 990.2 L3292.6 989.9 L3293.4 990.7 L3294.2 990.4 L3295 989.9 L3295.8 990.4 L3296.6 989.7 L3297.4 990.1 L3298.2 990 L3298.2 991.9 L3297.4 991.8 L3296.6 991.6 L3295.8 991.5 L3295 991.6 L3294.2 992.3 L3293.4 991.9 L3292.6 992.1 L3291.8 991.6 L3291 991.9 L3290.2 991.8 L3289.4 991.8 L3288.6 991.6 L3287.8 991.8 L3287 991.6 L3286.2 992.2 L3285.4 991.7 L3284.6 991.6 L3283.8 991.8 L3283 992.2 L3282.2 991.5 L3281.4 991.9 L3280.6 991.4 L3279.8 991.8 L3279 992.6 L3278.2 992.2 L3277.4 991.7 L3276.6 992.5 L3275.8 992.3 L3275 993.3 L3274.2 992.3 L3273.4 991.9 L3272.6 991.8 L3271.8 993.7 L3271 992.8 L3270.2 992.9 L3269.4 994.4 L3268.6 993.7 L3267.8 993.2 L3267 992.2 L3266.2 992.7 L3265.4 992.7 L3264.6 993.1 L3263.8 992.5 L3263 995.1 L3262.2 995.2 L3261.4 993.2 L3260.6 995.8 L3259.8 996.3 L3259 994.7 L3258.2 995.7 L3257.4 993.7 L3256.6 996.8 L3255.8 995.7 L3255 998 L3254.2 996.4 L3253.4 999.4 L3252.6 998 L3251.8 999.6 L3251 1000.1 L3250.2 999.3 L3249.4 1001.4 L3248.6 1002.7 L3247.8 1002.3 L3247 1002.1 L3246.2 1003.9 L3245.4 1011.3 L3244.6 1009.2 L3243.8 1007.3 L3243 1013.8 L3242.2 1017.3 L3241.4 1017.9 L3240.6 1022.4 L3239.7 1026.6 L3238.9 1009.7 L3238.1 1012.3 L3237.3 1021.8 L3236.5 1033.2 L3235.7 1006 L3234.9 1009.9 L3234.1 1021.5 L3233.3 1012.2 L3232.5 1020.5 L3231.7 1008.9 L3230.9 1015.1 L3230.1 1005.1 L3229.3 1009.2 L3228.5 1009.3 L3227.7 996.8 L3226.9 1000.1 L3226.1 1003.1 L3225.3 997.5 L3224.5 999.9 L3223.7 994.9 L3222.9 996.4 L3222.1 993.2 L3221.3 998.1 L3220.5 993.4 L3219.7 993.4 L3218.9 993.8 L3218.1 996.2 L3217.3 995.9 L3216.5 993.5 L3215.7 995.6 L3214.9 995 L3214.1 994.5 L3213.3 994.4 L3212.5 993 L3211.7 994.5 L3210.9 993.8 L3210.1 994.1 L3209.3 991.9 L3208.5 993 L3207.7 993.3 L3206.9 993.2 L3206.1 991.6 L3205.3 991.7 L3204.5 992.3 L3203.7 992.2 L3202.9 991.9 L3202.1 992.3 L3201.3 992.1 L3200.5 991.4 L3199.7 991.5 L3198.9 991.6 L3198.1 992.3 L3197.3 992.3 L3196.5 992 L3195.7 992.3 L3194.9 992.2 L3194.1 991.5 L3193.3 992.2 L3192.5 991.5 L3191.7 991.5 L3190.9 991.5 L3190.1 992.2 L3189.3 991.5 L3188.5 991.9 L3187.7 991.6 L3186.9 991.4 L3186.1 992 L3185.3 991.8 L3184.5 992.2 L3183.7 992.3 L3182.9 992.1Z" fill="#C55A11" stroke="#C55A11" stroke-width="0.5" stroke-linejoin="round"/>
<line x1="3299.4" y1="560.2" x2="3335.4" y2="560.2" stroke="#000" stroke-width="2"/>
<polygon points="3342.4,560.2 3335.4,563.1 3335.4,557.3" fill="#000"/>
<line x1="3299.4" y1="628.5" x2="3335.4" y2="628.5" stroke="#000" stroke-width="2"/>
<polygon points="3342.4,628.5 3335.4,631.4 3335.4,625.6" fill="#000"/>
<line x1="3209.4" y1="749.9" x2="3335.4" y2="749.9" stroke="#000" stroke-width="2"/>
<polygon points="3342.4,749.9 3335.4,752.8 3335.4,747" fill="#000"/>
<line x1="3298.2" y1="814.6" x2="3335.4" y2="814.6" stroke="#000" stroke-width="2"/>
<polygon points="3342.4,814.6 3335.4,817.5 3335.4,811.7" fill="#000"/>
<line x1="3209" y1="925.1" x2="3335.4" y2="925.1" stroke="#000" stroke-width="2"/>
<polygon points="3342.4,925.1 3335.4,928 3335.4,922.2" fill="#000"/>
<line x1="3298.2" y1="989.4" x2="3335.4" y2="989.4" stroke="#000" stroke-width="2"/>
<polygon points="3342.4,989.4 3335.4,992.3 3335.4,986.5" fill="#000"/>
<line x1="3474.2" y1="559.4" x2="3490" y2="590.2" stroke="#000" stroke-width="1.7"/>
<line x1="3474.2" y1="628" x2="3490" y2="600.2" stroke="#000" stroke-width="1.7"/>
<circle cx="3496.3" cy="595.2" r="7.5" fill="#fff" stroke="#000" stroke-width="1.6"/>
<line x1="3488.8" y1="595.2" x2="3503.8" y2="595.2" stroke="#000" stroke-width="1.5"/>
<line x1="3496.3" y1="587.7" x2="3496.3" y2="602.7" stroke="#000" stroke-width="1.5"/>
<line x1="3503.8" y1="595.2" x2="3514.6" y2="595.2" stroke="#000" stroke-width="1.6"/>
<polygon points="3519.6,595.2 3514.6,597.3 3514.6,593.1" fill="#000"/>
<line x1="3474.2" y1="750" x2="3490" y2="775.4" stroke="#000" stroke-width="1.7"/>
<line x1="3474.2" y1="814" x2="3490" y2="785.4" stroke="#000" stroke-width="1.7"/>
<circle cx="3496.3" cy="780.4" r="7.5" fill="#fff" stroke="#000" stroke-width="1.6"/>
<line x1="3488.8" y1="780.4" x2="3503.8" y2="780.4" stroke="#000" stroke-width="1.5"/>
<line x1="3496.3" y1="772.9" x2="3496.3" y2="787.9" stroke="#000" stroke-width="1.5"/>
<line x1="3503.8" y1="780.4" x2="3514.6" y2="780.4" stroke="#000" stroke-width="1.6"/>
<polygon points="3519.6,780.4 3514.6,782.5 3514.6,778.3" fill="#000"/>
<line x1="3474.2" y1="925.5" x2="3490" y2="951" stroke="#000" stroke-width="1.7"/>
<line x1="3474.2" y1="989.5" x2="3490" y2="961" stroke="#000" stroke-width="1.7"/>
<circle cx="3496.3" cy="956" r="7.5" fill="#fff" stroke="#000" stroke-width="1.6"/>
<line x1="3488.8" y1="956" x2="3503.8" y2="956" stroke="#000" stroke-width="1.5"/>
<line x1="3496.3" y1="948.5" x2="3496.3" y2="963.5" stroke="#000" stroke-width="1.5"/>
<line x1="3503.8" y1="956" x2="3514.6" y2="956" stroke="#000" stroke-width="1.6"/>
<polygon points="3519.6,956 3514.6,958.1 3514.6,953.9" fill="#000"/>
<line x1="3532.9" y1="640.6" x2="3584.4" y2="958" stroke="#000" stroke-width="2"/>
<line x1="3532.9" y1="823.4" x2="3583.2" y2="1060" stroke="#000" stroke-width="2"/>
<line x1="3546.6" y1="959.5" x2="3579.4" y2="959.8" stroke="#000" stroke-width="2"/>
<polygon points="3584.4,959.8 3579.4,961.9 3579.4,957.7" fill="#000"/>
<line x1="3546.6" y1="959.5" x2="3583.2" y2="1060" stroke="#000" stroke-width="2"/>
<rect x="3519.6" y="561" width="27" height="79.6" fill="none" stroke="#333" stroke-width="1" rx="3" stroke-dasharray="4 2.5"/>
<ellipse cx="3532.9" cy="574.3" rx="8" ry="6.8" fill="#F4B183" stroke="#222" stroke-width="0.9"/>
<ellipse cx="3532.9" cy="592.3" rx="8" ry="6.8" fill="#F4B183" stroke="#222" stroke-width="0.9"/>
<ellipse cx="3532.9" cy="609.6" rx="8" ry="6.8" fill="#F4B183" stroke="#222" stroke-width="0.9"/>
<ellipse cx="3532.9" cy="627.3" rx="8" ry="6.8" fill="#F4B183" stroke="#222" stroke-width="0.9"/>
<rect x="3519.6" y="743.8" width="27" height="79.6" fill="none" stroke="#333" stroke-width="1" rx="3" stroke-dasharray="4 2.5"/>
<ellipse cx="3532.9" cy="757.1" rx="8" ry="6.8" fill="#8FAADC" stroke="#222" stroke-width="0.9"/>
<ellipse cx="3532.9" cy="774.4" rx="8" ry="6.8" fill="#8FAADC" stroke="#222" stroke-width="0.9"/>
<ellipse cx="3532.9" cy="792.1" rx="8" ry="6.8" fill="#8FAADC" stroke="#222" stroke-width="0.9"/>
<ellipse cx="3532.9" cy="809.4" rx="8" ry="6.8" fill="#8FAADC" stroke="#222" stroke-width="0.9"/>
<rect x="3519.6" y="919.9" width="27" height="79.1" fill="none" stroke="#333" stroke-width="1" rx="3" stroke-dasharray="4 2.5"/>
<ellipse cx="3532.9" cy="933.1" rx="8" ry="6.8" fill="#A9D18E" stroke="#222" stroke-width="0.9"/>
<ellipse cx="3532.9" cy="950.8" rx="8" ry="6.8" fill="#A9D18E" stroke="#222" stroke-width="0.9"/>
<ellipse cx="3532.9" cy="968.1" rx="8" ry="6.8" fill="#A9D18E" stroke="#222" stroke-width="0.9"/>
<ellipse cx="3532.9" cy="985.4" rx="8" ry="6.8" fill="#A9D18E" stroke="#222" stroke-width="0.9"/>
<rect x="3583.6" y="544.9" width="235.8" height="374" fill="#CCECFF" stroke="#000" stroke-width="2" rx="38"/>
<text class="s" font-size="17.5" x="3593.6" y="570.2">Query</text>
<text class="s" font-size="17.5" x="3598.4" y="679.9">Key</text>
<text class="s" font-size="17.5" x="3597.6" y="818.1">Value</text>
<rect x="3610.4" y="590.3" width="24.1" height="60.2" fill="none" stroke="#F8CBAD" stroke-width="1" rx="2" stroke-dasharray="3.5 2"/>
<rect x="3610.4" y="700" width="24.1" height="61" fill="none" stroke="#B4C7E7" stroke-width="1" rx="2" stroke-dasharray="3.5 2"/>
<rect x="3610.4" y="832.2" width="24.1" height="60.7" fill="none" stroke="#F8CBAD" stroke-width="1" rx="2" stroke-dasharray="3.5 2"/>
<rect x="3602.4" y="584.3" width="24.1" height="60.2" fill="none" stroke="#F4B183" stroke-width="1" rx="2" stroke-dasharray="3.5 2"/>
<rect x="3602.4" y="694" width="24.1" height="61" fill="none" stroke="#8FAADC" stroke-width="1" rx="2" stroke-dasharray="3.5 2"/>
<rect x="3602.4" y="840.2" width="24.1" height="60.7" fill="none" stroke="#F4B183" stroke-width="1" rx="2" stroke-dasharray="3.5 2"/>
<rect x="3594.4" y="578.3" width="24.1" height="60.2" fill="#FBE5D6" stroke="#C55A11" stroke-width="1" rx="3" stroke-dasharray="4 2.5"/>
<ellipse cx="3606" cy="585.5" rx="6.4" ry="5.6" fill="#C55A11" stroke="#7A3A0C" stroke-width="0.9"/>
<ellipse cx="3606" cy="599.1" rx="6.4" ry="5.6" fill="#C55A11" stroke="#7A3A0C" stroke-width="0.9"/>
<ellipse cx="3606" cy="613.2" rx="6.4" ry="5.6" fill="#C55A11" stroke="#7A3A0C" stroke-width="0.9"/>
<ellipse cx="3606" cy="627.3" rx="6.4" ry="5.6" fill="#C55A11" stroke="#7A3A0C" stroke-width="0.9"/>
<rect x="3594.4" y="688" width="24.1" height="61" fill="#B4C7E7" stroke="#2F5597" stroke-width="1" rx="3" stroke-dasharray="4 2.5"/>
<ellipse cx="3606" cy="696" rx="6.4" ry="5.6" fill="#2F5597" stroke="#1F3864" stroke-width="0.9"/>
<ellipse cx="3606" cy="709.6" rx="6.4" ry="5.6" fill="#2F5597" stroke="#1F3864" stroke-width="0.9"/>
<ellipse cx="3606" cy="723.7" rx="6.4" ry="5.6" fill="#2F5597" stroke="#1F3864" stroke-width="0.9"/>
<ellipse cx="3606" cy="737.8" rx="6.4" ry="5.6" fill="#2F5597" stroke="#1F3864" stroke-width="0.9"/>
<rect x="3594.4" y="848.2" width="24.1" height="60.7" fill="#F4B183" stroke="#C55A11" stroke-width="1" rx="3" stroke-dasharray="4 2.5"/>
<ellipse cx="3606" cy="856.7" rx="6.4" ry="5.6" fill="#FF0000" stroke="#7A0000" stroke-width="0.9"/>
<ellipse cx="3606" cy="870.3" rx="6.4" ry="5.6" fill="#FF0000" stroke="#7A0000" stroke-width="0.9"/>
<ellipse cx="3606" cy="884.4" rx="6.4" ry="5.6" fill="#FF0000" stroke="#7A0000" stroke-width="0.9"/>
<ellipse cx="3606" cy="898.5" rx="6.4" ry="5.6" fill="#FF0000" stroke="#7A0000" stroke-width="0.9"/>
<line x1="3547.4" y1="607.6" x2="3589.4" y2="607.6" stroke="#C55A11" stroke-width="1.3"/>
<polygon points="3594.4,607.6 3589.4,609.7 3589.4,605.5" fill="#C55A11"/>
<line x1="3547.4" y1="615.2" x2="3589.4" y2="615.2" stroke="#F8CBAD" stroke-width="1.3"/>
<polygon points="3594.4,615.2 3589.4,617.3 3589.4,613.1" fill="#F8CBAD"/>
<line x1="3547.4" y1="797.2" x2="3591.8" y2="725.2" stroke="#4472C4" stroke-width="1.3"/>
<polygon points="3594.4,720.9 3593.6,726.3 3590,724.1" fill="#4472C4"/>
<line x1="3547.4" y1="797.2" x2="3597.1" y2="758.1" stroke="#8FAADC" stroke-width="1.2"/>
<polygon points="3601,755 3598.4,759.7 3595.8,756.4" fill="#8FAADC"/>
<line x1="3547.4" y1="797.2" x2="3604.1" y2="765.4" stroke="#B4C7E7" stroke-width="1.2"/>
<polygon points="3608.5,763 3605.2,767.3 3603.1,763.6" fill="#B4C7E7"/>
<line x1="3547.4" y1="797.2" x2="3591.8" y2="871.2" stroke="#FF0000" stroke-width="1.4"/>
<polygon points="3594.4,875.5 3590,872.3 3593.6,870.1" fill="#FF0000"/>
<line x1="3547.4" y1="797.2" x2="3592.7" y2="838.1" stroke="#FF0000" stroke-width="1.3"/>
<polygon points="3596.4,841.4 3591.3,839.6 3594.1,836.5" fill="#FF0000"/>
<line x1="3547.4" y1="797.2" x2="3602.2" y2="830" stroke="#F4B183" stroke-width="1.2"/>
<polygon points="3606.5,832.6 3601.1,831.8 3603.3,828.2" fill="#F4B183"/>
<rect x="3694.7" y="629.2" width="20.1" height="19.8" fill="#DCEBF7" stroke="#2F5597" stroke-width="0.8"/>
<line x1="3694.7" y1="649" x2="3714.8" y2="629.2" stroke="#2F5597" stroke-width="0.6"/>
<rect x="3714.8" y="629.2" width="20.1" height="19.8" fill="#DCEBF7" stroke="#2F5597" stroke-width="0.8"/>
<line x1="3714.8" y1="649" x2="3734.9" y2="629.2" stroke="#2F5597" stroke-width="0.6"/>
<rect x="3734.9" y="629.2" width="20.1" height="19.8" fill="#DCEBF7" stroke="#2F5597" stroke-width="0.8"/>
<line x1="3734.9" y1="649" x2="3755" y2="629.2" stroke="#2F5597" stroke-width="0.6"/>
<rect x="3694.7" y="649" width="20.1" height="19.8" fill="#DCEBF7" stroke="#2F5597" stroke-width="0.8"/>
<line x1="3694.7" y1="668.8" x2="3714.8" y2="649" stroke="#2F5597" stroke-width="0.6"/>
<rect x="3714.8" y="649" width="20.1" height="19.8" fill="#DCEBF7" stroke="#2F5597" stroke-width="0.8"/>
<line x1="3714.8" y1="668.8" x2="3734.9" y2="649" stroke="#2F5597" stroke-width="0.6"/>
<rect x="3734.9" y="649" width="20.1" height="19.8" fill="#DCEBF7" stroke="#2F5597" stroke-width="0.8"/>
<line x1="3734.9" y1="668.8" x2="3755" y2="649" stroke="#2F5597" stroke-width="0.6"/>
<rect x="3694.7" y="668.8" width="20.1" height="19.8" fill="#DCEBF7" stroke="#2F5597" stroke-width="0.8"/>
<line x1="3694.7" y1="688.7" x2="3714.8" y2="668.8" stroke="#2F5597" stroke-width="0.6"/>
<rect x="3714.8" y="668.8" width="20.1" height="19.8" fill="#DCEBF7" stroke="#2F5597" stroke-width="0.8"/>
<line x1="3714.8" y1="688.7" x2="3734.9" y2="668.8" stroke="#2F5597" stroke-width="0.6"/>
<rect x="3734.9" y="668.8" width="20.1" height="19.8" fill="#DCEBF7" stroke="#2F5597" stroke-width="0.8"/>
<line x1="3734.9" y1="688.7" x2="3755" y2="668.8" stroke="#2F5597" stroke-width="0.6"/>
<rect x="3694.7" y="688.7" width="20.1" height="19.8" fill="#DCEBF7" stroke="#2F5597" stroke-width="0.8"/>
<line x1="3694.7" y1="708.5" x2="3714.8" y2="688.7" stroke="#2F5597" stroke-width="0.6"/>
<rect x="3714.8" y="688.7" width="20.1" height="19.8" fill="#DCEBF7" stroke="#2F5597" stroke-width="0.8"/>
<line x1="3714.8" y1="708.5" x2="3734.9" y2="688.7" stroke="#2F5597" stroke-width="0.6"/>
<rect x="3734.9" y="688.7" width="20.1" height="19.8" fill="#DCEBF7" stroke="#2F5597" stroke-width="0.8"/>
<line x1="3734.9" y1="708.5" x2="3755" y2="688.7" stroke="#2F5597" stroke-width="0.6"/>
<rect x="3694.7" y="708.5" width="20.1" height="19.8" fill="#DCEBF7" stroke="#2F5597" stroke-width="0.8"/>
<line x1="3694.7" y1="728.3" x2="3714.8" y2="708.5" stroke="#2F5597" stroke-width="0.6"/>
<rect x="3714.8" y="708.5" width="20.1" height="19.8" fill="#DCEBF7" stroke="#2F5597" stroke-width="0.8"/>
<line x1="3714.8" y1="728.3" x2="3734.9" y2="708.5" stroke="#2F5597" stroke-width="0.6"/>
<rect x="3734.9" y="708.5" width="20.1" height="19.8" fill="#DCEBF7" stroke="#2F5597" stroke-width="0.8"/>
<line x1="3734.9" y1="728.3" x2="3755" y2="708.5" stroke="#2F5597" stroke-width="0.6"/>
<rect x="3694.7" y="728.3" width="20.1" height="19.8" fill="#DCEBF7" stroke="#2F5597" stroke-width="0.8"/>
<line x1="3694.7" y1="748.1" x2="3714.8" y2="728.3" stroke="#2F5597" stroke-width="0.6"/>
<rect x="3714.8" y="728.3" width="20.1" height="19.8" fill="#DCEBF7" stroke="#2F5597" stroke-width="0.8"/>
<line x1="3714.8" y1="748.1" x2="3734.9" y2="728.3" stroke="#2F5597" stroke-width="0.6"/>
<rect x="3734.9" y="728.3" width="20.1" height="19.8" fill="#DCEBF7" stroke="#2F5597" stroke-width="0.8"/>
<line x1="3734.9" y1="748.1" x2="3755" y2="728.3" stroke="#2F5597" stroke-width="0.6"/>
<rect x="3680.7" y="617.2" width="20.1" height="19.8" fill="#B4C7E7" stroke="#4472C4" stroke-width="0.8"/>
<polygon points="3681.5,618 3700,618 3681.5,636.2" fill="#F8CBAD"/>
<rect x="3700.8" y="617.2" width="20.1" height="19.8" fill="#B4C7E7" stroke="#4472C4" stroke-width="0.8"/>
<polygon points="3701.6,618 3720.1,618 3701.6,636.2" fill="#F8CBAD"/>
<rect x="3720.9" y="617.2" width="20.1" height="19.8" fill="#B4C7E7" stroke="#4472C4" stroke-width="0.8"/>
<polygon points="3721.7,618 3740.2,618 3721.7,636.2" fill="#F8CBAD"/>
<rect x="3680.7" y="637" width="20.1" height="19.8" fill="#B4C7E7" stroke="#4472C4" stroke-width="0.8"/>
<polygon points="3681.5,637.8 3700,637.8 3681.5,656" fill="#F8CBAD"/>
<rect x="3700.8" y="637" width="20.1" height="19.8" fill="#B4C7E7" stroke="#4472C4" stroke-width="0.8"/>
<polygon points="3701.6,637.8 3720.1,637.8 3701.6,656" fill="#F8CBAD"/>
<rect x="3720.9" y="637" width="20.1" height="19.8" fill="#B4C7E7" stroke="#4472C4" stroke-width="0.8"/>
<polygon points="3721.7,637.8 3740.2,637.8 3721.7,656" fill="#F8CBAD"/>
<rect x="3680.7" y="656.8" width="20.1" height="19.8" fill="#B4C7E7" stroke="#4472C4" stroke-width="0.8"/>
<polygon points="3681.5,657.6 3700,657.6 3681.5,675.9" fill="#F8CBAD"/>
<rect x="3700.8" y="656.8" width="20.1" height="19.8" fill="#B4C7E7" stroke="#4472C4" stroke-width="0.8"/>
<polygon points="3701.6,657.6 3720.1,657.6 3701.6,675.9" fill="#F8CBAD"/>
<rect x="3720.9" y="656.8" width="20.1" height="19.8" fill="#B4C7E7" stroke="#4472C4" stroke-width="0.8"/>
<polygon points="3721.7,657.6 3740.2,657.6 3721.7,675.9" fill="#F8CBAD"/>
<rect x="3680.7" y="676.7" width="20.1" height="19.8" fill="#B4C7E7" stroke="#4472C4" stroke-width="0.8"/>
<polygon points="3681.5,677.5 3700,677.5 3681.5,695.7" fill="#F8CBAD"/>
<rect x="3700.8" y="676.7" width="20.1" height="19.8" fill="#B4C7E7" stroke="#4472C4" stroke-width="0.8"/>
<polygon points="3701.6,677.5 3720.1,677.5 3701.6,695.7" fill="#F8CBAD"/>
<rect x="3720.9" y="676.7" width="20.1" height="19.8" fill="#B4C7E7" stroke="#4472C4" stroke-width="0.8"/>
<polygon points="3721.7,677.5 3740.2,677.5 3721.7,695.7" fill="#F8CBAD"/>
<rect x="3680.7" y="696.5" width="20.1" height="19.8" fill="#B4C7E7" stroke="#4472C4" stroke-width="0.8"/>
<polygon points="3681.5,697.3 3700,697.3 3681.5,715.5" fill="#F8CBAD"/>
<rect x="3700.8" y="696.5" width="20.1" height="19.8" fill="#B4C7E7" stroke="#4472C4" stroke-width="0.8"/>
<polygon points="3701.6,697.3 3720.1,697.3 3701.6,715.5" fill="#F8CBAD"/>
<rect x="3720.9" y="696.5" width="20.1" height="19.8" fill="#B4C7E7" stroke="#4472C4" stroke-width="0.8"/>
<polygon points="3721.7,697.3 3740.2,697.3 3721.7,715.5" fill="#F8CBAD"/>
<rect x="3680.7" y="716.3" width="20.1" height="19.8" fill="#B4C7E7" stroke="#4472C4" stroke-width="0.8"/>
<polygon points="3681.5,717.1 3700,717.1 3681.5,735.3" fill="#F8CBAD"/>
<rect x="3700.8" y="716.3" width="20.1" height="19.8" fill="#B4C7E7" stroke="#4472C4" stroke-width="0.8"/>
<polygon points="3701.6,717.1 3720.1,717.1 3701.6,735.3" fill="#F8CBAD"/>
<rect x="3720.9" y="716.3" width="20.1" height="19.8" fill="#B4C7E7" stroke="#4472C4" stroke-width="0.8"/>
<polygon points="3721.7,717.1 3740.2,717.1 3721.7,735.3" fill="#F8CBAD"/>
<rect x="3666.7" y="605.2" width="20.1" height="19.8" fill="#2E75B6" stroke="#1F4E9E" stroke-width="0.8"/>
<polygon points="3667.5,606 3686,606 3667.5,624.2" fill="#F4B183"/>
<rect x="3686.8" y="605.2" width="20.1" height="19.8" fill="#2E75B6" stroke="#1F4E9E" stroke-width="0.8"/>
<polygon points="3687.6,606 3706.1,606 3687.6,624.2" fill="#F4B183"/>
<rect x="3706.9" y="605.2" width="20.1" height="19.8" fill="#2E75B6" stroke="#1F4E9E" stroke-width="0.8"/>
<polygon points="3707.7,606 3726.2,606 3707.7,624.2" fill="#F4B183"/>
<rect x="3666.7" y="625" width="20.1" height="19.8" fill="#2E75B6" stroke="#1F4E9E" stroke-width="0.8"/>
<polygon points="3667.5,625.8 3686,625.8 3667.5,644" fill="#F4B183"/>
<rect x="3686.8" y="625" width="20.1" height="19.8" fill="#2E75B6" stroke="#1F4E9E" stroke-width="0.8"/>
<polygon points="3687.6,625.8 3706.1,625.8 3687.6,644" fill="#F4B183"/>
<rect x="3706.9" y="625" width="20.1" height="19.8" fill="#2E75B6" stroke="#1F4E9E" stroke-width="0.8"/>
<polygon points="3707.7,625.8 3726.2,625.8 3707.7,644" fill="#F4B183"/>
<rect x="3666.7" y="644.8" width="20.1" height="19.8" fill="#2E75B6" stroke="#1F4E9E" stroke-width="0.8"/>
<polygon points="3667.5,645.6 3686,645.6 3667.5,663.9" fill="#F4B183"/>
<rect x="3686.8" y="644.8" width="20.1" height="19.8" fill="#2E75B6" stroke="#1F4E9E" stroke-width="0.8"/>
<polygon points="3687.6,645.6 3706.1,645.6 3687.6,663.9" fill="#F4B183"/>
<rect x="3706.9" y="644.8" width="20.1" height="19.8" fill="#2E75B6" stroke="#1F4E9E" stroke-width="0.8"/>
<polygon points="3707.7,645.6 3726.2,645.6 3707.7,663.9" fill="#F4B183"/>
<rect x="3666.7" y="664.7" width="20.1" height="19.8" fill="#2E75B6" stroke="#1F4E9E" stroke-width="0.8"/>
<polygon points="3667.5,665.5 3686,665.5 3667.5,683.7" fill="#F4B183"/>
<rect x="3686.8" y="664.7" width="20.1" height="19.8" fill="#2E75B6" stroke="#1F4E9E" stroke-width="0.8"/>
<polygon points="3687.6,665.5 3706.1,665.5 3687.6,683.7" fill="#F4B183"/>
<rect x="3706.9" y="664.7" width="20.1" height="19.8" fill="#2E75B6" stroke="#1F4E9E" stroke-width="0.8"/>
<polygon points="3707.7,665.5 3726.2,665.5 3707.7,683.7" fill="#F4B183"/>
<rect x="3666.7" y="684.5" width="20.1" height="19.8" fill="#2E75B6" stroke="#1F4E9E" stroke-width="0.8"/>
<polygon points="3667.5,685.3 3686,685.3 3667.5,703.5" fill="#F4B183"/>
<rect x="3686.8" y="684.5" width="20.1" height="19.8" fill="#2E75B6" stroke="#1F4E9E" stroke-width="0.8"/>
<polygon points="3687.6,685.3 3706.1,685.3 3687.6,703.5" fill="#F4B183"/>
<rect x="3706.9" y="684.5" width="20.1" height="19.8" fill="#2E75B6" stroke="#1F4E9E" stroke-width="0.8"/>
<polygon points="3707.7,685.3 3726.2,685.3 3707.7,703.5" fill="#F4B183"/>
<rect x="3666.7" y="704.3" width="20.1" height="19.8" fill="#2E75B6" stroke="#1F4E9E" stroke-width="0.8"/>
<polygon points="3667.5,705.1 3686,705.1 3667.5,723.3" fill="#F4B183"/>
<rect x="3686.8" y="704.3" width="20.1" height="19.8" fill="#2E75B6" stroke="#1F4E9E" stroke-width="0.8"/>
<polygon points="3687.6,705.1 3706.1,705.1 3687.6,723.3" fill="#F4B183"/>
<rect x="3706.9" y="704.3" width="20.1" height="19.8" fill="#2E75B6" stroke="#1F4E9E" stroke-width="0.8"/>
<polygon points="3707.7,705.1 3726.2,705.1 3707.7,723.3" fill="#F4B183"/>
<line x1="3618.5" y1="608.4" x2="3663.4" y2="658.9" stroke="#C55A11" stroke-width="1.4"/>
<polygon points="3666.7,662.6 3661.8,660.3 3664.9,657.5" fill="#C55A11"/>
<line x1="3618.5" y1="716.9" x2="3663.3" y2="669.1" stroke="#2F5597" stroke-width="1.4"/>
<polygon points="3666.7,665.4 3664.8,670.5 3661.8,667.6" fill="#2F5597"/>
<rect x="3787.1" y="782.8" width="24.2" height="59.5" fill="none" stroke="#BFBFBF" stroke-width="1" rx="2" stroke-dasharray="3.5 2"/>
<rect x="3775.1" y="771.3" width="24.2" height="59.5" fill="none" stroke="#A6A6A6" stroke-width="1" rx="2" stroke-dasharray="3.5 2"/>
<path d="M3722.2 748 V805.2" fill="none" stroke="#B4C7E7" stroke-width="1.4"/>
<path d="M3709.7 736 V794" fill="none" stroke="#B4C7E7" stroke-width="1.6"/>
<path d="M3696.9 724.1 V781.9" fill="none" stroke="#2F5597" stroke-width="1.6"/>
<path d="M3632.6 861.5 H3722.2 V805.2 H3757" fill="none" stroke="#F8CBAD" stroke-width="1.5"/>
<path d="M3624.5 870.3 H3709.7 V794 H3757" fill="none" stroke="#F4B183" stroke-width="1.6"/>
<path d="M3618.5 878.8 H3696.9 V781.9" fill="none" stroke="#FF0000" stroke-width="1.8"/>
<line x1="3696.9" y1="781.9" x2="3758" y2="781.9" stroke="#000" stroke-width="1.6"/>
<polygon points="3763,781.9 3758,784 3758,779.8" fill="#000"/>
<line x1="3750" y1="794" x2="3758" y2="794" stroke="#A6A6A6" stroke-width="1.4"/>
<polygon points="3763,794 3758,796.1 3758,791.9" fill="#A6A6A6"/>
<line x1="3750" y1="805.2" x2="3758" y2="805.2" stroke="#BFBFBF" stroke-width="1.4"/>
<polygon points="3763,805.2 3758,807.3 3758,803.1" fill="#BFBFBF"/>
<rect x="3763.1" y="759.8" width="24.2" height="59.5" fill="#BFBFBF" stroke="#333" stroke-width="1" rx="3" stroke-dasharray="4 2.5"/>
<ellipse cx="3775.2" cy="767.9" rx="6.6" ry="5.6" fill="#000" stroke="#000" stroke-width="0.9"/>
<ellipse cx="3775.2" cy="781.1" rx="6.6" ry="5.6" fill="#000" stroke="#000" stroke-width="0.9"/>
<ellipse cx="3775.2" cy="795.2" rx="6.6" ry="5.6" fill="#000" stroke="#000" stroke-width="0.9"/>
<ellipse cx="3775.2" cy="809.3" rx="6.6" ry="5.6" fill="#000" stroke="#000" stroke-width="0.9"/>
<text class="s b" font-size="21" x="3737" y="867.5">(T, V)</text>
<text class="s b" font-size="21" x="3737" y="890.8">Attentive</text>
<text class="s b" font-size="21" x="3737" y="913.7">Fusion</text>
<text class="s b" font-size="20" x="3825.4" y="709.6">Bimodal</text>
<text class="s b" font-size="20" x="3825.4" y="732.9">Features</text>
<text class="s b" font-size="20" x="3901.7" y="824.1">Trimodal</text>
<text class="s b" font-size="20" x="3901.7" y="846.2">Features</text>
<rect x="3584.4" y="934.6" width="234.2" height="60.7" fill="#CCECFF" stroke="#000" stroke-width="2" rx="8"/>
<rect x="3583.2" y="1030.2" width="234.2" height="61.1" fill="#CCECFF" stroke="#000" stroke-width="2" rx="8"/>
<text class="s b" font-size="20.2" text-anchor="middle" x="3700.9" y="947.9">(T, A)</text>
<text class="s b" font-size="20.2" text-anchor="middle" x="3700.9" y="970.8">Multi-Head Attentive</text>
<text class="s b" font-size="20.2" text-anchor="middle" x="3700.9" y="994">Fusion</text>
<text class="s b" font-size="20.2" text-anchor="middle" x="3699.6" y="1044.3">(V, A)</text>
<text class="s b" font-size="20.2" text-anchor="middle" x="3699.6" y="1067.2">Multi-Head Attentive</text>
<text class="s b" font-size="20.2" text-anchor="middle" x="3699.6" y="1090.5">Fusion</text>
<rect x="3843.5" y="747" width="32.1" height="103.2" fill="none" stroke="#1F3864" stroke-width="1" rx="3" stroke-dasharray="4 2.5"/>
<ellipse cx="3858.8" cy="755.8" rx="8.6" ry="6.7" fill="#000" stroke="#333" stroke-width="0.9"/>
<ellipse cx="3858.8" cy="771.9" rx="8.6" ry="6.7" fill="#000" stroke="#333" stroke-width="0.9"/>
<ellipse cx="3858.8" cy="788.4" rx="8.6" ry="6.7" fill="#7F7F7F" stroke="#333" stroke-width="0.9"/>
<ellipse cx="3858.8" cy="805.2" rx="8.6" ry="6.7" fill="#7F7F7F" stroke="#333" stroke-width="0.9"/>
<ellipse cx="3858.8" cy="822.1" rx="8.6" ry="6.7" fill="#D9D9D9" stroke="#333" stroke-width="0.9"/>
<ellipse cx="3858.8" cy="838.2" rx="8.6" ry="6.7" fill="#D9D9D9" stroke="#333" stroke-width="0.9"/>
<rect x="3843.5" y="891.6" width="32.1" height="102.5" fill="none" stroke="#1F3864" stroke-width="1" rx="3" stroke-dasharray="4 2.5"/>
<ellipse cx="3858.8" cy="900.5" rx="8.6" ry="6.7" fill="#000" stroke="#333" stroke-width="0.9"/>
<ellipse cx="3858.8" cy="916.5" rx="8.6" ry="6.7" fill="#000" stroke="#333" stroke-width="0.9"/>
<ellipse cx="3858.8" cy="933" rx="8.6" ry="6.7" fill="#7F7F7F" stroke="#333" stroke-width="0.9"/>
<ellipse cx="3858.8" cy="949.9" rx="8.6" ry="6.7" fill="#7F7F7F" stroke="#333" stroke-width="0.9"/>
<ellipse cx="3858.8" cy="966.7" rx="8.6" ry="6.7" fill="#D9D9D9" stroke="#333" stroke-width="0.9"/>
<ellipse cx="3858.8" cy="982.8" rx="8.6" ry="6.7" fill="#D9D9D9" stroke="#333" stroke-width="0.9"/>
<rect x="3843.5" y="1033" width="32.1" height="102.5" fill="none" stroke="#1F3864" stroke-width="1" rx="3" stroke-dasharray="4 2.5"/>
<ellipse cx="3858.8" cy="1041.5" rx="8.6" ry="6.7" fill="#000" stroke="#333" stroke-width="0.9"/>
<ellipse cx="3858.8" cy="1057.5" rx="8.6" ry="6.7" fill="#000" stroke="#333" stroke-width="0.9"/>
<ellipse cx="3858.8" cy="1074.4" rx="8.6" ry="6.7" fill="#7F7F7F" stroke="#333" stroke-width="0.9"/>
<ellipse cx="3858.8" cy="1090.9" rx="8.6" ry="6.7" fill="#7F7F7F" stroke="#333" stroke-width="0.9"/>
<ellipse cx="3858.8" cy="1107.8" rx="8.6" ry="6.7" fill="#D9D9D9" stroke="#333" stroke-width="0.9"/>
<ellipse cx="3858.8" cy="1123.8" rx="8.6" ry="6.7" fill="#D9D9D9" stroke="#333" stroke-width="0.9"/>
<line x1="3787.3" y1="790" x2="3838.5" y2="790" stroke="#000" stroke-width="1.4"/>
<polygon points="3843.5,790 3838.5,792.1 3838.5,787.9" fill="#000"/>
<line x1="3799" y1="801" x2="3838.5" y2="801" stroke="#A6A6A6" stroke-width="1.3"/>
<polygon points="3843.5,801 3838.5,803.1 3838.5,798.9" fill="#A6A6A6"/>
<line x1="3811" y1="813" x2="3838.5" y2="813" stroke="#BFBFBF" stroke-width="1.3"/>
<polygon points="3843.5,813 3838.5,815.1 3838.5,810.9" fill="#BFBFBF"/>
<line x1="3818.6" y1="965.1" x2="3838.5" y2="965.1" stroke="#000" stroke-width="1.5"/>
<polygon points="3843.5,965.1 3838.5,967.2 3838.5,963" fill="#000"/>
<line x1="3817.4" y1="1061.2" x2="3838.5" y2="1061.2" stroke="#000" stroke-width="1.5"/>
<polygon points="3843.5,1061.2 3838.5,1063.3 3838.5,1059.1" fill="#000"/>
<line x1="3875.6" y1="797.2" x2="3921" y2="941" stroke="#000" stroke-width="2"/>
<line x1="3875.6" y1="942.6" x2="3918.8" y2="942.6" stroke="#000" stroke-width="2"/>
<polygon points="3923.8,942.6 3918.8,944.7 3918.8,940.5" fill="#000"/>
<line x1="3875.6" y1="1082.4" x2="3921" y2="945" stroke="#000" stroke-width="2"/>
<rect x="3923.6" y="890.7" width="32.2" height="104.8" fill="none" stroke="#1F3864" stroke-width="1" rx="3" stroke-dasharray="4 2.5"/>
<ellipse cx="3939.4" cy="901" rx="8.8" ry="6.7" fill="#0033CC" stroke="#0033CC" stroke-width="0.9"/>
<ellipse cx="3939.4" cy="917.1" rx="8.8" ry="6.7" fill="#0033CC" stroke="#0033CC" stroke-width="0.9"/>
<ellipse cx="3939.4" cy="933.9" rx="8.8" ry="6.7" fill="#0033CC" stroke="#0033CC" stroke-width="0.9"/>
<ellipse cx="3939.4" cy="950" rx="8.8" ry="6.7" fill="#0033CC" stroke="#0033CC" stroke-width="0.9"/>
<ellipse cx="3939.4" cy="966.4" rx="8.8" ry="6.7" fill="#0033CC" stroke="#0033CC" stroke-width="0.9"/>
<ellipse cx="3939.4" cy="983.2" rx="8.8" ry="6.7" fill="#0033CC" stroke="#0033CC" stroke-width="0.9"/>
<line x1="3955.8" y1="943" x2="3990.6" y2="943" stroke="#000" stroke-width="2"/>
<line x1="3990.6" y1="760.6" x2="3990.6" y2="1124.4" stroke="#000" stroke-width="2.2"/>
<line x1="3990.6" y1="761.6" x2="4004" y2="761.6" stroke="#000" stroke-width="2"/>
<polygon points="4009,761.6 4004,763.7 4004,759.5" fill="#000"/>
<rect x="4009.5" y="742.5" width="86" height="38.2" fill="#FFE699" stroke="#8FAADC" stroke-width="1" rx="5"/>
<text class="s" font-size="19.7" text-anchor="middle" x="4052.5" y="768.1">Dense</text>
<line x1="4095.5" y1="761.6" x2="4123.4" y2="761.6" stroke="#000" stroke-width="2"/>
<polygon points="4129.4,761.6 4123.4,764.1 4123.4,759.1" fill="#000"/>
<rect x="4129.4" y="742.5" width="85.1" height="38.2" fill="#FF7C80" stroke="#6F8FC8" stroke-width="1" rx="5"/>
<text class="s" font-size="19.7" text-anchor="middle" x="4172" y="768.1">Sen.</text>
<line x1="3990.6" y1="834.1" x2="4004" y2="834.1" stroke="#000" stroke-width="2"/>
<polygon points="4009,834.1 4004,836.2 4004,832" fill="#000"/>
<rect x="4009.5" y="815" width="86" height="38.2" fill="#FFE699" stroke="#8FAADC" stroke-width="1" rx="5"/>
<text class="s" font-size="19.7" text-anchor="middle" x="4052.5" y="840.3">Dense</text>
<line x1="4095.5" y1="834.1" x2="4123.4" y2="834.1" stroke="#000" stroke-width="2"/>
<polygon points="4129.4,834.1 4123.4,836.6 4123.4,831.6" fill="#000"/>
<rect x="4129.4" y="815" width="85.1" height="38.2" fill="#3399FF" stroke="#6F8FC8" stroke-width="1" rx="5"/>
<text class="s" font-size="19.7" text-anchor="middle" x="4172" y="840.3">Emo.</text>
<line x1="3990.6" y1="906.1" x2="4004" y2="906.1" stroke="#000" stroke-width="2"/>
<polygon points="4009,906.1 4004,908.2 4004,904" fill="#000"/>
<rect x="4009.5" y="886.9" width="86" height="38.5" fill="#FFE699" stroke="#8FAADC" stroke-width="1" rx="5"/>
<text class="s" font-size="19.7" text-anchor="middle" x="4052.5" y="912.7">Dense</text>
<line x1="4095.5" y1="906.1" x2="4123.4" y2="906.1" stroke="#000" stroke-width="2"/>
<polygon points="4129.4,906.1 4123.4,908.7 4123.4,903.6" fill="#000"/>
<rect x="4129.4" y="886.9" width="85.1" height="38.5" fill="#CC00FF" stroke="#6F8FC8" stroke-width="1" rx="5"/>
<text class="s" font-size="19.7" text-anchor="middle" x="4172" y="912.7">Sar.</text>
<line x1="3990.6" y1="979.1" x2="4004" y2="979.1" stroke="#000" stroke-width="2"/>
<polygon points="4009,979.1 4004,981.2 4004,977" fill="#000"/>
<rect x="4009.5" y="959.7" width="86" height="38.7" fill="#FFE699" stroke="#8FAADC" stroke-width="1" rx="5"/>
<text class="s" font-size="19.7" text-anchor="middle" x="4052.5" y="985.2">Dense</text>
<line x1="4095.5" y1="979.1" x2="4123.4" y2="979.1" stroke="#000" stroke-width="2"/>
<polygon points="4129.4,979.1 4123.4,981.6 4123.4,976.5" fill="#000"/>
<rect x="4129.4" y="959.7" width="85.1" height="38.7" fill="#A9D18E" stroke="#6F8FC8" stroke-width="1" rx="5"/>
<text class="s" font-size="19.7" text-anchor="middle" x="4172" y="985.2">Hum.</text>
<line x1="3990.6" y1="1051.2" x2="4004" y2="1051.2" stroke="#000" stroke-width="2"/>
<polygon points="4009,1051.2 4004,1053.3 4004,1049.2" fill="#000"/>
<rect x="4009.5" y="1032.2" width="86" height="38.1" fill="#FFE699" stroke="#8FAADC" stroke-width="1" rx="5"/>
<text class="s" font-size="19.7" text-anchor="middle" x="4052.5" y="1057.4">Dense</text>
<line x1="4095.5" y1="1051.2" x2="4123.4" y2="1051.2" stroke="#000" stroke-width="2"/>
<polygon points="4129.4,1051.2 4123.4,1053.8 4123.4,1048.7" fill="#000"/>
<rect x="4129.4" y="1032.2" width="85.1" height="38.1" fill="#F4B183" stroke="#6F8FC8" stroke-width="1" rx="5"/>
<text class="s" font-size="19.7" text-anchor="middle" x="4172" y="1057.4">Pride</text>
<line x1="3990.6" y1="1123.5" x2="4004" y2="1123.5" stroke="#000" stroke-width="2"/>
<polygon points="4009,1123.5 4004,1125.5 4004,1121.4" fill="#000"/>
<rect x="4009.5" y="1104.4" width="86" height="38.1" fill="#FFE699" stroke="#8FAADC" stroke-width="1" rx="5"/>
<text class="s" font-size="19.7" text-anchor="middle" x="4052.5" y="1129.9">Dense</text>
<line x1="4095.5" y1="1123.5" x2="4123.4" y2="1123.5" stroke="#000" stroke-width="2"/>
<polygon points="4129.4,1123.5 4123.4,1126 4123.4,1120.9" fill="#000"/>
<rect x="4129.4" y="1104.4" width="85.1" height="38.1" fill="#AEAAAA" stroke="#6F8FC8" stroke-width="1" rx="5"/>
<text class="s" font-size="19.7" text-anchor="middle" x="4172" y="1129.9">Love</text>
<line x1="4171.4" y1="780.7" x2="4171.4" y2="809" stroke="#000" stroke-width="2"/>
<polygon points="4171.4,815 4168.9,809 4173.9,809" fill="#000"/>
<line x1="4171.4" y1="925.4" x2="4171.4" y2="953.7" stroke="#000" stroke-width="2"/>
<polygon points="4171.4,959.7 4168.9,953.7 4173.9,953.7" fill="#000"/>
<line x1="2957.3" y1="1414.7" x2="4224.8" y2="1414.7" stroke="#000" stroke-width="2"/>
<line x1="3433.4" y1="1441.8" x2="4224.8" y2="1441.8" stroke="#000" stroke-width="0.9"/>
<line x1="2957.3" y1="1461.7" x2="4224.8" y2="1461.7" stroke="#000" stroke-width="0.9"/>
<line x1="2957.3" y1="1539.4" x2="4224.8" y2="1539.4" stroke="#000" stroke-width="0.9"/>
<line x1="2957.3" y1="1578.6" x2="4224.8" y2="1578.6" stroke="#000" stroke-width="0.9"/>
<line x1="2957.3" y1="1598.5" x2="4224.8" y2="1598.5" stroke="#000" stroke-width="0.9"/>
<line x1="2957.3" y1="1716" x2="4224.8" y2="1716" stroke="#000" stroke-width="0.9"/>
<line x1="2957.3" y1="1755.2" x2="4224.8" y2="1755.2" stroke="#000" stroke-width="0.9"/>
<line x1="2957.3" y1="1813" x2="4224.8" y2="1813" stroke="#000" stroke-width="0.9"/>
<line x1="2957.3" y1="1890.2" x2="4224.8" y2="1890.2" stroke="#000" stroke-width="0.9"/>
<line x1="3158" y1="1638.3" x2="4224.8" y2="1638.3" stroke="#000" stroke-width="0.9"/>
<line x1="3158" y1="1677.5" x2="4224.8" y2="1677.5" stroke="#000" stroke-width="0.9"/>
<line x1="2957.3" y1="1916.2" x2="4224.8" y2="1916.2" stroke="#000" stroke-width="2"/>
<text class="s b" font-size="17.4" text-anchor="middle" x="3056.7" y="1445.8">Model</text>
<text class="s b" font-size="17.4" text-anchor="middle" x="3200.2" y="1445.8">Text</text>
<text class="s b" font-size="17.4" text-anchor="middle" x="3297.8" y="1445.8">Video</text>
<text class="s b" font-size="17.4" text-anchor="middle" x="3392.4" y="1445.8">Audio</text>
<text class="s b" font-size="17.4" text-anchor="middle" x="3530.5" y="1436.2">Sentiment</text>
<text class="s b" font-size="17.4" text-anchor="middle" x="3727.6" y="1436.2">Emotion</text>
<text class="s b" font-size="17.4" text-anchor="middle" x="3925.9" y="1436.2">Sarcasm</text>
<text class="s b" font-size="17.4" text-anchor="middle" x="4124.2" y="1436.2">Humor</text>
<text class="s" font-size="16" text-anchor="middle" x="3463.6" y="1454.5">P</text>
<text class="s" font-size="16" text-anchor="middle" x="3525.6" y="1454.5">R</text>
<text class="s" font-size="16" text-anchor="middle" x="3593.1" y="1454.5">M<tspan font-size="10" dy="3">a</tspan><tspan dy="-3">-F1</tspan></text>
<text class="s" font-size="16" text-anchor="middle" x="3660.7" y="1454.5">P</text>
<text class="s" font-size="16" text-anchor="middle" x="3723.3" y="1454.5">R</text>
<text class="s" font-size="16" text-anchor="middle" x="3790.8" y="1454.5">M<tspan font-size="10" dy="3">a</tspan><tspan dy="-3">-F1</tspan></text>
<text class="s" font-size="16" text-anchor="middle" x="3858.3" y="1454.5">P</text>
<text class="s" font-size="16" text-anchor="middle" x="3921" y="1454.5">R</text>
<text class="s" font-size="16" text-anchor="middle" x="3988.5" y="1454.5">M<tspan font-size="10" dy="3">a</tspan><tspan dy="-3">-F1</tspan></text>
<text class="s" font-size="16" text-anchor="middle" x="4056" y="1454.5">P</text>
<text class="s" font-size="16" text-anchor="middle" x="4119.3" y="1454.5">R</text>
<text class="s" font-size="16" text-anchor="middle" x="4188" y="1454.5">M<tspan font-size="10" dy="3">a</tspan><tspan dy="-3">-F1</tspan></text>
<text class="s" font-size="17.4" text-anchor="middle" x="3200.2" y="1475.4">BiLSTM</text>
<text class="s" font-size="17.4" text-anchor="middle" x="3297.8" y="1475.4">-</text>
<text class="s" font-size="17.4" text-anchor="middle" x="3392.4" y="1475.4">-</text>
<text class="s" font-size="17.4" text-anchor="middle" x="3463.6" y="1475.4">50.36</text>
<text class="s" font-size="17.4" text-anchor="middle" x="3525.6" y="1475.4">51.22</text>
<text class="s" font-size="17.4" text-anchor="middle" x="3593.1" y="1475.4">50.74</text>
<text class="s" font-size="17.4" text-anchor="middle" x="3660.7" y="1475.4">41.52</text>
<text class="s" font-size="17.4" text-anchor="middle" x="3723.3" y="1475.4">62.12</text>
<text class="s" font-size="17.4" text-anchor="middle" x="3790.8" y="1475.4">44.74</text>
<text class="s" font-size="17.4" text-anchor="middle" x="3858.3" y="1475.4">56.43</text>
<text class="s" font-size="17.4" text-anchor="middle" x="3921" y="1475.4">50.64</text>
<text class="s" font-size="17.4" text-anchor="middle" x="3988.5" y="1475.4">52.29</text>
<text class="s" font-size="17.4" text-anchor="middle" x="4056" y="1475.4">43.69</text>
<text class="s" font-size="17.4" text-anchor="middle" x="4119.3" y="1475.4">55.9</text>
<text class="s" font-size="17.4" text-anchor="middle" x="4188" y="1475.4">49.05</text>
<text class="s" font-size="17.4" text-anchor="middle" x="3200.2" y="1495.2">BERT</text>
<text class="s" font-size="17.4" text-anchor="middle" x="3297.8" y="1495.2">-</text>
<text class="s" font-size="17.4" text-anchor="middle" x="3392.4" y="1495.2">-</text>
<text class="s" font-size="17.4" text-anchor="middle" x="3463.6" y="1495.2">56.77</text>
<text class="s" font-size="17.4" text-anchor="middle" x="3525.6" y="1495.2">55.51</text>
<text class="s" font-size="17.4" text-anchor="middle" x="3593.1" y="1495.2">54.89</text>
<text class="s" font-size="17.4" text-anchor="middle" x="3660.7" y="1495.2">51.85</text>
<text class="s" font-size="17.4" text-anchor="middle" x="3723.3" y="1495.2">70.87</text>
<text class="s" font-size="17.4" text-anchor="middle" x="3790.8" y="1495.2">56.18</text>
<text class="s" font-size="17.4" text-anchor="middle" x="3858.3" y="1495.2">54.56</text>
<text class="s" font-size="17.4" text-anchor="middle" x="3921" y="1495.2">53.88</text>
<text class="s" font-size="17.4" text-anchor="middle" x="3988.5" y="1495.2">53.61</text>
<text class="s" font-size="17.4" text-anchor="middle" x="4056" y="1495.2">51.5</text>
<text class="s" font-size="17.4" text-anchor="middle" x="4119.3" y="1495.2">56.94</text>
<text class="s" font-size="17.4" text-anchor="middle" x="4188" y="1495.2">54.08</text>
<text class="s" font-size="17.4" text-anchor="middle" x="3200.2" y="1514.5">GPT-2</text>
<text class="s" font-size="17.4" text-anchor="middle" x="3297.8" y="1514.5">-</text>
<text class="s" font-size="17.4" text-anchor="middle" x="3392.4" y="1514.5">-</text>
<text class="s" font-size="17.4" text-anchor="middle" x="3463.6" y="1514.5">53.88</text>
<text class="s" font-size="17.4" text-anchor="middle" x="3525.6" y="1514.5">58.01</text>
<text class="s" font-size="17.4" text-anchor="middle" x="3593.1" y="1514.5">54.35</text>
<text class="s" font-size="17.4" text-anchor="middle" x="3660.7" y="1514.5">45.33</text>
<text class="s" font-size="17.4" text-anchor="middle" x="3723.3" y="1514.5">44.37</text>
<text class="s" font-size="17.4" text-anchor="middle" x="3790.8" y="1514.5">45.21</text>
<text class="s" font-size="17.4" text-anchor="middle" x="3858.3" y="1514.5">51.41</text>
<text class="s" font-size="17.4" text-anchor="middle" x="3921" y="1514.5">53.48</text>
<text class="s" font-size="17.4" text-anchor="middle" x="3988.5" y="1514.5">52.42</text>
<text class="s" font-size="17.4" text-anchor="middle" x="4056" y="1514.5">44.81</text>
<text class="s" font-size="17.4" text-anchor="middle" x="4119.3" y="1514.5">64.39</text>
<text class="s" font-size="17.4" text-anchor="middle" x="4188" y="1514.5">52.85</text>
<text class="s" font-size="17.4" text-anchor="middle" x="3200.2" y="1533.8">GPT-3</text>
<text class="s" font-size="17.4" text-anchor="middle" x="3297.8" y="1533.8">-</text>
<text class="s" font-size="17.4" text-anchor="middle" x="3392.4" y="1533.8">-</text>
<text class="s" font-size="17.4" text-anchor="middle" x="3463.6" y="1533.8">54.66</text>
<text class="s" font-size="17.4" text-anchor="middle" x="3525.6" y="1533.8">54.21</text>
<text class="s" font-size="17.4" text-anchor="middle" x="3593.1" y="1533.8">54.43</text>
<text class="s" font-size="17.4" text-anchor="middle" x="3660.7" y="1533.8">48.72</text>
<text class="s" font-size="17.4" text-anchor="middle" x="3723.3" y="1533.8">47.65</text>
<text class="s" font-size="17.4" text-anchor="middle" x="3790.8" y="1533.8">48.18</text>
<text class="s" font-size="17.4" text-anchor="middle" x="3858.3" y="1533.8">53.27</text>
<text class="s" font-size="17.4" text-anchor="middle" x="3921" y="1533.8">54.87</text>
<text class="s" font-size="17.4" text-anchor="middle" x="3988.5" y="1533.8">54.06</text>
<text class="s" font-size="17.4" text-anchor="middle" x="4056" y="1533.8">49.84</text>
<text class="s" font-size="17.4" text-anchor="middle" x="4119.3" y="1533.8">47.21</text>
<text class="s" font-size="17.4" text-anchor="middle" x="4188" y="1533.8">48.49</text>
<text class="s" font-size="17.4" text-anchor="middle" x="3200.2" y="1553.7">-</text>
<text class="s" font-size="17.4" text-anchor="middle" x="3297.8" y="1553.7">EfficientNet</text>
<text class="s" font-size="17.4" text-anchor="middle" x="3392.4" y="1553.7">-</text>
<text class="s" font-size="17.4" text-anchor="middle" x="3463.6" y="1553.7">42.86</text>
<text class="s" font-size="17.4" text-anchor="middle" x="3525.6" y="1553.7">45.12</text>
<text class="s" font-size="17.4" text-anchor="middle" x="3593.1" y="1553.7">42.84</text>
<text class="s" font-size="17.4" text-anchor="middle" x="3660.7" y="1553.7">38.08</text>
<text class="s" font-size="17.4" text-anchor="middle" x="3723.3" y="1553.7">61.58</text>
<text class="s" font-size="17.4" text-anchor="middle" x="3790.8" y="1553.7">42.18</text>
<text class="s" font-size="17.4" text-anchor="middle" x="3858.3" y="1553.7">46.77</text>
<text class="s" font-size="17.4" text-anchor="middle" x="3921" y="1553.7">61.66</text>
<text class="s" font-size="17.4" text-anchor="middle" x="3988.5" y="1553.7">53.19</text>
<text class="s" font-size="17.4" text-anchor="middle" x="4056" y="1553.7">38.06</text>
<text class="s" font-size="17.4" text-anchor="middle" x="4119.3" y="1553.7">52.8</text>
<text class="s" font-size="17.4" text-anchor="middle" x="4188" y="1553.7">44.23</text>
<text class="s" font-size="17.4" text-anchor="middle" x="3200.2" y="1573">-</text>
<text class="s" font-size="17.4" text-anchor="middle" x="3297.8" y="1573">ResNet</text>
<text class="s" font-size="17.4" text-anchor="middle" x="3392.4" y="1573">-</text>
<text class="s" font-size="17.4" text-anchor="middle" x="3463.6" y="1573">48.92</text>
<text class="s" font-size="17.4" text-anchor="middle" x="3525.6" y="1573">51.53</text>
<text class="s" font-size="17.4" text-anchor="middle" x="3593.1" y="1573">49.40</text>
<text class="s" font-size="17.4" text-anchor="middle" x="3660.7" y="1573">47.65</text>
<text class="s" font-size="17.4" text-anchor="middle" x="3723.3" y="1573">47.89</text>
<text class="s" font-size="17.4" text-anchor="middle" x="3790.8" y="1573">47.66</text>
<text class="s" font-size="17.4" text-anchor="middle" x="3858.3" y="1573">57.66</text>
<text class="s" font-size="17.4" text-anchor="middle" x="3921" y="1573">57.84</text>
<text class="s" font-size="17.4" text-anchor="middle" x="3988.5" y="1573">57.75</text>
<text class="s" font-size="17.4" text-anchor="middle" x="4056" y="1573">41.84</text>
<text class="s" font-size="17.4" text-anchor="middle" x="4119.3" y="1573">55.69</text>
<text class="s" font-size="17.4" text-anchor="middle" x="4188" y="1573">47.78</text>
<text class="s" font-size="17.4" text-anchor="middle" x="3200.2" y="1592.9">-</text>
<text class="s" font-size="17.4" text-anchor="middle" x="3297.8" y="1592.9">-</text>
<text class="s" font-size="17.4" text-anchor="middle" x="3392.4" y="1592.9">VGGish</text>
<text class="s" font-size="17.4" text-anchor="middle" x="3463.6" y="1592.9">41.15</text>
<text class="s" font-size="17.4" text-anchor="middle" x="3525.6" y="1592.9">62.12</text>
<text class="s" font-size="17.4" text-anchor="middle" x="3593.1" y="1592.9">44.89</text>
<text class="s" font-size="17.4" text-anchor="middle" x="3660.7" y="1592.9">33.24</text>
<text class="s" font-size="17.4" text-anchor="middle" x="3723.3" y="1592.9">26.70</text>
<text class="s" font-size="17.4" text-anchor="middle" x="3790.8" y="1592.9">30.64</text>
<text class="s" font-size="17.4" text-anchor="middle" x="3858.3" y="1592.9">42.19</text>
<text class="s" font-size="17.4" text-anchor="middle" x="3921" y="1592.9">43.54</text>
<text class="s" font-size="17.4" text-anchor="middle" x="3988.5" y="1592.9">42.85</text>
<text class="s" font-size="17.4" text-anchor="middle" x="4056" y="1592.9">34.98</text>
<text class="s" font-size="17.4" text-anchor="middle" x="4119.3" y="1592.9">44.81</text>
<text class="s" font-size="17.4" text-anchor="middle" x="4188" y="1592.9">46.84</text>
<text class="s" font-size="17.4" text-anchor="middle" x="3200.2" y="1613.4">BiLSTM</text>
<text class="s" font-size="17.4" text-anchor="middle" x="3297.8" y="1613.4">EfficientNet</text>
<text class="s" font-size="17.4" text-anchor="middle" x="3392.4" y="1613.4">-</text>
<text class="s" font-size="17.4" text-anchor="middle" x="3463.6" y="1613.4">49.68</text>
<text class="s" font-size="17.4" text-anchor="middle" x="3525.6" y="1613.4">52.33</text>
<text class="s" font-size="17.4" text-anchor="middle" x="3593.1" y="1613.4">50.20</text>
<text class="s" font-size="17.4" text-anchor="middle" x="3660.7" y="1613.4">40.51</text>
<text class="s" font-size="17.4" text-anchor="middle" x="3723.3" y="1613.4">39.69</text>
<text class="s" font-size="17.4" text-anchor="middle" x="3790.8" y="1613.4">40.10</text>
<text class="s" font-size="17.4" text-anchor="middle" x="3858.3" y="1613.4">45.70</text>
<text class="s" font-size="17.4" text-anchor="middle" x="3921" y="1613.4">57.17</text>
<text class="s" font-size="17.4" text-anchor="middle" x="3988.5" y="1613.4">50.80</text>
<text class="s" font-size="17.4" text-anchor="middle" x="4056" y="1613.4">44.67</text>
<text class="s" font-size="17.4" text-anchor="middle" x="4119.3" y="1613.4">58.18</text>
<text class="s" font-size="17.4" text-anchor="middle" x="4188" y="1613.4">50.53</text>
<text class="s" font-size="17.4" text-anchor="middle" x="3200.2" y="1632">BiLSTM</text>
<text class="s" font-size="17.4" text-anchor="middle" x="3297.8" y="1632">ResNet</text>
<text class="s" font-size="17.4" text-anchor="middle" x="3392.4" y="1632">-</text>
<text class="s" font-size="17.4" text-anchor="middle" x="3463.6" y="1632">48.77</text>
<text class="s" font-size="17.4" text-anchor="middle" x="3525.6" y="1632">51.27</text>
<text class="s" font-size="17.4" text-anchor="middle" x="3593.1" y="1632">49.30</text>
<text class="s" font-size="17.4" text-anchor="middle" x="3660.7" y="1632">36.68</text>
<text class="s" font-size="17.4" text-anchor="middle" x="3723.3" y="1632">48.86</text>
<text class="s" font-size="17.4" text-anchor="middle" x="3790.8" y="1632">37.49</text>
<text class="s" font-size="17.4" text-anchor="middle" x="3858.3" y="1632">50.69</text>
<text class="s" font-size="17.4" text-anchor="middle" x="3921" y="1632">57.17</text>
<text class="s" font-size="17.4" text-anchor="middle" x="3988.5" y="1632">53.74</text>
<text class="s" font-size="17.4" text-anchor="middle" x="4056" y="1632">42.51</text>
<text class="s" font-size="17.4" text-anchor="middle" x="4119.3" y="1632">61.7</text>
<text class="s" font-size="17.4" text-anchor="middle" x="4188" y="1632">50.34</text>
<text class="s" font-size="17.4" text-anchor="middle" x="3200.2" y="1652">BERT</text>
<text class="s" font-size="17.4" text-anchor="middle" x="3297.8" y="1652">EfficientNet</text>
<text class="s" font-size="17.4" text-anchor="middle" x="3392.4" y="1652">-</text>
<text class="s" font-size="17.4" text-anchor="middle" x="3463.6" y="1652">65.47</text>
<text class="s" font-size="17.4" text-anchor="middle" x="3525.6" y="1652">69.88</text>
<text class="s" font-size="17.4" text-anchor="middle" x="3593.1" y="1652">66.75</text>
<text class="s" font-size="17.4" text-anchor="middle" x="3660.7" y="1652">41.16</text>
<text class="s" font-size="17.4" text-anchor="middle" x="3723.3" y="1652">61.68</text>
<text class="s" font-size="17.4" text-anchor="middle" x="3790.8" y="1652">44.29</text>
<text class="s" font-size="17.4" text-anchor="middle" x="3858.3" y="1652">55.74</text>
<text class="s" font-size="17.4" text-anchor="middle" x="3921" y="1652">58.35</text>
<text class="s" font-size="17.4" text-anchor="middle" x="3988.5" y="1652">57.02</text>
<text class="s b" font-size="17.4" fill="#FF0000" text-anchor="middle" x="4056" y="1652">53.59</text>
<text class="s" font-size="17.4" text-anchor="middle" x="4119.3" y="1652">61.9</text>
<text class="s b" font-size="17.4" fill="#FF0000" text-anchor="middle" x="4188" y="1652">58.44</text>
<text class="s" font-size="17.4" text-anchor="middle" x="3200.2" y="1671.2">BERT</text>
<text class="s" font-size="17.4" text-anchor="middle" x="3297.8" y="1671.2">ResNet</text>
<text class="s" font-size="17.4" text-anchor="middle" x="3392.4" y="1671.2">-</text>
<text class="s b" font-size="17.4" fill="#FF0000" text-anchor="middle" x="3463.6" y="1671.2">67.32</text>
<text class="s b" font-size="17.4" fill="#FF0000" text-anchor="middle" x="3525.6" y="1671.2">73.36</text>
<text class="s b" font-size="17.4" fill="#FF0000" text-anchor="middle" x="3593.1" y="1671.2">68.89</text>
<text class="s b" font-size="17.4" fill="#FF0000" text-anchor="middle" x="3660.7" y="1671.2">56.24</text>
<text class="s b" font-size="17.4" fill="#FF0000" text-anchor="middle" x="3723.3" y="1671.2">68.54</text>
<text class="s b" font-size="17.4" fill="#FF0000" text-anchor="middle" x="3790.8" y="1671.2">57.82</text>
<text class="s b" font-size="17.4" fill="#FF0000" text-anchor="middle" x="3858.3" y="1671.2">67.84</text>
<text class="s" font-size="17.4" text-anchor="middle" x="3921" y="1671.2">65.69</text>
<text class="s b" font-size="17.4" fill="#FF0000" text-anchor="middle" x="3988.5" y="1671.2">66.75</text>
<text class="s" font-size="17.4" text-anchor="middle" x="4056" y="1671.2">52.03</text>
<text class="s b" font-size="17.4" fill="#FF0000" text-anchor="middle" x="4119.3" y="1671.2">66.25</text>
<text class="s" font-size="17.4" text-anchor="middle" x="4188" y="1671.2">58.29</text>
<text class="s" font-size="17.4" text-anchor="middle" x="3200.2" y="1690.5">GPT-2</text>
<text class="s" font-size="17.4" text-anchor="middle" x="3297.8" y="1690.5">EfficientNet</text>
<text class="s" font-size="17.4" text-anchor="middle" x="3392.4" y="1690.5">-</text>
<text class="s" font-size="17.4" text-anchor="middle" x="3463.6" y="1690.5">58.13</text>
<text class="s" font-size="17.4" text-anchor="middle" x="3525.6" y="1690.5">64.24</text>
<text class="s" font-size="17.4" text-anchor="middle" x="3593.1" y="1690.5">59.17</text>
<text class="s" font-size="17.4" text-anchor="middle" x="3660.7" y="1690.5">38.08</text>
<text class="s" font-size="17.4" text-anchor="middle" x="3723.3" y="1690.5">61.58</text>
<text class="s" font-size="17.4" text-anchor="middle" x="3790.8" y="1690.5">42.18</text>
<text class="s" font-size="17.4" text-anchor="middle" x="3858.3" y="1690.5">45.45</text>
<text class="s" font-size="17.4" text-anchor="middle" x="3921" y="1690.5">56.05</text>
<text class="s" font-size="17.4" text-anchor="middle" x="3988.5" y="1690.5">50.20</text>
<text class="s" font-size="17.4" text-anchor="middle" x="4056" y="1690.5">46.02</text>
<text class="s" font-size="17.4" text-anchor="middle" x="4119.3" y="1690.5">63.35</text>
<text class="s" font-size="17.4" text-anchor="middle" x="4188" y="1690.5">53.31</text>
<text class="s" font-size="17.4" text-anchor="middle" x="3200.2" y="1709.8">GPT-2</text>
<text class="s" font-size="17.4" text-anchor="middle" x="3297.8" y="1709.8">ResNet</text>
<text class="s" font-size="17.4" text-anchor="middle" x="3392.4" y="1709.8">-</text>
<text class="s" font-size="17.4" text-anchor="middle" x="3463.6" y="1709.8">59.09</text>
<text class="s" font-size="17.4" text-anchor="middle" x="3525.6" y="1709.8">66.32</text>
<text class="s" font-size="17.4" text-anchor="middle" x="3593.1" y="1709.8">60.03</text>
<text class="s" font-size="17.4" text-anchor="middle" x="3660.7" y="1709.8">42.17</text>
<text class="s" font-size="17.4" text-anchor="middle" x="3723.3" y="1709.8">61.80</text>
<text class="s" font-size="17.4" text-anchor="middle" x="3790.8" y="1709.8">45.91</text>
<text class="s" font-size="17.4" text-anchor="middle" x="3858.3" y="1709.8">50.55</text>
<text class="s" font-size="17.4" text-anchor="middle" x="3921" y="1709.8">61.65</text>
<text class="s" font-size="17.4" text-anchor="middle" x="3988.5" y="1709.8">55.56</text>
<text class="s" font-size="17.4" text-anchor="middle" x="4056" y="1709.8">45.75</text>
<text class="s" font-size="17.4" text-anchor="middle" x="4119.3" y="1709.8">64.6</text>
<text class="s" font-size="17.4" text-anchor="middle" x="4188" y="1709.8">53.56</text>
<text class="s" font-size="17.4" text-anchor="middle" x="3200.2" y="1729.7">-</text>
<text class="s" font-size="17.4" text-anchor="middle" x="3297.8" y="1729.7">EfficientNet</text>
<text class="s" font-size="17.4" text-anchor="middle" x="3392.4" y="1729.7">VGGish</text>
<text class="s" font-size="17.4" text-anchor="middle" x="3463.6" y="1729.7">49.22</text>
<text class="s" font-size="17.4" text-anchor="middle" x="3525.6" y="1729.7">50.21</text>
<text class="s" font-size="17.4" text-anchor="middle" x="3593.1" y="1729.7">48.27</text>
<text class="s" font-size="17.4" text-anchor="middle" x="3660.7" y="1729.7">41.15</text>
<text class="s" font-size="17.4" text-anchor="middle" x="3723.3" y="1729.7">62.12</text>
<text class="s" font-size="17.4" text-anchor="middle" x="3790.8" y="1729.7">44.89</text>
<text class="s" font-size="17.4" text-anchor="middle" x="3858.3" y="1729.7">38.59</text>
<text class="s" font-size="17.4" text-anchor="middle" x="3921" y="1729.7">59.19</text>
<text class="s" font-size="17.4" text-anchor="middle" x="3988.5" y="1729.7">46.73</text>
<text class="s" font-size="17.4" text-anchor="middle" x="4056" y="1729.7">40.89</text>
<text class="s" font-size="17.4" text-anchor="middle" x="4119.3" y="1729.7">64.18</text>
<text class="s" font-size="17.4" text-anchor="middle" x="4188" y="1729.7">49.96</text>
<text class="s" font-size="17.4" text-anchor="middle" x="3200.2" y="1749.6">-</text>
<text class="s" font-size="17.4" text-anchor="middle" x="3297.8" y="1749.6">ResNet</text>
<text class="s" font-size="17.4" text-anchor="middle" x="3392.4" y="1749.6">VGGish</text>
<text class="s" font-size="17.4" text-anchor="middle" x="3463.6" y="1749.6">52.47</text>
<text class="s" font-size="17.4" text-anchor="middle" x="3525.6" y="1749.6">53.52</text>
<text class="s" font-size="17.4" text-anchor="middle" x="3593.1" y="1749.6">51.62</text>
<text class="s" font-size="17.4" text-anchor="middle" x="3660.7" y="1749.6">52.12</text>
<text class="s" font-size="17.4" text-anchor="middle" x="3723.3" y="1749.6">51.04</text>
<text class="s" font-size="17.4" text-anchor="middle" x="3790.8" y="1749.6">51.44</text>
<text class="s" font-size="17.4" text-anchor="middle" x="3858.3" y="1749.6">42.12</text>
<text class="s" font-size="17.4" text-anchor="middle" x="3921" y="1749.6">58.74</text>
<text class="s" font-size="17.4" text-anchor="middle" x="3988.5" y="1749.6">49.06</text>
<text class="s" font-size="17.4" text-anchor="middle" x="4056" y="1749.6">42.63</text>
<text class="s" font-size="17.4" text-anchor="middle" x="4119.3" y="1749.6">65.84</text>
<text class="s" font-size="17.4" text-anchor="middle" x="4188" y="1749.6">51.75</text>
<text class="s" font-size="17.4" text-anchor="middle" x="3200.2" y="1768.9">BiLSTM</text>
<text class="s" font-size="17.4" text-anchor="middle" x="3297.8" y="1768.9">-</text>
<text class="s" font-size="17.4" text-anchor="middle" x="3392.4" y="1768.9">VGGish</text>
<text class="s" font-size="17.4" text-anchor="middle" x="3463.6" y="1768.9">46.97</text>
<text class="s" font-size="17.4" text-anchor="middle" x="3525.6" y="1768.9">49.55</text>
<text class="s" font-size="17.4" text-anchor="middle" x="3593.1" y="1768.9">46.84</text>
<text class="s" font-size="17.4" text-anchor="middle" x="3660.7" y="1768.9">43.13</text>
<text class="s" font-size="17.4" text-anchor="middle" x="3723.3" y="1768.9">64.83</text>
<text class="s" font-size="17.4" text-anchor="middle" x="3790.8" y="1768.9">46.82</text>
<text class="s" font-size="17.4" text-anchor="middle" x="3858.3" y="1768.9">40.85</text>
<text class="s" font-size="17.4" text-anchor="middle" x="3921" y="1768.9">66.59</text>
<text class="s" font-size="17.4" text-anchor="middle" x="3988.5" y="1768.9">50.64</text>
<text class="s" font-size="17.4" text-anchor="middle" x="4056" y="1768.9">42.23</text>
<text class="s" font-size="17.4" text-anchor="middle" x="4119.3" y="1768.9">64.18</text>
<text class="s" font-size="17.4" text-anchor="middle" x="4188" y="1768.9">50.94</text>
<text class="s" font-size="17.4" text-anchor="middle" x="3200.2" y="1788.2">BERT</text>
<text class="s" font-size="17.4" text-anchor="middle" x="3297.8" y="1788.2">-</text>
<text class="s" font-size="17.4" text-anchor="middle" x="3392.4" y="1788.2">VGGish</text>
<text class="s" font-size="17.4" text-anchor="middle" x="3463.6" y="1788.2">54.41</text>
<text class="s" font-size="17.4" text-anchor="middle" x="3525.6" y="1788.2">55.25</text>
<text class="s" font-size="17.4" text-anchor="middle" x="3593.1" y="1788.2">55.74</text>
<text class="s" font-size="17.4" text-anchor="middle" x="3660.7" y="1788.2">46.93</text>
<text class="s" font-size="17.4" text-anchor="middle" x="3723.3" y="1788.2">63.31</text>
<text class="s" font-size="17.4" text-anchor="middle" x="3790.8" y="1788.2">50.36</text>
<text class="s" font-size="17.4" text-anchor="middle" x="3858.3" y="1788.2">43.57</text>
<text class="s" font-size="17.4" text-anchor="middle" x="3921" y="1788.2">68.39</text>
<text class="s" font-size="17.4" text-anchor="middle" x="3988.5" y="1788.2">53.22</text>
<text class="s" font-size="17.4" text-anchor="middle" x="4056" y="1788.2">48.99</text>
<text class="s" font-size="17.4" text-anchor="middle" x="4119.3" y="1788.2">65.22</text>
<text class="s" font-size="17.4" text-anchor="middle" x="4188" y="1788.2">55.95</text>
<text class="s" font-size="17.4" text-anchor="middle" x="3200.2" y="1806.9">GPT-2</text>
<text class="s" font-size="17.4" text-anchor="middle" x="3297.8" y="1806.9">-</text>
<text class="s" font-size="17.4" text-anchor="middle" x="3392.4" y="1806.9">VGGish</text>
<text class="s" font-size="17.4" text-anchor="middle" x="3463.6" y="1806.9">51.41</text>
<text class="s" font-size="17.4" text-anchor="middle" x="3525.6" y="1806.9">53.48</text>
<text class="s" font-size="17.4" text-anchor="middle" x="3593.1" y="1806.9">52.42</text>
<text class="s" font-size="17.4" text-anchor="middle" x="3660.7" y="1806.9">45.23</text>
<text class="s" font-size="17.4" text-anchor="middle" x="3723.3" y="1806.9">66.98</text>
<text class="s" font-size="17.4" text-anchor="middle" x="3790.8" y="1806.9">49.44</text>
<text class="s" font-size="17.4" text-anchor="middle" x="3858.3" y="1806.9">41.52</text>
<text class="s b" font-size="17.4" fill="#FF0000" text-anchor="middle" x="3921" y="1806.9">69.73</text>
<text class="s" font-size="17.4" text-anchor="middle" x="3988.5" y="1806.9">52.05</text>
<text class="s" font-size="17.4" text-anchor="middle" x="4056" y="1806.9">45.29</text>
<text class="s" font-size="17.4" text-anchor="middle" x="4119.3" y="1806.9">63.77</text>
<text class="s" font-size="17.4" text-anchor="middle" x="4188" y="1806.9">52.97</text>
<text class="s" font-size="17.4" text-anchor="middle" x="3200.2" y="1826.7">BERT</text>
<text class="s" font-size="17.4" text-anchor="middle" x="3297.8" y="1826.7">EfficientNet</text>
<text class="s" font-size="17.4" text-anchor="middle" x="3392.4" y="1826.7">VGGish</text>
<text class="s" font-size="17.4" text-anchor="middle" x="3463.6" y="1826.7">69.59</text>
<text class="s" font-size="17.4" text-anchor="middle" x="3525.6" y="1826.7">73.98</text>
<text class="s" font-size="17.4" text-anchor="middle" x="3593.1" y="1826.7">71.12</text>
<text class="s" font-size="17.4" text-anchor="middle" x="3660.7" y="1826.7">53.03</text>
<text class="s" font-size="17.4" text-anchor="middle" x="3723.3" y="1826.7">74.37</text>
<text class="s" font-size="17.4" text-anchor="middle" x="3790.8" y="1826.7">57.36</text>
<text class="s" font-size="17.4" text-anchor="middle" x="3858.3" y="1826.7">69.38</text>
<text class="s" font-size="17.4" text-anchor="middle" x="3921" y="1826.7">65.02</text>
<text class="s" font-size="17.4" text-anchor="middle" x="3988.5" y="1826.7">67.13</text>
<text class="s" font-size="17.4" text-anchor="middle" x="4056" y="1826.7">63.76</text>
<text class="s" font-size="17.4" text-anchor="middle" x="4119.3" y="1826.7">69.57</text>
<text class="s" font-size="17.4" text-anchor="middle" x="4188" y="1826.7">66.53</text>
<text class="s" font-size="17.4" text-anchor="middle" x="3200.2" y="1846">BERT</text>
<text class="s" font-size="17.4" text-anchor="middle" x="3297.8" y="1846">ResNet</text>
<text class="s" font-size="17.4" text-anchor="middle" x="3392.4" y="1846">VGGish</text>
<text class="s" font-size="17.4" text-anchor="middle" x="3463.6" y="1846">71.64</text>
<text class="s b" font-size="17.4" fill="#0000FF" text-anchor="middle" x="3525.6" y="1846">76.31</text>
<text class="s b" font-size="17.4" fill="#0000FF" text-anchor="middle" x="3593.1" y="1846">73.29</text>
<text class="s b" font-size="17.4" fill="#0000FF" text-anchor="middle" x="3660.7" y="1846">56.71</text>
<text class="s b" font-size="17.4" fill="#0000FF" text-anchor="middle" x="3723.3" y="1846">76.32</text>
<text class="s b" font-size="17.4" fill="#0000FF" text-anchor="middle" x="3790.8" y="1846">61.76</text>
<text class="s b" font-size="17.4" fill="#0000FF" text-anchor="middle" x="3858.3" y="1846">76.28</text>
<text class="s b" font-size="17.4" fill="#0000FF" text-anchor="middle" x="3921" y="1846">74.22</text>
<text class="s b" font-size="17.4" fill="#0000FF" text-anchor="middle" x="3988.5" y="1846">75.23</text>
<text class="s b" font-size="17.4" fill="#0000FF" text-anchor="middle" x="4056" y="1846">76.47</text>
<text class="s b" font-size="17.4" fill="#0000FF" text-anchor="middle" x="4119.3" y="1846">75.36</text>
<text class="s b" font-size="17.4" fill="#0000FF" text-anchor="middle" x="4188" y="1846">75.91</text>
<text class="s" font-size="17.4" text-anchor="middle" x="3200.2" y="1865.3">GPT-2</text>
<text class="s" font-size="17.4" text-anchor="middle" x="3297.8" y="1865.3">EfficientNet</text>
<text class="s" font-size="17.4" text-anchor="middle" x="3392.4" y="1865.3">VGGish</text>
<text class="s" font-size="17.4" text-anchor="middle" x="3463.6" y="1865.3">65.66</text>
<text class="s" font-size="17.4" text-anchor="middle" x="3525.6" y="1865.3">69.47</text>
<text class="s" font-size="17.4" text-anchor="middle" x="3593.1" y="1865.3">66.86</text>
<text class="s" font-size="17.4" text-anchor="middle" x="3660.7" y="1865.3">47.06</text>
<text class="s" font-size="17.4" text-anchor="middle" x="3723.3" y="1865.3">73.71</text>
<text class="s" font-size="17.4" text-anchor="middle" x="3790.8" y="1865.3">51.49</text>
<text class="s" font-size="17.4" text-anchor="middle" x="3858.3" y="1865.3">58.95</text>
<text class="s" font-size="17.4" text-anchor="middle" x="3921" y="1865.3">62.78</text>
<text class="s" font-size="17.4" text-anchor="middle" x="3988.5" y="1865.3">60.8</text>
<text class="s" font-size="17.4" text-anchor="middle" x="4056" y="1865.3">58.16</text>
<text class="s" font-size="17.4" text-anchor="middle" x="4119.3" y="1865.3">62.73</text>
<text class="s" font-size="17.4" text-anchor="middle" x="4188" y="1865.3">60.36</text>
<text class="s" font-size="17.4" text-anchor="middle" x="3200.2" y="1884.6">GPT-2</text>
<text class="s" font-size="17.4" text-anchor="middle" x="3297.8" y="1884.6">ResNet</text>
<text class="s" font-size="17.4" text-anchor="middle" x="3392.4" y="1884.6">VGGish</text>
<text class="s b" font-size="17.4" fill="#0000FF" text-anchor="middle" x="3463.6" y="1884.6">71.76</text>
<text class="s" font-size="17.4" text-anchor="middle" x="3525.6" y="1884.6">74.87</text>
<text class="s" font-size="17.4" text-anchor="middle" x="3593.1" y="1884.6">72.88</text>
<text class="s" font-size="17.4" text-anchor="middle" x="3660.7" y="1884.6">52.09</text>
<text class="s" font-size="17.4" text-anchor="middle" x="3723.3" y="1884.6">73.82</text>
<text class="s" font-size="17.4" text-anchor="middle" x="3790.8" y="1884.6">56.17</text>
<text class="s" font-size="17.4" text-anchor="middle" x="3858.3" y="1884.6">74.44</text>
<text class="s" font-size="17.4" text-anchor="middle" x="3921" y="1884.6">67.26</text>
<text class="s" font-size="17.4" text-anchor="middle" x="3988.5" y="1884.6">70.67</text>
<text class="s" font-size="17.4" text-anchor="middle" x="4056" y="1884.6">65.80</text>
<text class="s" font-size="17.4" text-anchor="middle" x="4119.3" y="1884.6">73.29</text>
<text class="s" font-size="17.4" text-anchor="middle" x="4188" y="1884.6">69.34</text>
<text class="s" font-size="17.4" text-anchor="middle" x="3200.2" y="1905.1">-</text>
<text class="s" font-size="17.4" text-anchor="middle" x="3297.8" y="1905.1">-</text>
<text class="s" font-size="17.4" text-anchor="middle" x="3392.4" y="1905.1">-</text>
<text class="s" font-size="17.4" text-anchor="middle" x="3463.6" y="1905.1">+6.6</text>
<text class="s" font-size="17.4" text-anchor="middle" x="3525.6" y="1905.1">+4.0</text>
<text class="s" font-size="17.4" text-anchor="middle" x="3593.1" y="1905.1">+6.4</text>
<text class="s" font-size="17.4" text-anchor="middle" x="3660.7" y="1905.1">+0.8</text>
<text class="s" font-size="17.4" text-anchor="middle" x="3723.3" y="1905.1">+11.3</text>
<text class="s" font-size="17.4" text-anchor="middle" x="3790.8" y="1905.1">+6.8</text>
<text class="s" font-size="17.4" text-anchor="middle" x="3858.3" y="1905.1">+12.4</text>
<text class="s" font-size="17.4" text-anchor="middle" x="3921" y="1905.1">+6.4</text>
<text class="s" font-size="17.4" text-anchor="middle" x="3988.5" y="1905.1">+12.6</text>
<text class="s" font-size="17.4" text-anchor="middle" x="4056" y="1905.1">+42.6</text>
<text class="s" font-size="17.4" text-anchor="middle" x="4119.3" y="1905.1">+13.7</text>
<text class="s" font-size="17.4" text-anchor="middle" x="4188" y="1905.1">+29.6</text>
<text class="s" font-size="17.4" text-anchor="middle" x="3056.7" y="1495.2">Text</text>
<text class="s" font-size="17.4" text-anchor="middle" x="3056.7" y="1563.4">Video</text>
<text class="s" font-size="17.4" text-anchor="middle" x="3056.7" y="1592.9">Audio</text>
<text class="s" font-size="17.4" text-anchor="middle" x="3056.7" y="1661.6">Text+Video</text>
<text class="s" font-size="17.4" text-anchor="middle" x="3056.7" y="1739.6">Video+Audio</text>
<text class="s" font-size="17.4" text-anchor="middle" x="3056.7" y="1788.2">Text+Audio</text>
<text class="s" font-size="17.4" text-anchor="middle" x="3056.7" y="1855.6">Text+Video+Audio</text>
<text class="s" font-size="17.4" text-anchor="middle" x="3056.7" y="1905.1">Trimodal <tspan font-style="italic">vs</tspan> Bimodal (%)</text>
<line x1="2961.2" y1="2016.1" x2="4177.4" y2="2016.1" stroke="#000" stroke-width="2.6"/>
<line x1="3244.8" y1="2062" x2="4177.4" y2="2062" stroke="#000" stroke-width="1.1"/>
<line x1="2961.2" y1="2095.8" x2="4177.4" y2="2095.8" stroke="#000" stroke-width="1.1"/>
<line x1="2961.2" y1="2130" x2="4177.4" y2="2130" stroke="#000" stroke-width="1.1"/>
<line x1="2961.2" y1="2231" x2="4177.4" y2="2231" stroke="#000" stroke-width="1.1"/>
<line x1="2961.2" y1="2340" x2="4177.4" y2="2340" stroke="#000" stroke-width="2.6"/>
<text class="s b" font-size="30.5" text-anchor="middle" x="3102" y="2068.3">Setup</text>
<text class="s b" font-size="30.5" text-anchor="middle" x="3359.3" y="2051.4">Sentiment</text>
<text class="s b" font-size="30.5" text-anchor="middle" x="3590.8" y="2051.4">Emotion</text>
<text class="s b" font-size="30.5" text-anchor="middle" x="3821.6" y="2051.4">Sarcasm</text>
<text class="s b" font-size="30.5" text-anchor="middle" x="4057.4" y="2051.4">Humor</text>
<text class="s" font-size="28.4" text-anchor="middle" x="3304.2" y="2085">M<tspan font-size="18" dy="5">a</tspan><tspan dy="-5">-F1</tspan></text>
<text class="s" font-size="28.4" text-anchor="middle" x="3420.5" y="2085">Acc</text>
<text class="s" font-size="28.4" text-anchor="middle" x="3536.9" y="2085">M<tspan font-size="18" dy="5">a</tspan><tspan dy="-5">-F1</tspan></text>
<text class="s" font-size="28.4" text-anchor="middle" x="3652" y="2085">Acc</text>
<text class="s" font-size="28.4" text-anchor="middle" x="3767.7" y="2085">M<tspan font-size="18" dy="5">a</tspan><tspan dy="-5">-F1</tspan></text>
<text class="s" font-size="28.4" text-anchor="middle" x="3882.9" y="2085">Acc</text>
<text class="s" font-size="28.4" text-anchor="middle" x="3999.2" y="2085">M<tspan font-size="18" dy="5">a</tspan><tspan dy="-5">-F1</tspan></text>
<text class="s" font-size="28.4" text-anchor="middle" x="4117.4" y="2085">Acc</text>
<text class="s" font-size="30.5" text-anchor="middle" x="3102" y="2120">STL</text>
<text class="s" font-size="30.5" text-anchor="middle" x="3304.2" y="2120">71.17</text>
<text class="s" font-size="30.5" text-anchor="middle" x="3420.5" y="2120">72.22</text>
<text class="s" font-size="30.5" text-anchor="middle" x="3536.9" y="2120">59.75</text>
<text class="s" font-size="30.5" text-anchor="middle" x="3652" y="2120">72.47</text>
<text class="s" font-size="30.5" text-anchor="middle" x="3767.7" y="2120">71.97</text>
<text class="s" font-size="30.5" text-anchor="middle" x="3882.9" y="2120">83.13</text>
<text class="s" font-size="30.5" text-anchor="middle" x="3999.2" y="2120">73.21</text>
<text class="s" font-size="30.5" text-anchor="middle" x="4117.4" y="2120">79.41</text>
<text class="s i" font-size="29" text-anchor="middle" x="3102" y="2153.6" letter-spacing="3.3">S − MTL : Emo.</text>
<text class="s" font-size="30.5" text-anchor="middle" x="3304.2" y="2153.6">71.61</text>
<text class="s" font-size="30.5" text-anchor="middle" x="3420.5" y="2153.6">72.85</text>
<text class="s b" font-size="30.5" text-anchor="middle" x="3536.9" y="2153.6">61.76</text>
<text class="s" font-size="30.5" text-anchor="middle" x="3652" y="2153.6">76.32</text>
<text class="s" font-size="30.5" text-anchor="middle" x="3767.7" y="2153.6">-</text>
<text class="s" font-size="30.5" text-anchor="middle" x="3882.9" y="2153.6">-</text>
<text class="s" font-size="30.5" text-anchor="middle" x="3999.2" y="2153.6">-</text>
<text class="s" font-size="30.5" text-anchor="middle" x="4117.4" y="2153.6">-</text>
<text class="s i" font-size="29" text-anchor="middle" x="3102" y="2187.4" letter-spacing="3.3">S − MTL : Sen.</text>
<text class="s" font-size="30.5" text-anchor="middle" x="3304.2" y="2187.4">73.14</text>
<text class="s" font-size="30.5" text-anchor="middle" x="3420.5" y="2187.4">75.52</text>
<text class="s" font-size="30.5" text-anchor="middle" x="3536.9" y="2187.4">60.12</text>
<text class="s" font-size="30.5" text-anchor="middle" x="3652" y="2187.4">73.39</text>
<text class="s" font-size="30.5" text-anchor="middle" x="3767.7" y="2187.4">-</text>
<text class="s" font-size="30.5" text-anchor="middle" x="3882.9" y="2187.4">-</text>
<text class="s" font-size="30.5" text-anchor="middle" x="3999.2" y="2187.4">-</text>
<text class="s" font-size="30.5" text-anchor="middle" x="4117.4" y="2187.4">-</text>
<text class="s b" font-size="30.5" text-anchor="middle" x="3102" y="2220.7">RaM</text>
<text class="s b" font-size="30.5" text-anchor="middle" x="3304.2" y="2220.7">74.31</text>
<text class="s b" font-size="30.5" text-anchor="middle" x="3420.5" y="2220.7">79.55</text>
<text class="s b" font-size="30.5" text-anchor="middle" x="3536.9" y="2220.7">61.76</text>
<text class="s b" font-size="30.5" text-anchor="middle" x="3652" y="2220.7">77.09</text>
<text class="s" font-size="30.5" text-anchor="middle" x="3767.7" y="2220.7">-</text>
<text class="s" font-size="30.5" text-anchor="middle" x="3882.9" y="2220.7">-</text>
<text class="s" font-size="30.5" text-anchor="middle" x="3999.2" y="2220.7">-</text>
<text class="s" font-size="30.5" text-anchor="middle" x="4117.4" y="2220.7">-</text>
<text class="s i" font-size="29" text-anchor="middle" x="3102" y="2255.2" letter-spacing="3.3">S − MTL : Sar.</text>
<text class="s" font-size="30.5" text-anchor="middle" x="3304.2" y="2255.2">-</text>
<text class="s" font-size="30.5" text-anchor="middle" x="3420.5" y="2255.2">-</text>
<text class="s" font-size="30.5" text-anchor="middle" x="3536.9" y="2255.2">-</text>
<text class="s" font-size="30.5" text-anchor="middle" x="3652" y="2255.2">-</text>
<text class="s" font-size="30.5" text-anchor="middle" x="3767.7" y="2255.2">74.22</text>
<text class="s b" font-size="30.5" text-anchor="middle" x="3882.9" y="2255.2">85.64</text>
<text class="s" font-size="30.5" text-anchor="middle" x="3999.2" y="2255.2">73.77</text>
<text class="s" font-size="30.5" text-anchor="middle" x="4117.4" y="2255.2">80.46</text>
<text class="s i" font-size="29" text-anchor="middle" x="3102" y="2288.3" letter-spacing="3.3">S − MTL : Hum.</text>
<text class="s" font-size="30.5" text-anchor="middle" x="3304.2" y="2288.3">-</text>
<text class="s" font-size="30.5" text-anchor="middle" x="3420.5" y="2288.3">-</text>
<text class="s" font-size="30.5" text-anchor="middle" x="3536.9" y="2288.3">-</text>
<text class="s" font-size="30.5" text-anchor="middle" x="3652" y="2288.3">-</text>
<text class="s" font-size="30.5" text-anchor="middle" x="3767.7" y="2288.3">72.27</text>
<text class="s" font-size="30.5" text-anchor="middle" x="3882.9" y="2288.3">83.84</text>
<text class="s" font-size="30.5" text-anchor="middle" x="3999.2" y="2288.3">74.51</text>
<text class="s" font-size="30.5" text-anchor="middle" x="4117.4" y="2288.3">85.42</text>
<text class="s b" font-size="30.5" text-anchor="middle" x="3102" y="2321">RaM</text>
<text class="s" font-size="30.5" text-anchor="middle" x="3304.2" y="2321">-</text>
<text class="s" font-size="30.5" text-anchor="middle" x="3420.5" y="2321">-</text>
<text class="s" font-size="30.5" text-anchor="middle" x="3536.9" y="2321">-</text>
<text class="s" font-size="30.5" text-anchor="middle" x="3652" y="2321">-</text>
<text class="s b" font-size="30.5" text-anchor="middle" x="3767.7" y="2321">75.23</text>
<text class="s b" font-size="30.5" text-anchor="middle" x="3882.9" y="2321">85.64</text>
<text class="s b" font-size="30.5" text-anchor="middle" x="3999.2" y="2321">75.91</text>
<text class="s b" font-size="30.5" text-anchor="middle" x="4117.4" y="2321">86.15</text>
</svg>
</body></html>
